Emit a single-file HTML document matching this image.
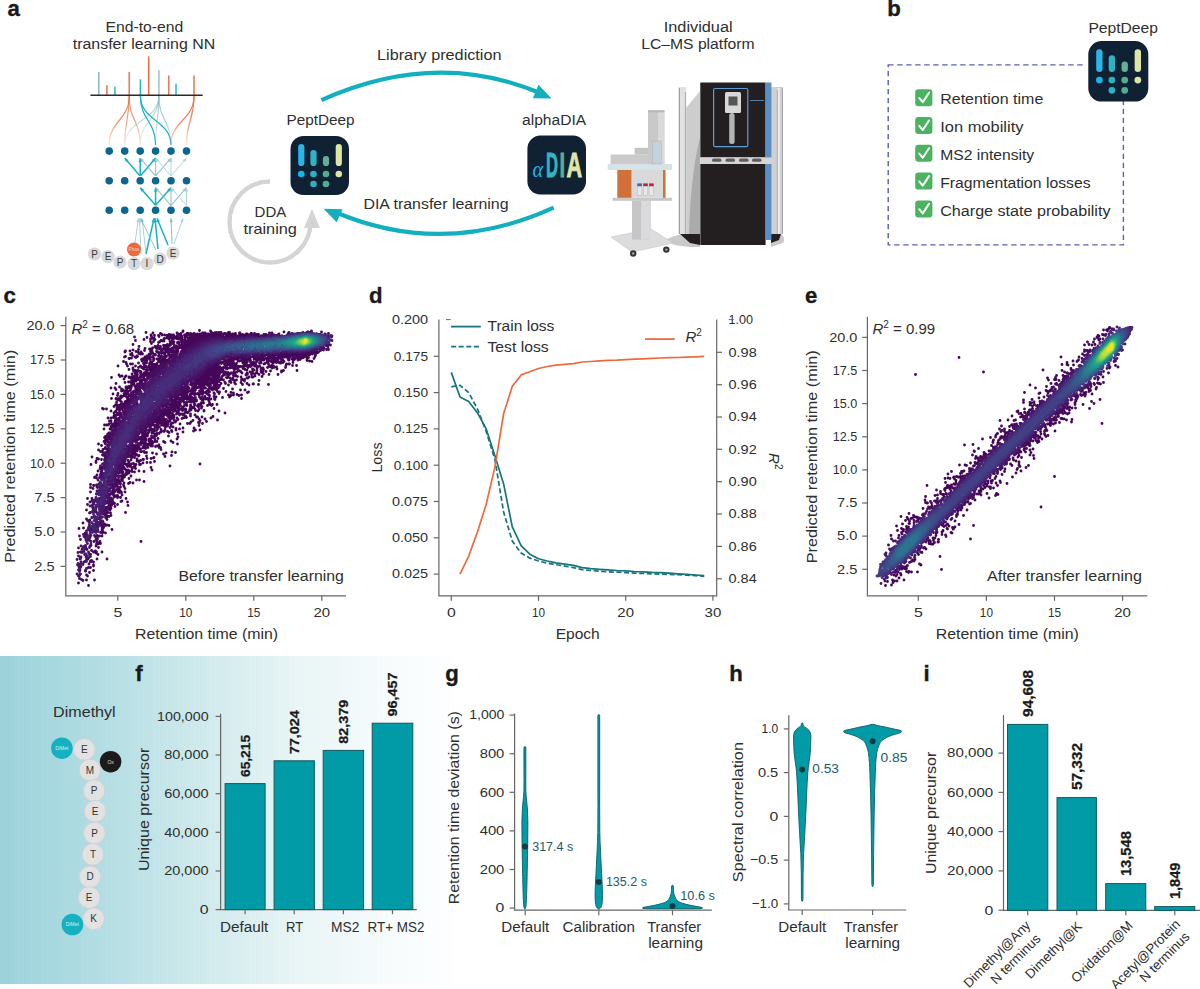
<!DOCTYPE html>
<html><head><meta charset="utf-8"><style>
html,body{margin:0;padding:0;background:#fff;width:1200px;height:989px;overflow:hidden}
svg{display:block;font-family:"Liberation Sans", sans-serif}
</style></head><body>
<svg width="1200" height="989" viewBox="0 0 1200 989" font-family='"Liberation Sans", sans-serif' font-size="13" fill="#2e2e2e">
<rect width="1200" height="989" fill="#fff"/>
<defs><linearGradient id="bg" x1="0" y1="0" x2="1" y2="0"><stop offset="0" stop-color="#9cd2db"/><stop offset="0.2" stop-color="#b0dce2"/><stop offset="0.42" stop-color="#cce8eb"/><stop offset="0.66" stop-color="#e9f5f6"/><stop offset="0.88" stop-color="#f8fcfd"/><stop offset="1" stop-color="#fdfeff"/></linearGradient></defs>
<rect x="0" y="656" width="452" height="328" fill="url(#bg)"/>
<text x="7.5" y="16.3" fill="#1a1a1a" font-weight="bold" font-size="22.2" stroke="#1a1a1a" stroke-width="0.35">a</text>
<text x="144.4" y="31.8" text-anchor="middle" font-size="15.5" textLength="77.8" lengthAdjust="spacingAndGlyphs">End-to-end</text>
<text x="144.0" y="49.3" text-anchor="middle" font-size="15.5" textLength="142.5" lengthAdjust="spacingAndGlyphs">transfer learning NN</text>
<line x1="98.8" y1="72.0" x2="98.8" y2="95.3" stroke="#7db3bc" stroke-width="1.4"/>
<line x1="106.9" y1="85.3" x2="106.9" y2="95.3" stroke="#ec6a3e" stroke-width="1.4"/>
<line x1="114.9" y1="86.4" x2="114.9" y2="95.3" stroke="#1bb3c6" stroke-width="1.4"/>
<line x1="129.2" y1="72.0" x2="129.2" y2="95.3" stroke="#ec6a3e" stroke-width="1.4"/>
<line x1="140.4" y1="79.3" x2="140.4" y2="95.3" stroke="#1bb3c6" stroke-width="1.4"/>
<line x1="148.7" y1="56.3" x2="148.7" y2="95.3" stroke="#ec6a3e" stroke-width="1.4"/>
<line x1="158.9" y1="70.3" x2="158.9" y2="95.3" stroke="#8dbdc3" stroke-width="1.4"/>
<line x1="168.8" y1="75.6" x2="168.8" y2="95.3" stroke="#ec6a3e" stroke-width="1.4"/>
<line x1="176.0" y1="83.7" x2="176.0" y2="95.3" stroke="#1bb3c6" stroke-width="1.4"/>
<line x1="194.0" y1="75.6" x2="194.0" y2="95.3" stroke="#ec6a3e" stroke-width="1.4"/>
<line x1="90.4" y1="95.3" x2="202.7" y2="95.3" stroke="#2a2a2a" stroke-width="1.4"/>
<defs><linearGradient id="fO" gradientUnits="userSpaceOnUse" x1="0" y1="118" x2="0" y2="146"><stop offset="0" stop-color="#ec6a3e"/><stop offset="1" stop-color="#ec6a3e" stop-opacity="0.15"/></linearGradient><linearGradient id="fG" gradientUnits="userSpaceOnUse" x1="0" y1="118" x2="0" y2="146"><stop offset="0" stop-color="#8fbfc5"/><stop offset="1" stop-color="#8fbfc5" stop-opacity="0.15"/></linearGradient></defs>
<path d="M129.2 96C129.2 120.5 109.2 120.5 109.2 145" fill="none" stroke="url(#fO)" stroke-width="1.2" opacity="0.8"/>
<path d="M129.2 96C129.2 120.5 124.7 120.5 124.7 145" fill="none" stroke="url(#fO)" stroke-width="1.2" opacity="0.7"/>
<path d="M129.2 96C129.2 120.5 140.2 120.5 140.2 145" fill="none" stroke="url(#fO)" stroke-width="1.2" opacity="0.7"/>
<path d="M158.9 96C158.9 120.5 124.7 120.5 124.7 145" fill="none" stroke="url(#fG)" stroke-width="1.2" opacity="0.6"/>
<path d="M158.9 96C158.9 120.5 140.2 120.5 140.2 145" fill="none" stroke="url(#fG)" stroke-width="1.2" opacity="0.6"/>
<path d="M140.4 96C140.4 120.5 155.6 120.5 155.6 145" fill="none" stroke="#16b1c4" stroke-width="1.2" opacity="1"/>
<path d="M140.4 96C140.4 120.5 171.0 120.5 171.0 145" fill="none" stroke="#16b1c4" stroke-width="1.2" opacity="1"/>
<path d="M158.9 96C158.9 120.5 155.6 120.5 155.6 145" fill="none" stroke="url(#fG)" stroke-width="1.2" opacity="0.7"/>
<path d="M158.9 96C158.9 120.5 171.0 120.5 171.0 145" fill="none" stroke="url(#fG)" stroke-width="1.2" opacity="0.8"/>
<path d="M194 96C194 120.5 171.0 120.5 171.0 145" fill="none" stroke="url(#fO)" stroke-width="1.2" opacity="0.9"/>
<path d="M194 96C194 120.5 186.5 120.5 186.5 145" fill="none" stroke="url(#fO)" stroke-width="1.2" opacity="0.8"/>
<g opacity="1"><line x1="139.89" y1="175.7" x2="124.7" y2="158.1" stroke="#16b1c4" stroke-width="1.5"/><path d="M124.7 158.1L128.5 159.9L125.9 162.1Z" fill="#16b1c4"/></g>
<g opacity="1"><line x1="140.2" y1="175.7" x2="140.2" y2="158.1" stroke="#16b1c4" stroke-width="1.5"/><path d="M140.2 158.1L141.9 161.9L138.5 161.9Z" fill="#16b1c4"/></g>
<g opacity="1"><line x1="140.50799999999998" y1="175.7" x2="155.6" y2="158.1" stroke="#16b1c4" stroke-width="1.5"/><path d="M155.6 158.1L154.4 162.1L151.8 159.9Z" fill="#16b1c4"/></g>
<g opacity="0.8"><line x1="155.292" y1="175.7" x2="140.2" y2="158.1" stroke="#7fb9c0" stroke-width="1.1"/><path d="M140.2 158.1L144.0 159.9L141.4 162.1Z" fill="#7fb9c0"/></g>
<g opacity="0.8"><line x1="155.6" y1="175.7" x2="155.6" y2="158.1" stroke="#7fb9c0" stroke-width="1.1"/><path d="M155.6 158.1L157.3 161.9L153.9 161.9Z" fill="#7fb9c0"/></g>
<g opacity="0.8"><line x1="155.908" y1="175.7" x2="171.0" y2="158.1" stroke="#7fb9c0" stroke-width="1.1"/><path d="M171.0 158.1L169.8 162.1L167.2 159.9Z" fill="#7fb9c0"/></g>
<g opacity="0.9"><line x1="170.692" y1="175.7" x2="155.6" y2="158.1" stroke="#a8d3d8" stroke-width="1"/><path d="M155.6 158.1L159.4 159.9L156.8 162.1Z" fill="#a8d3d8"/></g>
<g opacity="0.9"><line x1="171.0" y1="175.7" x2="171.0" y2="158.1" stroke="#a8d3d8" stroke-width="1"/><path d="M171.0 158.1L172.7 161.9L169.3 161.9Z" fill="#a8d3d8"/></g>
<g opacity="0.9"><line x1="171.31" y1="175.7" x2="186.5" y2="158.1" stroke="#a8d3d8" stroke-width="1"/><path d="M186.5 158.1L185.3 162.1L182.7 159.9Z" fill="#a8d3d8"/></g>
<g opacity="1"><line x1="155.6" y1="205.3" x2="140.2" y2="187.7" stroke="#16b1c4" stroke-width="1.5"/><path d="M140.2 187.7L144.0 189.5L141.4 191.7Z" fill="#16b1c4"/></g>
<g opacity="1"><line x1="155.6" y1="205.3" x2="155.6" y2="187.7" stroke="#16b1c4" stroke-width="1.5"/><path d="M155.6 187.7L157.3 191.5L153.9 191.5Z" fill="#16b1c4"/></g>
<g opacity="1"><line x1="155.6" y1="205.3" x2="171.0" y2="187.7" stroke="#16b1c4" stroke-width="1.5"/><path d="M171.0 187.7L169.8 191.7L167.2 189.5Z" fill="#16b1c4"/></g>
<g opacity="0.8"><line x1="171.0" y1="205.3" x2="155.6" y2="187.7" stroke="#7fb9c0" stroke-width="1.1"/><path d="M155.6 187.7L159.4 189.5L156.8 191.7Z" fill="#7fb9c0"/></g>
<g opacity="0.8"><line x1="171.0" y1="205.3" x2="171.0" y2="187.7" stroke="#7fb9c0" stroke-width="1.1"/><path d="M171.0 187.7L172.7 191.5L169.3 191.5Z" fill="#7fb9c0"/></g>
<g opacity="0.8"><line x1="171.0" y1="205.3" x2="186.5" y2="187.7" stroke="#7fb9c0" stroke-width="1.1"/><path d="M186.5 187.7L185.3 191.7L182.7 189.4Z" fill="#7fb9c0"/></g>
<g opacity="0.9"><line x1="186.5" y1="205.3" x2="171.0" y2="187.7" stroke="#a8d3d8" stroke-width="1"/><path d="M171.0 187.7L174.8 189.4L172.2 191.7Z" fill="#a8d3d8"/></g>
<g opacity="0.9"><line x1="186.5" y1="205.3" x2="186.5" y2="187.7" stroke="#a8d3d8" stroke-width="1"/><path d="M186.5 187.7L188.2 191.5L184.8 191.5Z" fill="#a8d3d8"/></g>
<g opacity="1"><line x1="135" y1="243" x2="138.5" y2="218.3" stroke="#a8d3d8" stroke-width="1"/><path d="M138.5 218.3L139.7 222.3L136.3 221.9Z" fill="#a8d3d8"/></g>
<g opacity="1"><line x1="141" y1="254" x2="139.5" y2="218.3" stroke="#a8d3d8" stroke-width="1"/><path d="M139.5 218.3L141.4 222.1L137.9 222.2Z" fill="#a8d3d8"/></g>
<g opacity="1"><line x1="146" y1="253" x2="142" y2="218.3" stroke="#a8d3d8" stroke-width="1"/><path d="M142 218.3L144.1 221.9L140.7 222.3Z" fill="#a8d3d8"/></g>
<g opacity="1"><line x1="146" y1="254" x2="154" y2="218.3" stroke="#16b1c4" stroke-width="1.5"/><path d="M154 218.3L154.8 222.4L151.5 221.7Z" fill="#16b1c4"/></g>
<g opacity="1"><line x1="158" y1="249" x2="155" y2="218.3" stroke="#16b1c4" stroke-width="1.5"/><path d="M155 218.3L157.1 222.0L153.7 222.3Z" fill="#16b1c4"/></g>
<g opacity="1"><line x1="168" y1="245" x2="157" y2="218.3" stroke="#16b1c4" stroke-width="1.5"/><path d="M157 218.3L160.0 221.2L156.9 222.5Z" fill="#16b1c4"/></g>
<g opacity="0.8"><line x1="156" y1="250" x2="140.5" y2="218.3" stroke="#7fb9c0" stroke-width="1"/><path d="M140.5 218.3L143.7 221.0L140.6 222.5Z" fill="#7fb9c0"/></g>
<g opacity="0.9"><line x1="172" y1="244" x2="171" y2="218.3" stroke="#7fb9c0" stroke-width="1"/><path d="M171 218.3L172.9 222.1L169.4 222.2Z" fill="#7fb9c0"/></g>
<g opacity="1"><line x1="174" y1="244" x2="183" y2="218.3" stroke="#a8d3d8" stroke-width="1"/><path d="M183 218.3L183.3 222.5L180.1 221.4Z" fill="#a8d3d8"/></g>
<circle cx="109.2" cy="151.1" r="3.8" fill="#0b6690"/>
<circle cx="124.7" cy="151.1" r="3.8" fill="#0b6690"/>
<circle cx="140.2" cy="151.1" r="3.8" fill="#0b6690"/>
<circle cx="155.6" cy="151.1" r="3.8" fill="#0b6690"/>
<circle cx="171.0" cy="151.1" r="3.8" fill="#0b6690"/>
<circle cx="186.5" cy="151.1" r="3.8" fill="#0b6690"/>
<circle cx="109.2" cy="180.7" r="3.8" fill="#0b6690"/>
<circle cx="124.7" cy="180.7" r="3.8" fill="#0b6690"/>
<circle cx="140.2" cy="180.7" r="3.8" fill="#0b6690"/>
<circle cx="155.6" cy="180.7" r="3.8" fill="#0b6690"/>
<circle cx="171.0" cy="180.7" r="3.8" fill="#0b6690"/>
<circle cx="186.5" cy="180.7" r="3.8" fill="#0b6690"/>
<circle cx="109.2" cy="210.3" r="3.8" fill="#0b6690"/>
<circle cx="124.7" cy="210.3" r="3.8" fill="#0b6690"/>
<circle cx="140.2" cy="210.3" r="3.8" fill="#0b6690"/>
<circle cx="155.6" cy="210.3" r="3.8" fill="#0b6690"/>
<circle cx="171.0" cy="210.3" r="3.8" fill="#0b6690"/>
<circle cx="186.5" cy="210.3" r="3.8" fill="#0b6690"/>
<circle cx="94.5" cy="254" r="6.6" fill="#d9d9da"/>
<circle cx="108" cy="256.5" r="6.6" fill="#d9d9da"/>
<circle cx="120" cy="262" r="6.6" fill="#d9d9da"/>
<circle cx="134" cy="263.5" r="6.6" fill="#d9d9da"/>
<circle cx="147" cy="263.5" r="6.6" fill="#d9d9da"/>
<circle cx="160" cy="259" r="6.6" fill="#d9d9da"/>
<circle cx="173" cy="253" r="6.6" fill="#d9d9da"/>
<text x="94.5" y="257.5" text-anchor="middle" fill="#3a3a3a" font-size="10">P</text>
<text x="108.0" y="260.0" text-anchor="middle" fill="#3a3a3a" font-size="10">E</text>
<text x="120.0" y="265.5" text-anchor="middle" fill="#3a3a3a" font-size="10">P</text>
<text x="134.0" y="267.0" text-anchor="middle" fill="#3a3a3a" font-size="10">T</text>
<text x="147.0" y="267.0" text-anchor="middle" fill="#3a3a3a" font-size="10">I</text>
<text x="160.0" y="262.5" text-anchor="middle" fill="#3a3a3a" font-size="10">D</text>
<text x="173.0" y="256.5" text-anchor="middle" fill="#3a3a3a" font-size="10">E</text>
<circle cx="134" cy="249.5" r="7" fill="#ec6a3e"/>
<text x="134.0" y="251.3" text-anchor="middle" fill="#ffd9c8" font-size="4.8">Phos</text>
<text x="439.3" y="60.0" text-anchor="middle" font-size="15.5" textLength="124.5" lengthAdjust="spacingAndGlyphs">Library prediction</text>
<text x="320.5" y="125.0" text-anchor="middle" font-size="14.8" textLength="68.0" lengthAdjust="spacingAndGlyphs">PeptDeep</text>
<text x="554.1" y="124.8" text-anchor="middle" font-size="15.5" textLength="64.1" lengthAdjust="spacingAndGlyphs">alphaDIA</text>
<text x="436.0" y="209.3" text-anchor="middle" font-size="15.5" textLength="145.1" lengthAdjust="spacingAndGlyphs">DIA transfer learning</text>
<text x="270.4" y="217.0" text-anchor="middle" font-size="15">DDA</text>
<text x="270.2" y="234.2" text-anchor="middle" font-size="15" textLength="53.5" lengthAdjust="spacingAndGlyphs">training</text>
<path d="M321.4 100.2Q435 49 540 93" fill="none" stroke="#12afbf" stroke-width="4.2"/>
<path d="M551.6 98.6L538.5 84.8L532.9 98.2Z" fill="#12afbf"/>
<path d="M553.7 207.7Q443 258 335 212" fill="none" stroke="#12afbf" stroke-width="4.2"/>
<path d="M323.5 208.8L342.6 209.3L336.6 222.3Z" fill="#12afbf"/>
<path d="M270 181.5A40.5 40.5 0 1 0 310.5 222" fill="none" stroke="#d3d4d6" stroke-width="4.3"/>
<path d="M312 209L304 228L320 228Z" fill="#d3d4d6"/>
<g transform="translate(290.5 136) scale(1.0000)">
<rect x="0" y="0" width="58.5" height="59" rx="13" fill="#0f2132"/>
<line x1="10.8" y1="11" x2="10.8" y2="27" stroke="#2ab4e8" stroke-width="6.2" stroke-linecap="round"/>
<line x1="23.0" y1="17" x2="23.0" y2="27" stroke="#2fb2c6" stroke-width="6.2" stroke-linecap="round"/>
<line x1="35.5" y1="23" x2="35.5" y2="27" stroke="#62ae98" stroke-width="6.2" stroke-linecap="round"/>
<line x1="48.3" y1="11" x2="48.3" y2="27" stroke="#dde6a4" stroke-width="6.2" stroke-linecap="round"/>
<circle cx="10.8" cy="38" r="3.3" fill="#13b6ea"/>
<circle cx="23.0" cy="38" r="3.3" fill="#2ab1c3"/>
<circle cx="35.5" cy="38" r="3.3" fill="#50ad90"/>
<circle cx="48.3" cy="38" r="3.3" fill="#dfe4a2"/>
<circle cx="23.0" cy="48" r="3.3" fill="#2ab1c3"/>
<circle cx="35.5" cy="48" r="3.3" fill="#50ad90"/>
</g>
<rect x="527.4" y="135.6" width="58.6" height="59" rx="13" fill="#0f2132"/>
<text x="532.6" y="177" font-family="Liberation Serif" font-style="italic" font-size="24" fill="#1fb5e8" textLength="10.6" lengthAdjust="spacingAndGlyphs">α</text>
<text x="545.9" y="176.6" font-weight="bold" font-size="35" fill="#33b4c4" stroke="#33b4c4" stroke-width="0.9" textLength="12.0" lengthAdjust="spacingAndGlyphs">D</text>
<text x="559.6" y="176.6" font-weight="bold" font-size="35" fill="#5aae96" stroke="#5aae96" stroke-width="0.9" textLength="5.6" lengthAdjust="spacingAndGlyphs">I</text>
<text x="566.6" y="176.6" font-weight="bold" font-size="35" fill="#dfe6a6" stroke="#dfe6a6" stroke-width="0.9" textLength="15.6" lengthAdjust="spacingAndGlyphs">A</text>
<text x="698.2" y="32.0" text-anchor="middle" font-size="15.5" textLength="68.8" lengthAdjust="spacingAndGlyphs">Individual</text>
<text x="697.9" y="49.0" text-anchor="middle" font-size="15.5" textLength="113.4" lengthAdjust="spacingAndGlyphs">LC–MS platform</text>
<path d="M666 240 C672 236 680 234 690 234 L700 234 L700 247 L690 247 C678 246 668 244 666 240Z" fill="#c9c9c9"/>
<path d="M771 234 L781 234 C784 236 785 240 783 243 L771 247Z" fill="#c9c9c9"/>
<path d="M686 108 L700 91 L700 234 L686 234Z" fill="#cdcdcd"/>
<path d="M700 138 C694 160 690 195 689 234 L700 234Z" fill="#ababab"/>
<rect x="678.6" y="87" width="7.7" height="147" fill="#e2e2e2"/>
<rect x="678.9" y="88" width="0.9" height="146" fill="#8a8a8a"/><rect x="684.9" y="92" width="0.8" height="142" fill="#9a9a9a"/>
<path d="M680 234 L700 234 L700 245 L690 243Z" fill="#231f20"/>
<path d="M771 87 L783 87 L783 234 L771 234Z" fill="#cfd0d2"/>
<rect x="777.5" y="88" width="2.2" height="146" fill="#eeeeee"/><rect x="776.9" y="90" width="0.7" height="144" fill="#9a9a9a"/><rect x="782.2" y="88" width="0.8" height="146" fill="#9a9a9a"/>
<path d="M771 234 L781 234 L779 240 L771 243Z" fill="#231f20"/>
<rect x="700.3" y="82.5" width="65.3" height="75" fill="#231f20"/>
<rect x="700.3" y="164" width="65.3" height="81" fill="#231f20"/>
<rect x="700.3" y="157.4" width="71.1" height="6.6" fill="#d5d5d5"/>
<rect x="712" y="158.6" width="9.5" height="3.2" rx="1.6" fill="#5e5e5e"/>
<rect x="725.5" y="158.6" width="9.5" height="3.2" rx="1.6" fill="#5e5e5e"/>
<rect x="739" y="158.6" width="9.5" height="3.2" rx="1.6" fill="#5e5e5e"/>
<rect x="752" y="158.6" width="9.5" height="3.2" rx="1.6" fill="#5e5e5e"/>
<rect x="765.6" y="82.5" width="5.8" height="75" fill="#5b8ec3"/>
<rect x="765.6" y="164" width="5.8" height="76" fill="#5b8ec3"/>
<rect x="713.6" y="88.5" width="34.2" height="58.2" rx="1.5" fill="none" stroke="#5c9bd3" stroke-width="1.2"/>
<rect x="725" y="92" width="16" height="21" rx="1.5" fill="#d8d8d8"/>
<rect x="728.5" y="96.5" width="9" height="9" fill="#555"/>
<rect x="729.2" y="113" width="5.4" height="31" rx="2.5" fill="#b4b4b4"/>
<rect x="750" y="100" width="14" height="0.8" fill="#5c9bd3"/>
<path d="M611 237 L651 229 L673 243 L632 252Z" fill="#dcdcdc" stroke="#c2c2c2" stroke-width="0.6"/>
<circle cx="633.2" cy="253.5" r="3.2" fill="#333"/><circle cx="666.3" cy="249.6" r="3.2" fill="#333"/><circle cx="633.2" cy="253.5" r="1.2" fill="#aaa"/><circle cx="666.3" cy="249.6" r="1.2" fill="#aaa"/>
<rect x="632" y="200.6" width="19" height="39" fill="#c6c6c8"/>
<rect x="641" y="200.6" width="10" height="39" fill="#dadadc"/>
<rect x="612.5" y="197.8" width="59.5" height="3" fill="#c8c8c8"/>
<rect x="617.3" y="170" width="14.4" height="27.8" fill="#d2703a"/>
<rect x="631.7" y="170" width="33.6" height="27.8" fill="#d9d9d9"/>
<rect x="663" y="170" width="2.5" height="27.8" fill="#d2703a"/>
<rect x="637.3000000000001" y="183.4" width="4.6" height="3" fill="#3f63c7"/><rect x="637.3000000000001" y="186.4" width="4.6" height="9" fill="#e8e8e8" stroke="#aaa" stroke-width="0.4"/>
<rect x="643.2" y="183.4" width="4.6" height="3" fill="#c0223a"/><rect x="643.2" y="186.4" width="4.6" height="9" fill="#e8e8e8" stroke="#aaa" stroke-width="0.4"/>
<rect x="649.1" y="183.4" width="4.6" height="3" fill="#c0223a"/><rect x="649.1" y="186.4" width="4.6" height="9" fill="#e8e8e8" stroke="#aaa" stroke-width="0.4"/>
<rect x="607.7" y="164.1" width="64.3" height="5.9" fill="#d5e2e6"/>
<rect x="610.6" y="154.5" width="41.3" height="9.6" fill="#cbcbcb"/>
<rect x="634.6" y="147.8" width="17.4" height="6.7" fill="#c4c4c4"/>
<rect x="648" y="110.3" width="16.4" height="53.8" fill="#c9c9c9"/>
<rect x="658" y="112" width="6.4" height="52" fill="#d9d9d9"/>
<rect x="652.3" y="141" width="9.2" height="23" fill="#c3d2d6" stroke="#aab" stroke-width="0.4"/>
<rect x="648" y="110.3" width="16.4" height="2" fill="#b5b5b5"/>
<text x="887.2" y="15.8" fill="#1a1a1a" font-weight="bold" font-size="22.2" stroke="#1a1a1a" stroke-width="0.35">b</text>
<rect x="888.2" y="64.9" width="235.2" height="180" fill="none" stroke="#5a5fae" stroke-width="1.4" stroke-dasharray="5.4 3.6"/>
<rect x="1085" y="60" width="66" height="10" fill="#fff"/>
<g transform="translate(1088.3 41.1) scale(1.0256)">
<rect x="0" y="0" width="58.5" height="59" rx="13" fill="#0f2132"/>
<line x1="10.8" y1="11" x2="10.8" y2="27" stroke="#2ab4e8" stroke-width="6.2" stroke-linecap="round"/>
<line x1="23.0" y1="17" x2="23.0" y2="27" stroke="#2fb2c6" stroke-width="6.2" stroke-linecap="round"/>
<line x1="35.5" y1="23" x2="35.5" y2="27" stroke="#62ae98" stroke-width="6.2" stroke-linecap="round"/>
<line x1="48.3" y1="11" x2="48.3" y2="27" stroke="#dde6a4" stroke-width="6.2" stroke-linecap="round"/>
<circle cx="10.8" cy="38" r="3.3" fill="#13b6ea"/>
<circle cx="23.0" cy="38" r="3.3" fill="#2ab1c3"/>
<circle cx="35.5" cy="38" r="3.3" fill="#50ad90"/>
<circle cx="48.3" cy="38" r="3.3" fill="#dfe4a2"/>
<circle cx="23.0" cy="48" r="3.3" fill="#2ab1c3"/>
<circle cx="35.5" cy="48" r="3.3" fill="#50ad90"/>
</g>
<text x="1123.2" y="32.6" text-anchor="middle" font-size="15.5" textLength="69.6" lengthAdjust="spacingAndGlyphs">PeptDeep</text>
<rect x="915.2" y="89.2" width="17.2" height="17" rx="3.2" fill="#4bb360"/>
<path d="M919.2 98.0L922.8 102.2L929 92.7" fill="none" stroke="#fff" stroke-width="2" stroke-linecap="round" stroke-linejoin="round"/>
<text x="940.2" y="103.7" font-size="15.3" textLength="103.1" lengthAdjust="spacingAndGlyphs">Retention time</text>
<rect x="915.2" y="117.0" width="17.2" height="17" rx="3.2" fill="#4bb360"/>
<path d="M919.2 125.8L922.8 130.0L929 120.5" fill="none" stroke="#fff" stroke-width="2" stroke-linecap="round" stroke-linejoin="round"/>
<text x="940.2" y="131.8" font-size="15.3" textLength="83.3" lengthAdjust="spacingAndGlyphs">Ion mobility</text>
<rect x="915.2" y="144.8" width="17.2" height="17" rx="3.2" fill="#4bb360"/>
<path d="M919.2 153.6L922.8 157.8L929 148.3" fill="none" stroke="#fff" stroke-width="2" stroke-linecap="round" stroke-linejoin="round"/>
<text x="940.2" y="159.8" font-size="15.3" textLength="94.0" lengthAdjust="spacingAndGlyphs">MS2 intensity</text>
<rect x="915.2" y="172.6" width="17.2" height="17" rx="3.2" fill="#4bb360"/>
<path d="M919.2 181.4L922.8 185.6L929 176.1" fill="none" stroke="#fff" stroke-width="2" stroke-linecap="round" stroke-linejoin="round"/>
<text x="940.2" y="187.9" font-size="15.3" textLength="150.4" lengthAdjust="spacingAndGlyphs">Fragmentation losses</text>
<rect x="915.2" y="200.4" width="17.2" height="17" rx="3.2" fill="#4bb360"/>
<path d="M919.2 209.2L922.8 213.4L929 203.9" fill="none" stroke="#fff" stroke-width="2" stroke-linecap="round" stroke-linejoin="round"/>
<text x="940.2" y="216.0" font-size="15.3" textLength="170.3" lengthAdjust="spacingAndGlyphs">Charge state probability</text>
<text x="3.5" y="303.2" fill="#1a1a1a" font-weight="bold" font-size="22.2" stroke="#1a1a1a" stroke-width="0.35">c</text>
<g transform="scale(.5)" stroke-linecap="round" stroke-width="5.7">
<path d="M157 1152h0m0 14h0m1-109h0m1 15h0m1 63h0m4-36h0m2-53h0m0 115h0m1-105h0m0 13h0m4-3h0m0 76h0m2-122h0m0 117h0m0 13h0m0 10h0m1-90h0m0 29h0m1-102h0m0 12h0m0 32h0m0 31h0m0 80h0m1-34h0m1 17h0m0 36h0m1-43h0m1-79h0m0 3h0m0 93h0m1-141h0m0 36h0m0 69h0m1-140h0m0 6h0m0 9h0m0 41h0m0 98h0m0 12h0m1-206h0m0 194h0m1-22h0m0 20h0m1-207h0m0 83h0m0 38h0m0 25h0m1-59h0m0 13h0m1-37h0m0 28h0m1-34h0m0 133h0m0 20h0m0 6h0m0 2h0m0 9h0m1-170h0m0 112h0m0 21h0m1-149h0m0 67h0m0 138h0m1-206h0m1 148h0m1-180h0m0 3h0m0 88h0m0 10h0m0 22h0m0 34h0m0 13h0m0 14h0m1-150h0m0 88h0m0 17h0m0 27h0m0 1h0m0 15h0m1-187h0m0 33h0m0 24h0m0 69h0m0 2h0m0 4h0m0 22h0m0 13h0m0 34h0m1-143h0m0 63h0m1-96h0m0 57h0m0 74h0m0 15h0m0 21h0m1-221h0m0 12h0m0 18h0m0 64h0m0 105h0m0 8h0m1-50h0m1-48h0m0 38h0m0 37h0m1-135h0m0 85h0m0 61h0m1-180h0m0 32h0m0 14h0m0 4h0m0 16h0m0 77h0m0 19h0m0 22h0m1-115h0m0 41h0m0 14h0m0 18h0m1-154h0m0 28h0m0 55h0m0 23h0m0 53h0m1-147h0m0 33h0m0 5h0m0 10h0m0 4h0m0 3h0m0 98h0m0 4h0m0 3h0m0 9h0m0 32h0m1-287h0m0 87h0m0 6h0m0 39h0m0 104h0m0 13h0m1-167h0m0 48h0m0 24h0m0 73h0m0 9h0m0 4h0m0 6h0m0 1h0m1-246h0m0 111h0m0 90h0m0 34h0m0 2h0m1-197h0m0 25h0m0 28h0m0 45h0m0 94h0m1-200h0m0 25h0m0 45h0m0 102h0m0 4h0m0 22h0m1-162h0m0 11h0m0 10h0m0 2h0m0 1h0m0 15h0m0 37h0m0 14h0m0 54h0m1-157h0m0 7h0m0 8h0m0 7h0m0 21h0m0 86h0m0 3h0m0 30h0m0 16h0m0 15h0m1-193h0m0 6h0m0 34h0m0 68h0m0 34h0m0 0h0m0 12h0m1-209h0m0 32h0m0 32h0m0 43h0m0 29h0m0 73h0m0 8h0m0 2h0m1-138h0m0 6h0m0 81h0m0 36h0m0 17h0m0 11h0m0 68h0m1-249h0m0 6h0m0 3h0m0 5h0m0 39h0m0 41h0m0 30h0m0 23h0m0 16h0m1-196h0m0 14h0m0 18h0m0 34h0m0 65h0m0 14h0m0 14h0m0 19h0m0 11h0m1-155h0m0 25h0m0 15h0m0 5h0m0 0h0m0 85h0m0 7h0m0 7h0m1-166h0m0 18h0m0 98h0m0 4h0m0 1h0m0 20h0m0 21h0m0 23h0m0 18h0m1-209h0m0 34h0m0 26h0m0 2h0m0 92h0m0 11h0m0 0h0m0 0h0m0 6h0m0 5h0m1-160h0m0 8h0m0 2h0m0 6h0m0 2h0m0 2h0m0 43h0m0 1h0m0 26h0m0 8h0m0 48h0m0 13h0m0 3h0m1-67h0m0 3h0m0 6h0m0 49h0m0 4h0m0 11h0m1-250h0m0 46h0m0 14h0m0 6h0m0 11h0m0 1h0m0 4h0m0 10h0m0 11h0m0 10h0m0 20h0m0 59h0m0 5h0m0 15h0m0 9h0m0 20h0m0 14h0m1-276h0m0 42h0m0 50h0m0 6h0m0 84h0m0 12h0m0 9h0m0 44h0m0 9h0m1-139h0m0 93h0m0 0h0m0 42h0m0 52h0m1-209h0m0 9h0m0 1h0m0 24h0m0 34h0m0 32h0m0 1h0m0 2h0m0 9h0m0 36h0m0 4h0m1-214h0m0 61h0m0 16h0m0 32h0m0 56h0m0 6h0m0 12h0m0 5h0m0 6h0m0 1h0m1-148h0m0 19h0m0 24h0m0 68h0m0 3h0m0 10h0m0 3h0m0 8h0m0 10h0m0 2h0m0 4h0m0 5h0m1-178h0m0 13h0m0 6h0m0 32h0m0 5h0m0 30h0m0 7h0m0 9h0m0 28h0m0 32h0m0 15h0m0 16h0m0 1h0m1-177h0m0 17h0m0 73h0m0 20h0m0 18h0m0 2h0m0 10h0m0 13h0m0 11h0m0 13h0m1-231h0m0 54h0m0 0h0m0 1h0m0 12h0m0 6h0m0 1h0m0 15h0m0 18h0m0 20h0m0 56h0m0 12h0m0 12h0m0 30h0m1-203h0m0 13h0m0 12h0m0 5h0m0 12h0m0 9h0m0 1h0m0 22h0m0 65h0m0 9h0m0 34h0m1-225h0m0 12h0m0 18h0m0 1h0m0 25h0m0 19h0m0 12h0m0 4h0m0 68h0m0 10h0m0 7h0m0 6h0m0 1h0m0 2h0m0 16h0m0 4h0m1-167h0m0 25h0m0 12h0m0 5h0m0 90h0m0 25h0m0 17h0m1-181h0m0 18h0m0 3h0m0 11h0m0 10h0m0 88h0m0 16h0m0 17h0m0 2h0m0 2h0m0 5h0m1-179h0m0 19h0m0 4h0m0 13h0m0 11h0m0 1h0m0 11h0m0 8h0m0 3h0m0 31h0m0 24h0m0 6h0m0 51h0m0 5h0m0 13h0m0 4h0m0 14h0m1-277h0m0 55h0m0 13h0m0 11h0m0 27h0m0 9h0m0 85h0m0 52h0m0 10h0m1-197h0m0 1h0m0 40h0m0 1h0m0 1h0m0 87h0m0 7h0m0 4h0m0 8h0m0 6h0m0 4h0m1-206h0m0 65h0m0 2h0m0 23h0m0 44h0m0 38h0m0 11h0m0 28h0m0 1h0m0 17h0m0 2h0m0 1h0m1-208h0m0 25h0m0 17h0m0 2h0m0 4h0m0 4h0m0 3h0m0 1h0m0 6h0m0 6h0m0 11h0m0 43h0m0 31h0m0 13h0m0 27h0m0 18h0m1-232h0m0 46h0m0 11h0m0 20h0m0 16h0m0 41h0m0 51h0m0 7h0m0 19h0m0 11h0m1-182h0m0 9h0m0 115h0m0 13h0m0 1h0m0 21h0m0 11h0m0 5h0m0 6h0m0 8h0m0 13h0m1-203h0m0 22h0m0 4h0m0 9h0m0 2h0m0 1h0m0 93h0m0 80h0m1-225h0m0 4h0m0 13h0m0 9h0m0 0h0m0 3h0m0 6h0m0 2h0m0 14h0m0 37h0m0 54h0m0 2h0m0 12h0m0 19h0m0 5h0m0 27h0m1-233h0m0 27h0m0 32h0m0 4h0m0 2h0m0 1h0m0 24h0m0 1h0m0 51h0m0 30h0m0 17h0m0 3h0m0 9h0m0 3h0m0 34h0m0 12h0m1-209h0m0 138h0m0 3h0m0 1h0m0 3h0m0 10h0m0 10h0m0 3h0m1-181h0m0 1h0m0 32h0m0 9h0m0 85h0m0 19h0m0 6h0m0 12h0m0 8h0m0 3h0m1-232h0m0 187h0m0 3h0m0 3h0m0 20h0m0 34h0m1-212h0m0 29h0m0 4h0m0 17h0m0 1h0m0 68h0m0 9h0m0 49h0m0 31h0m0 7h0m1-259h0m0 99h0m0 2h0m0 13h0m0 48h0m0 10h0m0 4h0m0 19h0m0 13h0m0 3h0m0 2h0m0 23h0m0 2h0m0 2h0m1-251h0m0 1h0m0 50h0m0 11h0m0 17h0m0 22h0m0 7h0m0 9h0m0 1h0m0 1h0m0 3h0m0 14h0m0 8h0m0 75h0m0 16h0m0 39h0m0 7h0m1-282h0m0 11h0m0 77h0m0 2h0m0 11h0m0 2h0m0 7h0m0 213h0m1-300h0m0 27h0m0 22h0m0 2h0m0 8h0m0 22h0m0 5h0m0 4h0m0 87h0m0 10h0m0 17h0m0 11h0m0 7h0m0 50h0m1-269h0m0 56h0m0 5h0m0 14h0m0 5h0m0 1h0m0 13h0m0 0h0m0 61h0m0 23h0m0 39h0m0 1h0m0 2h0m0 1h0m1-175h0m0 7h0m0 14h0m0 10h0m0 27h0m0 3h0m0 96h0m0 14h0m1-213h0m0 45h0m0 11h0m0 12h0m0 13h0m0 25h0m0 56h0m0 1h0m0 19h0m0 14h0m0 5h0m0 71h0m1-208h0m0 7h0m0 104h0m0 1h0m0 13h0m0 19h0m0 3h0m0 3h0m0 65h0m1-247h0m0 19h0m0 6h0m0 16h0m0 6h0m0 87h0m0 5h0m0 64h0m1-250h0m0 22h0m0 15h0m0 1h0m0 18h0m0 2h0m0 16h0m0 22h0m0 4h0m0 29h0m0 28h0m0 3h0m0 19h0m0 13h0m0 2h0m0 13h0m0 21h0m0 1h0m0 11h0m1-240h0m0 57h0m0 24h0m0 2h0m0 4h0m0 4h0m0 4h0m0 1h0m0 8h0m0 10h0m0 7h0m0 3h0m0 39h0m0 20h0m0 12h0m0 17h0m0 13h0m1-240h0m0 62h0m0 26h0m0 1h0m0 25h0m0 50h0m0 24h0m0 4h0m0 5h0m0 14h0m0 20h0m0 32h0m1-256h0m0 19h0m0 0h0m0 47h0m0 5h0m0 10h0m0 47h0m0 57h0m0 3h0m0 2h0m0 13h0m0 19h0m1-174h0m0 14h0m0 4h0m0 0h0m0 1h0m0 119h0m0 3h0m0 1h0m0 0h0m0 14h0m0 7h0m0 32h0m1-236h0m0 38h0m0 2h0m0 7h0m0 3h0m0 7h0m0 12h0m0 3h0m0 1h0m0 5h0m0 7h0m0 34h0m0 9h0m0 36h0m0 32h0m0 3h0m0 13h0m1-221h0m0 41h0m0 44h0m0 11h0m0 36h0m0 41h0m0 0h0m0 1h0m0 2h0m0 21h0m0 4h0m0 3h0m0 4h0m0 23h0m0 5h0m1-232h0m0 17h0m0 126h0m0 23h0m0 6h0m0 1h0m0 7h0m0 1h0m0 7h0m0 1h0m0 14h0m0 21h0m0 1h0m1-247h0m0 11h0m0 36h0m0 2h0m0 18h0m0 2h0m0 3h0m0 7h0m0 20h0m0 51h0m0 63h0m0 1h0m0 6h0m0 57h0m1-224h0m0 11h0m0 30h0m0 21h0m0 99h0m0 4h0m0 20h0m1-173h0m0 10h0m0 3h0m0 1h0m0 50h0m0 74h0m0 4h0m0 6h0m1-228h0m0 67h0m0 18h0m0 12h0m0 11h0m0 84h0m0 8h0m0 18h0m0 7h0m0 7h0m0 9h0m0 17h0m0 12h0m1-230h0m0 33h0m0 6h0m0 31h0m0 21h0m0 46h0m0 9h0m0 16h0m0 15h0m0 3h0m0 4h0m0 6h0m0 30h0m1-253h0m0 51h0m0 9h0m0 11h0m0 23h0m0 6h0m0 32h0m0 7h0m0 36h0m0 39h0m0 14h0m0 2h0m0 19h0m0 7h0m1-234h0m0 12h0m0 47h0m0 14h0m0 2h0m0 2h0m0 6h0m0 78h0m0 9h0m0 12h0m0 10h0m0 2h0m0 4h0m0 0h0m0 28h0m1-174h0m0 1h0m0 3h0m0 13h0m0 36h0m0 15h0m0 46h0m0 13h0m0 27h0m0 51h0m1-248h0m0 33h0m0 6h0m0 4h0m0 5h0m0 13h0m0 3h0m0 2h0m0 42h0m0 51h0m0 20h0m0 11h0m0 16h0m0 4h0m1-209h0m0 36h0m0 19h0m0 1h0m0 6h0m0 4h0m0 4h0m0 13h0m0 14h0m0 8h0m0 36h0m0 40h0m0 27h0m1-217h0m0 37h0m0 15h0m0 14h0m0 18h0m0 0h0m0 91h0m0 20h0m1-200h0m0 27h0m0 9h0m0 35h0m0 53h0m0 6h0m0 58h0m0 25h0m1-219h0m0 14h0m0 35h0m0 42h0m0 84h0m0 7h0m0 3h0m0 15h0m0 3h0m0 15h0m0 13h0m0 18h0m1-182h0m0 9h0m0 80h0m0 28h0m0 52h0m0 31h0m1-253h0m0 47h0m0 11h0m0 10h0m0 3h0m0 4h0m0 76h0m0 29h0m1-179h0m0 24h0m0 11h0m0 4h0m0 5h0m0 13h0m0 57h0m0 24h0m0 18h0m0 23h0m0 11h0m0 5h0m0 18h0m0 8h0m1-225h0m0 40h0m0 9h0m0 1h0m0 6h0m0 37h0m0 57h0m0 21h0m0 8h0m0 1h0m0 2h0m0 3h0m0 194h0m1-364h0m0 0h0m0 16h0m0 28h0m0 72h0m0 29h0m0 10h0m0 0h0m0 1h0m0 4h0m0 7h0m0 17h0m1-196h0m0 15h0m0 13h0m0 18h0m0 7h0m0 102h0m0 2h0m1-156h0m0 10h0m0 33h0m0 16h0m0 6h0m0 87h0m0 5h0m0 1h0m0 0h0m0 1h0m0 3h0m0 1h0m1-150h0m0 28h0m0 2h0m0 90h0m0 22h0m0 7h0m0 7h0m0 17h0m0 2h0m0 23h0m0 7h0m1-199h0m0 11h0m0 0h0m0 13h0m0 0h0m0 1h0m0 7h0m0 1h0m0 17h0m0 17h0m0 5h0m0 39h0m0 26h0m0 1h0m0 11h0m0 7h0m0 12h0m0 24h0m1-240h0m0 38h0m0 3h0m0 13h0m0 2h0m0 3h0m0 8h0m0 10h0m0 107h0m0 6h0m0 19h0m0 0h0m0 3h0m0 12h0m0 40h0m0 20h0m1-262h0m0 30h0m0 16h0m0 5h0m0 118h0m0 1h0m0 7h0m0 2h0m0 25h0m1-208h0m0 17h0m0 12h0m0 19h0m0 0h0m0 16h0m0 16h0m0 14h0m0 8h0m0 2h0m0 50h0m0 15h0m0 8h0m0 5h0m0 4h0m1-161h0m0 23h0m0 3h0m0 2h0m0 10h0m0 2h0m0 92h0m0 4h0m0 1h0m0 36h0m0 2h0m1-232h0m0 68h0m0 1h0m0 6h0m0 7h0m0 1h0m0 109h0m0 21h0m0 3h0m0 6h0m0 3h0m1-173h0m0 4h0m0 3h0m0 2h0m0 20h0m0 4h0m0 25h0m0 86h0m0 8h0m0 36h0m0 7h0m1-237h0m0 37h0m0 5h0m0 4h0m0 14h0m0 7h0m0 6h0m0 2h0m0 9h0m0 12h0m0 68h0m0 13h0m0 2h0m0 13h0m0 50h0m0 8h0m1-208h0m0 23h0m0 10h0m0 3h0m0 1h0m0 98h0m0 20h0m1-126h0m0 4h0m0 101h0m0 16h0m0 23h0m0 5h0m1-128h0m0 85h0m0 36h0m1-179h0m0 4h0m0 1h0m0 3h0m0 15h0m0 1h0m0 1h0m0 12h0m0 41h0m0 73h0m0 3h0m0 1h0m0 15h0m0 3h0m0 7h0m1-191h0m0 10h0m0 19h0m0 12h0m0 15h0m0 2h0m0 66h0m0 20h0m0 10h0m0 26h0m0 2h0m1-143h0m0 1h0m0 8h0m0 1h0m0 2h0m0 65h0m0 3h0m0 6h0m0 25h0m0 1h0m0 8h0m0 1h0m0 31h0m1-211h0m0 5h0m0 20h0m0 6h0m0 6h0m0 5h0m0 4h0m0 28h0m0 88h0m0 14h0m0 0h0m0 6h0m0 23h0m0 3h0m0 3h0m0 36h0m1-255h0m0 37h0m0 20h0m0 1h0m0 9h0m0 5h0m0 32h0m0 75h0m0 28h0m0 15h0m0 25h0m0 18h0m1-262h0m0 14h0m0 11h0m0 36h0m0 1h0m0 5h0m0 0h0m0 69h0m0 3h0m0 15h0m0 11h0m0 8h0m0 1h0m0 11h0m0 14h0m1-172h0m0 25h0m0 4h0m0 3h0m0 2h0m0 11h0m0 2h0m0 2h0m0 1h0m0 1h0m0 2h0m0 47h0m0 14h0m0 52h0m0 16h0m0 2h0m0 56h0m1-244h0m0 9h0m0 34h0m0 1h0m0 25h0m0 64h0m0 11h0m0 10h0m0 10h0m0 3h0m0 1h0m0 23h0m0 5h0m0 14h0m1-240h0m0 11h0m0 30h0m0 6h0m0 125h0m0 8h0m0 3h0m0 0h0m0 0h0m0 10h0m0 2h0m0 4h0m0 10h0m0 10h0m1-202h0m0 33h0m0 3h0m0 2h0m0 16h0m0 5h0m0 4h0m0 3h0m0 22h0m0 48h0m0 10h0m0 10h0m0 2h0m0 2h0m0 7h0m0 10h0m0 6h0m0 50h0m1-240h0m0 42h0m0 11h0m0 4h0m0 3h0m0 2h0m0 10h0m0 49h0m0 44h0m0 3h0m0 16h0m0 13h0m0 42h0m1-244h0m0 62h0m0 5h0m0 81h0m0 21h0m0 0h0m0 83h0m1-244h0m0 14h0m0 1h0m0 15h0m0 20h0m0 4h0m0 6h0m0 11h0m0 21h0m0 61h0m0 6h0m0 3h0m0 11h0m0 3h0m0 6h0m0 8h0m0 2h0m0 2h0m0 6h0m0 4h0m1-173h0m0 27h0m0 60h0m0 30h0m0 11h0m0 0h0m0 13h0m0 42h0m1-158h0m0 5h0m0 0h0m0 9h0m0 88h0m0 7h0m0 26h0m1-176h0m0 3h0m0 6h0m0 28h0m0 4h0m0 4h0m0 3h0m0 82h0m0 12h0m0 17h0m0 8h0m0 6h0m0 4h0m0 21h0m0 16h0m1-204h0m0 14h0m0 9h0m0 1h0m0 4h0m0 85h0m0 22h0m0 10h0m0 11h0m0 7h0m0 16h0m1-149h0m0 30h0m0 36h0m0 42h0m0 4h0m0 12h0m1-167h0m0 13h0m0 28h0m0 13h0m0 94h0m0 1h0m0 1h0m0 11h0m0 1h0m0 24h0m1-206h0m0 14h0m0 12h0m0 15h0m0 11h0m0 16h0m0 97h0m0 9h0m0 4h0m0 0h0m1-176h0m0 34h0m0 1h0m0 13h0m0 17h0m0 23h0m0 74h0m0 6h0m0 26h0m0 23h0m0 5h0m1-211h0m0 13h0m0 20h0m0 15h0m0 12h0m0 62h0m0 26h0m0 6h0m0 5h0m0 3h0m0 8h0m1-171h0m0 11h0m0 12h0m0 8h0m0 5h0m0 101h0m0 12h0m0 2h0m0 0h0m0 9h0m1-176h0m0 26h0m0 3h0m0 3h0m0 6h0m0 12h0m0 6h0m0 2h0m0 11h0m0 10h0m0 28h0m0 45h0m0 6h0m0 4h0m0 2h0m0 4h0m0 9h0m0 1h0m0 19h0m0 31h0m1-214h0m0 38h0m0 4h0m0 4h0m0 3h0m0 9h0m0 28h0m0 5h0m0 55h0m0 10h0m0 3h0m0 19h0m0 5h0m0 35h0m1-231h0m0 13h0m0 18h0m0 7h0m0 6h0m0 44h0m0 70h0m0 4h0m0 2h0m0 0h0m0 18h0m0 12h0m1-192h0m0 36h0m0 16h0m0 7h0m0 8h0m0 66h0m0 20h0m0 2h0m0 2h0m0 3h0m1-148h0m0 21h0m0 0h0m0 0h0m0 14h0m0 7h0m0 85h0m0 16h0m0 7h0m0 4h0m0 0h0m0 1h0m0 8h0m1-123h0m0 7h0m0 94h0m0 4h0m0 5h0m0 8h0m0 10h0m1-159h0m0 6h0m0 1h0m0 8h0m0 24h0m0 7h0m0 88h0m0 13h0m0 45h0m0 25h0m1-230h0m0 4h0m0 9h0m0 5h0m0 18h0m0 3h0m0 2h0m0 10h0m0 8h0m0 15h0m0 53h0m0 16h0m0 10h0m0 6h0m0 8h0m0 2h0m0 16h0m1-193h0m0 7h0m0 20h0m0 0h0m0 9h0m0 3h0m0 7h0m0 81h0m0 30h0m0 1h0m0 24h0m0 10h0m1-155h0m0 7h0m0 3h0m0 0h0m0 4h0m0 0h0m0 4h0m0 12h0m0 24h0m0 61h0m0 20h0m0 8h0m0 3h0m0 6h0m0 26h0m0 28h0m1-222h0m0 10h0m0 3h0m0 37h0m0 62h0m0 9h0m0 6h0m0 7h0m0 2h0m0 13h0m0 10h0m0 4h0m1-142h0m0 10h0m0 22h0m0 69h0m0 30h0m0 3h0m0 60h0m1-213h0m0 7h0m0 12h0m0 0h0m0 1h0m0 8h0m0 2h0m0 8h0m0 77h0m0 2h0m0 13h0m0 6h0m0 10h0m1-168h0m0 2h0m0 3h0m0 21h0m0 4h0m0 42h0m0 9h0m0 70h0m0 0h0m0 2h0m0 6h0m1-141h0m0 32h0m0 1h0m0 37h0m0 46h0m0 22h0m0 0h0m0 5h0m0 20h0m0 11h0m1-169h0m0 8h0m0 3h0m0 110h0m0 5h0m0 6h0m0 23h0m1-158h0m0 6h0m0 11h0m0 11h0m0 25h0m0 42h0m0 23h0m0 12h0m0 13h0m0 9h0m0 1h0m0 28h0m1-203h0m0 3h0m0 4h0m0 2h0m0 20h0m0 9h0m0 12h0m0 1h0m0 66h0m0 48h0m0 1h0m0 30h0m1-189h0m0 15h0m0 12h0m0 2h0m0 7h0m0 5h0m0 76h0m0 8h0m0 0h0m0 24h0m0 3h0m0 4h0m0 2h0m0 2h0m0 1h0m0 4h0m1-158h0m0 6h0m0 25h0m0 20h0m0 74h0m0 13h0m0 20h0m0 14h0m0 77h0m1-262h0m0 5h0m0 10h0m0 1h0m0 0h0m0 3h0m0 1h0m0 0h0m0 8h0m0 4h0m0 8h0m0 1h0m0 32h0m0 68h0m0 3h0m0 3h0m0 16h0m1-119h0m0 17h0m0 39h0m0 47h0m0 4h0m0 12h0m0 3h0m0 12h0m0 4h0m0 30h0m1-212h0m0 3h0m0 11h0m0 3h0m0 13h0m0 10h0m0 3h0m0 12h0m0 24h0m0 37h0m0 17h0m0 24h0m0 8h0m0 0h0m0 2h0m0 0h0m0 9h0m0 15h0m0 50h0m1-231h0m0 5h0m0 1h0m0 11h0m0 2h0m0 5h0m0 6h0m0 2h0m0 88h0m0 9h0m0 1h0m0 26h0m0 27h0m0 41h0m1-225h0m0 4h0m0 13h0m0 1h0m0 7h0m0 14h0m0 2h0m0 86h0m0 3h0m0 2h0m0 5h0m0 12h0m0 0h0m0 4h0m1-160h0m0 4h0m0 11h0m0 13h0m0 11h0m0 0h0m0 14h0m0 8h0m0 11h0m0 47h0m0 10h0m0 10h0m0 7h0m0 2h0m0 26h0m0 8h0m0 31h0m1-215h0m0 1h0m0 16h0m0 16h0m0 10h0m0 0h0m0 8h0m0 80h0m0 16h0m0 6h0m0 13h0m1-164h0m0 5h0m0 7h0m0 10h0m0 3h0m0 8h0m0 63h0m0 63h0m0 3h0m0 6h0m1-149h0m0 14h0m0 0h0m0 0h0m0 5h0m0 5h0m0 0h0m0 26h0m0 36h0m0 27h0m0 2h0m1-132h0m0 29h0m0 5h0m0 3h0m0 4h0m0 9h0m0 61h0m0 7h0m0 3h0m0 2h0m0 1h0m0 13h0m0 4h0m0 3h0m0 4h0m1-115h0m0 65h0m0 30h0m0 4h0m0 3h0m0 35h0m0 61h0m1-211h0m0 1h0m0 13h0m0 4h0m0 76h0m0 1h0m0 7h0m0 7h0m0 3h0m0 1h0m0 35h0m0 15h0m0 3h0m1-183h0m0 15h0m0 8h0m0 3h0m0 5h0m0 1h0m0 66h0m0 6h0m0 13h0m0 5h0m0 7h0m0 1h0m0 2h0m0 3h0m0 4h0m0 12h0m1-162h0m0 6h0m0 23h0m0 1h0m0 5h0m0 4h0m0 1h0m0 83h0m0 27h0m0 11h0m0 9h0m0 42h0m1-211h0m0 6h0m0 12h0m0 1h0m0 13h0m0 4h0m0 0h0m0 2h0m0 30h0m0 35h0m0 27h0m0 0h0m0 15h0m0 10h0m0 2h0m0 44h0m0 20h0m1-212h0m0 2h0m0 8h0m0 16h0m0 81h0m0 8h0m0 13h0m0 9h0m0 7h0m0 5h0m0 14h0m0 35h0m1-180h0m0 20h0m0 2h0m0 8h0m0 57h0m0 14h0m0 11h0m0 7h0m0 1h0m0 7h0m0 2h0m1-145h0m0 7h0m0 1h0m0 10h0m0 69h0m0 9h0m0 23h0m0 2h0m0 9h0m0 8h0m1-147h0m0 6h0m0 0h0m0 15h0m0 3h0m0 82h0m0 13h0m0 11h0m0 21h0m0 10h0m0 28h0m1-189h0m0 7h0m0 17h0m0 0h0m0 2h0m0 86h0m0 22h0m0 25h0m0 20h0m1-169h0m0 13h0m0 1h0m0 2h0m0 13h0m0 13h0m0 22h0m0 41h0m0 3h0m0 2h0m0 7h0m0 1h0m0 3h0m0 2h0m0 3h0m0 6h0m0 7h0m1-151h0m0 3h0m0 5h0m0 15h0m0 19h0m0 1h0m0 63h0m0 23h0m1-113h0m0 11h0m0 34h0m1-55h0m0 2h0m0 4h0m0 9h0m0 2h0m0 3h0m0 0h0m0 10h0m0 80h0m0 2h0m0 5h0m0 7h0m0 1h0m0 30h0m0 9h0m1-156h0m0 3h0m0 14h0m0 24h0m0 16h0m0 41h0m0 4h0m0 5h0m0 1h0m0 3h0m0 3h0m0 20h0m0 2h0m0 4h0m0 8h0m1-167h0m0 1h0m0 17h0m0 2h0m0 1h0m0 6h0m0 3h0m0 3h0m0 7h0m0 4h0m0 8h0m0 70h0m0 0h0m0 3h0m0 6h0m0 9h0m0 13h0m0 21h0m0 20h0m0 8h0m1-174h0m0 8h0m0 78h0m0 7h0m0 17h0m0 29h0m1-136h0m0 8h0m0 6h0m0 71h0m0 0h0m0 2h0m0 4h0m0 0h0m0 11h0m0 2h0m0 8h0m0 7h0m0 7h0m1-149h0m0 12h0m0 0h0m0 86h0m0 18h0m0 4h0m0 6h0m0 0h0m0 2h0m0 13h0m0 24h0m1-160h0m0 1h0m0 4h0m0 4h0m0 2h0m0 2h0m0 2h0m0 9h0m0 0h0m0 3h0m0 48h0m0 32h0m0 4h0m0 4h0m0 4h0m0 11h0m0 20h0m1-155h0m0 4h0m0 14h0m0 8h0m0 1h0m0 4h0m0 77h0m0 3h0m0 3h0m0 9h0m0 14h0m0 11h0m0 14h0m1-161h0m0 11h0m0 2h0m0 9h0m0 8h0m0 74h0m0 1h0m0 4h0m0 11h0m0 28h0m0 4h0m1-120h0m0 17h0m0 59h0m0 8h0m0 8h0m0 1h0m0 39h0m1-168h0m0 2h0m0 1h0m0 0h0m0 13h0m0 1h0m0 2h0m0 0h0m0 5h0m0 1h0m0 74h0m0 18h0m0 7h0m0 6h0m0 1h0m0 1h0m0 6h0m0 6h0m0 14h0m1-157h0m0 22h0m0 3h0m0 80h0m0 0h0m0 1h0m0 4h0m0 69h0m1-180h0m0 8h0m0 1h0m0 2h0m0 1h0m0 1h0m0 9h0m0 3h0m0 49h0m0 39h0m0 2h0m0 2h0m0 41h0m1-156h0m0 16h0m0 5h0m0 4h0m0 59h0m0 29h0m0 0h0m0 0h0m1-104h0m0 16h0m0 9h0m0 50h0m0 23h0m0 6h0m0 12h0m1-113h0m0 38h0m0 63h0m0 17h0m0 0h0m0 4h0m0 18h0m1-152h0m0 8h0m0 10h0m0 3h0m0 3h0m0 64h0m0 32h0m0 3h0m0 2h0m0 23h0m0 30h0m1-180h0m0 6h0m0 5h0m0 4h0m0 0h0m0 7h0m0 1h0m0 62h0m0 17h0m0 0h0m0 13h0m0 0h0m0 11h0m0 3h0m0 7h0m0 7h0m0 3h0m0 15h0m0 4h0m1-164h0m0 6h0m0 4h0m0 7h0m0 23h0m0 54h0m0 3h0m0 37h0m0 10h0m0 2h0m0 6h0m0 24h0m1-176h0m0 5h0m0 6h0m0 14h0m0 49h0m0 25h0m0 0h0m0 3h0m0 10h0m0 4h0m0 20h0m0 13h0m1-145h0m0 23h0m0 3h0m0 62h0m0 8h0m0 11h0m0 2h0m0 1h0m0 3h0m0 3h0m0 0h0m0 7h0m1-114h0m0 3h0m0 1h0m0 2h0m0 56h0m0 10h0m0 23h0m0 5h0m0 18h0m1-128h0m0 1h0m0 1h0m0 2h0m0 11h0m0 3h0m0 17h0m0 4h0m0 48h0m0 9h0m0 1h0m0 0h0m0 7h0m0 4h0m0 36h0m0 26h0m1-162h0m0 9h0m0 8h0m0 86h0m0 4h0m0 17h0m0 1h0m0 11h0m0 47h0m1-195h0m0 5h0m0 1h0m0 0h0m0 2h0m0 3h0m0 5h0m0 3h0m0 3h0m0 0h0m0 46h0m0 11h0m0 0h0m0 19h0m0 8h0m0 5h0m0 2h0m0 7h0m0 69h0m1-174h0m0 3h0m0 18h0m0 24h0m0 32h0m0 24h0m0 3h0m0 4h0m0 6h0m0 1h0m0 5h0m0 1h0m0 5h0m0 3h0m1-143h0m0 4h0m0 4h0m0 4h0m0 1h0m0 4h0m0 76h0m0 3h0m0 5h0m0 32h0m0 8h0m0 9h0m0 12h0m1-158h0m0 3h0m0 10h0m0 79h0m0 16h0m0 0h0m0 15h0m0 26h0m0 39h0m1-175h0m0 56h0m0 18h0m0 3h0m0 4h0m0 8h0m0 27h0m1-129h0m0 5h0m0 0h0m0 0h0m0 76h0m0 4h0m0 12h0m0 19h0m0 12h0m0 0h0m0 2h0m0 32h0m1-160h0m0 4h0m0 4h0m0 6h0m0 1h0m0 20h0m0 46h0m0 1h0m0 1h0m0 8h0m0 10h0m0 0h0m1-107h0m0 1h0m0 2h0m0 1h0m0 6h0m0 2h0m0 79h0m0 8h0m0 20h0m0 25h0m0 22h0m1-137h0m0 55h0m0 2h0m0 4h0m0 8h0m0 2h0m0 7h0m0 47h0m1-144h0m0 4h0m0 2h0m0 0h0m0 67h0m0 2h0m0 7h0m0 5h0m0 2h0m0 42h0m0 5h0m0 31h0m1-173h0m0 9h0m0 8h0m0 9h0m0 49h0m0 14h0m0 1h0m0 7h0m0 21h0m0 29h0m0 19h0m0 13h0m1-190h0m0 8h0m0 11h0m0 0h0m0 4h0m0 64h0m0 4h0m0 1h0m0 2h0m0 7h0m0 8h0m0 12h0m0 5h0m0 7h0m0 51h0m1-177h0m0 1h0m0 5h0m0 2h0m0 38h0m0 42h0m0 2h0m0 1h0m0 0h0m0 2h0m0 12h0m0 2h0m0 12h0m0 23h0m0 31h0m0 19h0m0 68h0m1-256h0m0 4h0m0 2h0m0 5h0m0 54h0m0 1h0m0 15h0m0 1h0m0 3h0m0 8h0m0 4h0m0 12h0m0 1h0m0 3h0m0 2h0m0 9h0m0 1h0m1-128h0m0 0h0m0 4h0m0 13h0m0 6h0m0 65h0m0 6h0m0 15h0m0 3h0m0 6h0m0 1h0m0 0h0m0 18h0m0 2h0m1-138h0m0 0h0m0 4h0m0 4h0m0 1h0m0 76h0m0 17h0m0 0h0m0 5h0m0 10h0m0 1h0m0 25h0m0 3h0m1-147h0m0 3h0m0 1h0m0 2h0m0 8h0m0 9h0m0 18h0m0 38h0m0 0h0m0 2h0m0 4h0m0 3h0m0 3h0m0 3h0m0 1h0m0 6h0m0 4h0m0 3h0m0 1h0m0 17h0m0 4h0m0 1h0m0 13h0m0 21h0m1-168h0m0 5h0m0 1h0m0 2h0m0 1h0m0 22h0m0 6h0m0 44h0m0 1h0m0 4h0m0 7h0m0 3h0m0 5h0m0 4h0m0 9h0m0 3h0m0 5h0m0 1h0m0 58h0m1-181h0m0 2h0m0 14h0m0 19h0m0 4h0m0 7h0m0 5h0m0 18h0m0 12h0m0 4h0m0 5h0m0 2h0m0 3h0m0 22h0m0 20h0m1-134h0m0 0h0m0 4h0m0 2h0m0 69h0m0 2h0m0 2h0m0 1h0m0 0h0m0 1h0m0 6h0m0 5h0m0 4h0m0 1h0m0 1h0m0 4h0m0 4h0m0 23h0m0 8h0m1-131h0m0 2h0m0 2h0m0 69h0m0 1h0m0 6h0m0 9h0m0 4h0m0 0h0m0 5h0m0 12h0m0 10h0m0 0h0m0 26h0m0 1h0m1-154h0m0 2h0m0 0h0m0 4h0m0 67h0m0 2h0m0 6h0m0 1h0m0 6h0m0 2h0m0 6h0m0 12h0m1-110h0m0 2h0m0 6h0m0 1h0m0 1h0m0 5h0m0 1h0m0 2h0m0 54h0m0 8h0m0 7h0m0 1h0m0 1h0m0 8h0m0 30h0m0 3h0m0 1h0m0 41h0m1-170h0m0 1h0m0 1h0m0 1h0m0 2h0m0 3h0m0 9h0m0 15h0m0 41h0m0 4h0m0 1h0m0 4h0m0 0h0m0 5h0m0 0h0m0 1h0m0 4h0m0 16h0m0 22h0m1-129h0m0 5h0m0 0h0m0 1h0m0 1h0m0 6h0m0 16h0m0 12h0m0 26h0m0 1h0m0 2h0m0 4h0m0 3h0m0 3h0m0 2h0m0 7h0m0 8h0m0 1h0m0 1h0m1-94h0m0 0h0m0 0h0m0 1h0m0 0h0m0 0h0m0 4h0m0 4h0m0 11h0m0 42h0m0 1h0m0 4h0m0 2h0m0 5h0m0 2h0m0 7h0m0 1h0m0 10h0m0 1h0m0 14h0m0 4h0m0 56h0m1-175h0m0 1h0m0 0h0m0 3h0m0 3h0m0 2h0m0 0h0m0 1h0m0 8h0m0 49h0m0 0h0m0 5h0m0 3h0m0 5h0m0 4h0m1-83h0m0 2h0m0 2h0m0 9h0m0 2h0m0 46h0m0 6h0m0 3h0m0 1h0m0 3h0m0 2h0m0 1h0m0 1h0m0 2h0m0 0h0m0 4h0m0 8h0m0 3h0m0 0h0m0 0h0m0 2h0m0 4h0m0 0h0m0 27h0m0 14h0m1-140h0m0 1h0m0 1h0m0 5h0m0 4h0m0 56h0m0 1h0m0 1h0m0 1h0m0 0h0m0 2h0m0 4h0m0 7h0m0 4h0m0 4h0m0 0h0m0 1h0m0 8h0m0 8h0m0 2h0m0 7h0m0 1h0m0 10h0m1-131h0m0 1h0m0 16h0m0 43h0m0 1h0m0 7h0m0 3h0m0 1h0m0 1h0m0 4h0m0 0h0m0 0h0m0 2h0m0 0h0m0 5h0m0 1h0m0 1h0m0 1h0m0 4h0m0 8h0m1-96h0m0 1h0m0 1h0m0 63h0m0 3h0m0 0h0m0 9h0m0 2h0m0 2h0m0 4h0m0 1h0m0 1h0m0 2h0m0 6h0m0 31h0m0 5h0m1-133h0m0 1h0m0 2h0m0 1h0m0 6h0m0 0h0m0 2h0m0 1h0m0 63h0m0 2h0m0 3h0m0 0h0m0 3h0m0 5h0m0 2h0m0 8h0m0 7h0m0 1h0m0 7h0m0 1h0m0 7h0m0 1h0m0 14h0m0 2h0m1-139h0m0 0h0m0 0h0m0 1h0m0 11h0m0 50h0m0 5h0m0 4h0m0 26h0m0 2h0m0 3h0m0 6h0m0 32h0m1-147h0m0 6h0m0 2h0m0 2h0m0 2h0m0 4h0m0 3h0m0 45h0m0 11h0m0 2h0m0 3h0m0 2h0m0 5h0m0 0h0m0 17h0m0 3h0m0 2h0m0 4h0m0 2h0m1-107h0m0 4h0m0 3h0m0 1h0m0 2h0m0 5h0m0 41h0m0 7h0m0 0h0m0 2h0m0 4h0m0 1h0m0 3h0m0 6h0m0 11h0m0 1h0m0 37h0m0 38h0m1-171h0m0 4h0m0 5h0m0 1h0m0 0h0m0 12h0m0 44h0m0 2h0m0 0h0m0 7h0m0 1h0m0 3h0m0 1h0m0 2h0m0 1h0m0 9h0m0 4h0m0 50h0m1-145h0m0 2h0m0 1h0m0 4h0m0 0h0m0 2h0m0 1h0m0 0h0m0 2h0m0 1h0m0 2h0m0 49h0m0 8h0m0 7h0m0 0h0m0 1h0m0 1h0m0 2h0m0 10h0m1-91h0m0 1h0m0 0h0m0 1h0m0 2h0m0 1h0m0 0h0m0 7h0m0 9h0m0 49h0m0 5h0m0 2h0m0 2h0m0 6h0m0 3h0m0 4h0m0 4h0m0 16h0m0 29h0m1-140h0m0 0h0m0 3h0m0 0h0m0 5h0m0 0h0m0 1h0m0 45h0m0 1h0m0 6h0m0 1h0m0 0h0m0 5h0m0 0h0m0 2h0m0 3h0m0 2h0m0 4h0m0 17h0m0 2h0m0 9h0m0 58h0m1-165h0m0 2h0m0 2h0m0 54h0m0 3h0m0 5h0m0 2h0m0 4h0m0 1h0m0 3h0m0 12h0m0 2h0m0 5h0m1-94h0m0 1h0m0 3h0m0 2h0m0 70h0m0 4h0m0 4h0m0 5h0m0 1h0m0 1h0m0 1h0m0 3h0m0 7h0m0 3h0m0 12h0m0 7h0m0 0h0m0 24h0m1-151h0m0 2h0m0 2h0m0 1h0m0 1h0m0 1h0m0 0h0m0 9h0m0 3h0m0 2h0m0 39h0m0 13h0m0 2h0m0 3h0m0 1h0m0 5h0m0 10h0m0 5h0m0 4h0m0 7h0m0 2h0m0 10h0m0 10h0m1-132h0m0 3h0m0 0h0m0 0h0m0 1h0m0 0h0m0 3h0m0 1h0m0 0h0m0 2h0m0 1h0m0 19h0m0 32h0m0 1h0m0 2h0m0 17h0m0 11h0m0 4h0m0 1h0m0 4h0m0 5h0m0 26h0m1-133h0m0 2h0m0 6h0m0 1h0m0 0h0m0 0h0m0 2h0m0 0h0m0 49h0m0 1h0m0 4h0m0 4h0m0 3h0m0 0h0m0 5h0m0 0h0m0 6h0m0 0h0m0 3h0m0 1h0m0 11h0m0 8h0m0 4h0m1-110h0m0 1h0m0 0h0m0 0h0m0 0h0m0 2h0m0 5h0m0 4h0m0 19h0m0 34h0m0 3h0m0 6h0m0 4h0m0 2h0m0 0h0m0 0h0m0 8h0m0 24h0m0 16h0m1-129h0m0 11h0m0 0h0m0 3h0m0 2h0m0 4h0m0 10h0m0 33h0m0 6h0m0 2h0m0 4h0m0 3h0m0 2h0m0 3h0m0 3h0m0 5h0m0 0h0m0 4h0m0 8h0m0 3h0m0 9h0m1-109h0m0 1h0m0 2h0m0 53h0m0 2h0m0 0h0m0 0h0m0 7h0m0 4h0m0 9h0m0 3h0m0 2h0m0 11h0m0 1h0m0 4h0m0 7h0m0 32h0m1-139h0m0 3h0m0 3h0m0 50h0m0 3h0m0 5h0m0 7h0m0 7h0m0 3h0m0 19h0m0 2h0m0 11h0m0 57h0m1-170h0m0 1h0m0 1h0m0 0h0m0 1h0m0 53h0m0 8h0m0 0h0m0 1h0m0 16h0m0 7h0m0 2h0m0 16h0m1-107h0m0 3h0m0 5h0m0 3h0m0 34h0m0 14h0m0 5h0m0 2h0m0 1h0m0 5h0m0 2h0m0 1h0m0 3h0m0 4h0m0 9h0m0 12h0m0 3h0m1-110h0m0 3h0m0 1h0m0 6h0m0 0h0m0 51h0m0 8h0m0 2h0m0 0h0m0 3h0m0 1h0m0 0h0m0 4h0m0 2h0m0 6h0m0 2h0m0 9h0m0 22h0m0 2h0m0 35h0m1-154h0m0 1h0m0 1h0m0 4h0m0 0h0m0 1h0m0 7h0m0 16h0m0 35h0m0 3h0m0 0h0m0 2h0m0 1h0m0 8h0m0 0h0m0 1h0m0 23h0m0 1h0m0 12h0m1-43h0m0 5h0m0 14h0m0 0h0m1-91h0m0 2h0m0 5h0m0 48h0m0 2h0m1-61h0m0 2h0m0 11h0m0 62h0m0 27h0m1-89h0m0 7h0m0 42h0m0 9h0m0 8h0m0 13h0m0 2h0m1-85h0m0 4h0m0 5h0m0 41h0m0 13h0m0 16h0m1-81h0m0 123h0m1-119h0m0 64h0m0 11h0m1-83h0m0 57h0m0 10h0m0 9h0m0 16h0m0 17h0m1-103h0m0 61h0m0 13h0m0 1h0m0 1h0m1-83h0m0 8h0m0 0h0m0 47h0m0 7h0m1-62h0m0 7h0m0 5h0m0 50h0m0 15h0m0 2h0m0 3h0m0 16h0m0 61h0m1-150h0m0 46h0m0 7h0m0 2h0m0 4h0m0 32h0m1-92h0m0 5h0m0 29h0m0 12h0m0 0h0m0 1h0m0 9h0m0 6h0m0 8h0m0 2h0m0 36h0m1-115h0m0 4h0m0 4h0m0 34h0m0 16h0m0 22h0m0 7h0m1-86h0m0 3h0m0 1h0m0 15h0m0 36h0m0 13h0m0 1h0m1-67h0m0 50h0m0 9h0m0 0h0m0 6h0m0 1h0m0 13h0m0 5h0m1-85h0m0 3h0m0 1h0m0 53h0m0 18h0m0 5h0m0 4h0m1-89h0m0 6h0m0 7h0m0 45h0m0 47h0m0 20h0m1-118h0m0 3h0m0 30h0m0 14h0m1-54h0m0 16h0m0 44h0m0 1h0m0 2h0m0 21h0m0 14h0m0 31h0m1-76h0m0 13h0m0 5h0m0 0h0m0 0h0m0 20h0m1-88h0m0 8h0m0 44h0m0 3h0m0 5h0m0 19h0m1-75h0m0 3h0m0 39h0m0 9h0m0 23h0m0 13h0m0 6h0m0 20h0m0 6h0m1-74h0m0 15h0m0 3h0m0 11h0m1-73h0m0 1h0m0 41h0m0 1h0m0 12h0m1-57h0m0 2h0m0 41h0m0 8h0m0 37h0m0 19h0m1-110h0m0 3h0m0 2h0m0 46h0m0 28h0m0 9h0m1-81h0m0 34h0m0 5h0m0 11h0m0 5h0m0 3h0m0 1h0m0 3h0m0 0h0m0 14h0m0 35h0m0 4h0m1-116h0m0 4h0m0 38h0m0 3h0m0 15h0m0 3h0m0 6h0m1-74h0m0 45h0m0 18h0m0 5h0m0 8h0m0 3h0m0 13h0m0 4h0m1-82h0m0 32h0m0 2h0m0 12h0m0 16h0m1-78h0m0 40h0m0 8h0m0 17h0m0 6h0m0 12h0m0 2h0m0 16h0m1-96h0m0 2h0m0 2h0m0 39h0m0 3h0m0 12h0m1-3h0m0 10h0m0 23h0m1-88h0m0 6h0m0 37h0m0 0h0m0 1h0m0 0h0m0 28h0m0 45h0m1-116h0m0 40h0m0 40h0m1-31h0m0 11h0m0 2h0m1-17h0m0 17h0m0 6h0m1-70h0m0 62h0m0 58h0m1-125h0m0 7h0m0 42h0m0 7h0m1-56h0m0 4h0m0 2h0m0 3h0m0 67h0m1-59h0m0 31h0m0 19h0m0 10h0m0 37h0m1-26h0m0 11h0m1-52h0m0 5h0m0 42h0m0 30h0m0 7h0m1-124h0m0 49h0m0 24h0m0 12h0m1-89h0m0 4h0m0 2h0m0 41h0m0 7h0m0 10h0m0 36h0m1-96h0m0 45h0m0 7h0m0 1h0m0 10h0m0 1h0m1-61h0m0 0h0m0 42h0m0 2h0m0 1h0m0 3h0m0 12h0m1-21h0m0 9h0m0 7h0m0 1h0m0 28h0m1-44h0m0 4h0m0 7h0m0 3h0m0 1h0m0 28h0m0 3h0m1-92h0m0 1h0m0 1h0m0 42h0m0 25h0m0 41h0m1-65h0m0 12h0m1-17h0m0 7h0m0 6h0m0 9h0m0 17h0m0 1h0m1-82h0m0 8h0m0 49h0m1-57h0m0 2h0m0 40h0m0 8h0m0 1h0m0 5h0m0 1h0m0 15h0m0 6h0m0 3h0m0 7h0m0 11h0m1-98h0m0 0h0m0 8h0m0 54h0m0 17h0m0 37h0m1-114h0m0 64h0m0 21h0m1-43h0m0 0h0m0 71h0m1-114h0m0 1h0m0 47h0m0 13h0m0 23h0m0 16h0m1-97h0m0 10h0m0 32h0m0 6h0m1-41h0m0 39h0m0 4h0m0 21h0m1-29h0m0 0h0m0 6h0m0 10h0m0 2h0m1-66h0m0 60h0m0 2h0m0 2h0m1-64h0m0 5h0m0 59h0m0 18h0m1 5h0m1-41h0m0 12h0m0 13h0m0 5h0m0 3h0m1-70h0m0 37h0m0 12h0m0 1h0m0 2h0m0 26h0m0 14h0m1-98h0m0 54h0m0 5h0m0 39h0m1-99h0m0 49h0m0 8h0m0 14h0m1-73h0m0 3h0m0 0h0m0 41h0m0 18h0m0 3h0m0 16h0m1-77h0m0 1h0m0 42h0m0 1h0m0 1h0m0 16h0m0 20h0m1-37h0m0 3h0m1-36h0m0 29h0m0 7h0m0 12h0m1-20h0m0 12h0m0 2h0m0 21h0m1-76h0m0 1h0m0 40h0m0 10h0m0 13h0m0 3h0m0 5h0m0 5h0m1-35h0m0 9h0m0 1h0m0 14h0m1-61h0m0 4h0m0 36h0m0 6h0m1-51h0m0 42h0m0 0h0m0 7h0m0 1h0m0 50h0m1-95h0m0 42h0m0 33h0m0 12h0m1-79h0m0 44h0m0 6h0m1-23h0m0 6h0m0 4h0m1-7h0m0 12h0m1-52h0m0 41h0m0 6h0m0 3h0m0 4h0m0 10h0m0 3h0m0 5h0m1-72h0m0 42h0m0 2h0m0 22h0m0 3h0m1-28h0m0 3h0m0 2h0m0 35h0m1-80h0m0 35h0m0 38h0m1-74h0m0 45h0m0 19h0m0 6h0m1-29h0m0 5h0m0 2h0m0 19h0m0 9h0m1-79h0m0 2h0m0 49h0m0 8h0m1-16h0m1 15h0m2-58h0m0 41h0m0 7h0m0 26h0m2-36h0m0 16h0m1-13h0m0 10h0m0 5h0m0 10h0m1-25h0m0 5h0m1-39h0m0 31h0m0 4h0m0 4h0m0 5h0m0 2h0m0 6h0m0 6h0m0 35h0m1-47h0m0 10h0m0 17h0m1-83h0m0 47h0m0 8h0m1-6h0m1-41h0m0 36h0m0 2h0m0 3h0m0 18h0m0 0h0m0 9h0m1-71h0m0 38h0m0 2h0m1 1h0m0 1h0m0 3h0m0 1h0m0 6h0m0 0h0m0 1h0m0 7h0m1-65h0m0 4h0m0 34h0m0 12h0m0 6h0m0 14h0m2-62h0m0 39h0m0 2h0m0 6h0m0 5h0m1-46h0m0 29h0m0 1h0m0 9h0m0 13h0m1-23h0m0 3h0m0 4h0m0 19h0m1-20h0m0 1h0m0 4h0m1-41h0m0 28h0m0 8h0m0 9h0m1-15h0m1-2h0m0 11h0m0 1h0m1 6h0m0 9h0m1-24h0m0 6h0m0 4h0m0 18h0m1-57h0m0 29h0m0 8h0m0 6h0m1-10h0m0 0h0m0 6h0m0 29h0m1-79h0m0 31h0m0 9h0m0 2h0m0 1h0m0 0h0m1-45h0m0 48h0m0 9h0m1-18h0m0 7h0m1-28h0m0 27h0m0 2h0m0 1h0m0 10h0m1-16h0m0 3h0m0 3h0m0 8h0m1-15h0m0 1h0m0 16h0m1-13h0m0 0h0m0 7h0m0 22h0m0 2h0m1-72h0m0 37h0m1 12h0m1-13h0m0 5h0m0 2h0m0 6h0m0 4h0m1-17h0m0 1h0m0 13h0m0 19h0m1-77h0m0 50h0m0 9h0m2-9h0m1-7h0m0 28h0m1-28h0m0 1h0m0 3h0m0 1h0m0 19h0m1-17h0m0 14h0m1-17h0m1-39h0m0 42h0m1-6h0m0 1h0m0 8h0m1-13h0m0 6h0m0 10h0m1-38h0m0 28h0m0 1h0m0 6h0m0 3h0m0 8h0m1-49h0m0 19h0m0 10h0m0 20h0m1-58h0m0 34h0m0 4h0m0 5h0m0 1h0m1-2h0m1-1h0m1-2h0m1-9h0m0 8h0m0 4h0m0 6h0m0 0h0m1-12h0m0 25h0m1-22h0m0 1h0m0 0h0m0 3h0m0 7h0m0 5h0m1-55h0m0 43h0m0 7h0m1-14h0m0 2h0m0 1h0m0 3h0m0 0h0m1-3h0m0 2h0m0 6h0m0 2h0m1-13h0m0 2h0m1-26h0m0 1h0m0 27h0m1-17h0m0 13h0m0 0h0m0 2h0m0 1h0m0 7h0m1-9h0m0 24h0m1-55h0m0 27h0m0 2h0m0 36h0m1-74h0m0 3h0m0 35h0m0 1h0m0 3h0m0 4h0m1-35h0m0 27h0m0 2h0m0 2h0m0 6h0m0 5h0m1-48h0m0 39h0m0 1h0m0 3h0m0 3h0m0 0h0m1-15h0m0 5h0m0 6h0m0 1h0m1-6h0m0 5h0m0 1h0m0 1h0m0 1h0m1-47h0m0 36h0m0 0h0m0 2h0m0 11h0m1-12h0m0 7h0m1-7h0m0 3h0m0 6h0m1-10h0m0 0h0m0 1h0m0 2h0m0 1h0m0 1h0m0 4h0m1-9h0m0 0h0m0 3h0m0 3h0m0 4h0m1-10h0m0 1h0m1-7h0m0 2h0m0 5h0m0 2h0m0 2h0m0 2h0m0 2h0m1-3h0m0 1h0m0 2h0m1-10h0m0 1h0m0 2h0m0 3h0m0 1h0m1-9h0m0 6h0m0 0h0m1-37h0m0 30h0m0 1h0m0 10h0m1-42h0m0 36h0m0 1h0m0 1h0m1-1h0m0 2h0m0 0h0m0 1h0m1-6h0m0 6h0m1-14h0m0 0h0m0 1h0m0 6h0m0 1h0m0 0h0m0 1h0m0 4h0m0 1h0m0 3h0m0 4h0m0 3h0m1-57h0m0 3h0m0 36h0m0 9h0m0 0h0m0 1h0m0 3h0m1-52h0m0 10h0m0 26h0m0 4h0m0 9h0m1-8h0m0 3h0m0 0h0m0 1h0m0 6h0m1-47h0m0 26h0m0 3h0m0 5h0m0 4h0m1-35h0m0 12h0m0 19h0m0 2h0m0 0h0m0 1h0m0 2h0m0 2h0m0 0h0m0 13h0m1-57h0m0 39h0m0 0h0m0 0h0m0 1h0m0 4h0m1-5h0m0 2h0m1-40h0m0 18h0m0 17h0m0 2h0m1-41h0m0 18h0m0 23h0m0 2h0m1-39h0m0 36h0m0 3h0m0 18h0m1-17h0m0 2h0m1-35h0m1 29h0m0 3h0m1-3h0m0 2h0m0 0h0m0 0h0m0 13h0m1-48h0m0 32h0m0 4h0m1-1h0m0 9h0m1-11h0m0 7h0m0 1h0m1-9h0m1-1h0m0 6h0m1-20h0m2 19h0m1-1h0m1-24h0m1 18h0m2 3h0m2-37h0m1 7h0m0 6h0m1 22h0m2 1h0m1-4h0m4-7h0m0 2h0m1 8h0m2-27h0m1 17h0m1-22h0m0 32h0m6-25h0" stroke="#450659"/>
<path d="M154 1119h0m2-14h0m1-9h0m0 16h0m0 28h0m1-6h0m1-2h0m0 19h0m0 6h0m1-39h0m0 14h0m0 4h0m0 4h0m1-61h0m0 25h0m0 12h0m1-24h0m0 22h0m0 10h0m0 9h0m1 26h0m1-54h0m3-11h0m1-21h0m0 30h0m0 21h0m1-53h0m0 22h0m1-26h0m0 56h0m1-47h0m0 15h0m0 50h0m0 1h0m1-46h0m1-58h0m0 24h0m0 4h0m0 5h0m0 48h0m2-3h0m2 0h0m1-72h0m0 63h0m1-81h0m0 69h0m1-83h0m0 0h0m0 63h0m1-16h0m0 0h0m0 50h0m0 4h0m0 10h0m1-32h0m1-34h0m1-56h0m1 9h0m1 6h0m0 5h0m1-6h0m1-14h0m1 2h0m0 29h0m0 39h0m1-35h0m0 37h0m1-49h0m0 12h0m0 26h0m1-19h0m0 31h0m1-104h0m0 18h0m0 11h0m0 15h0m0 31h0m0 28h0m1-101h0m0 10h0m0 73h0m0 28h0m1-113h0m0 34h0m0 22h0m0 52h0m1-118h0m0 77h0m0 23h0m0 2h0m0 1h0m2-54h0m1-54h0m0 63h0m1-38h0m0 32h0m0 6h0m0 5h0m0 28h0m1-119h0m0 6h0m0 47h0m0 59h0m0 3h0m1-103h0m0 32h0m0 30h0m0 4h0m0 33h0m1-84h0m0 38h0m0 1h0m0 4h0m0 21h0m1-78h0m0 41h0m0 48h0m0 11h0m1-117h0m0 7h0m0 69h0m0 4h0m0 4h0m0 30h0m1-60h0m0 2h0m0 41h0m1-78h0m0 63h0m1-102h0m0 21h0m0 5h0m0 25h0m0 69h0m1-102h0m0 3h0m0 7h0m0 20h0m0 44h0m0 20h0m1-103h0m0 14h0m0 51h0m0 38h0m1-115h0m0 1h0m0 25h0m0 58h0m0 4h0m0 14h0m1-97h0m0 1h0m0 25h0m0 81h0m0 3h0m1-113h0m0 4h0m0 9h0m0 17h0m0 68h0m0 15h0m1-25h0m0 8h0m1-112h0m0 27h0m0 37h0m0 62h0m0 2h0m1-137h0m0 1h0m0 7h0m0 24h0m0 3h0m0 6h0m0 34h0m0 21h0m0 23h0m0 5h0m1-121h0m0 35h0m0 59h0m0 9h0m1-70h0m0 34h0m0 39h0m0 4h0m0 0h0m1-109h0m0 13h0m0 4h0m0 75h0m0 29h0m1-105h0m0 10h0m0 77h0m1-118h0m0 13h0m0 24h0m0 17h0m0 8h0m0 65h0m1-132h0m0 74h0m0 21h0m0 35h0m1-116h0m0 52h0m0 55h0m1-113h0m0 54h0m0 7h0m0 2h0m0 39h0m1-114h0m0 20h0m0 11h0m0 44h0m0 3h0m0 5h0m1-76h0m0 11h0m1-10h0m0 74h0m0 10h0m0 15h0m0 9h0m1-117h0m0 5h0m0 103h0m1-96h0m0 75h0m0 9h0m1-101h0m0 11h0m0 88h0m0 9h0m0 7h0m0 2h0m1-115h0m0 8h0m0 11h0m0 30h0m0 2h0m0 30h0m0 8h0m1-90h0m0 12h0m0 12h0m0 8h0m0 18h0m1-29h0m0 42h0m1-57h0m0 31h0m0 27h0m0 9h0m0 13h0m1-70h0m0 53h0m0 4h0m0 7h0m0 7h0m1-92h0m0 51h0m0 32h0m1-90h0m0 3h0m0 19h0m0 6h0m0 57h0m0 22h0m1-111h0m0 11h0m0 44h0m0 19h0m0 20h0m1-94h0m0 12h0m0 12h0m0 3h0m0 47h0m0 15h0m0 1h0m0 2h0m1-86h0m0 7h0m0 8h0m0 49h0m0 10h0m1-89h0m0 43h0m0 12h0m0 52h0m0 2h0m1-69h0m0 19h0m0 13h0m0 1h0m0 22h0m0 0h0m0 1h0m1-95h0m0 2h0m0 84h0m0 4h0m0 3h0m0 3h0m1-87h0m0 53h0m0 24h0m0 4h0m0 8h0m1-72h0m0 9h0m0 44h0m0 10h0m0 3h0m0 5h0m0 1h0m1-94h0m0 17h0m0 4h0m1-33h0m0 13h0m0 31h0m0 51h0m1-93h0m0 5h0m0 9h0m0 1h0m0 3h0m0 56h0m0 6h0m0 11h0m0 1h0m0 3h0m1-92h0m0 2h0m0 5h0m0 23h0m0 6h0m0 21h0m0 33h0m1-100h0m0 9h0m0 74h0m0 1h0m0 2h0m0 8h0m0 5h0m1-84h0m0 56h0m0 13h0m0 0h0m0 13h0m0 1h0m1-35h0m0 9h0m0 13h0m0 0h0m0 6h0m0 1h0m1-85h0m0 2h0m0 20h0m0 5h0m0 5h0m0 7h0m0 0h0m0 4h0m0 14h0m0 8h0m0 1h0m0 8h0m0 2h0m0 5h0m1-92h0m0 20h0m0 45h0m0 2h0m0 15h0m0 3h0m0 4h0m0 1h0m1-96h0m0 24h0m0 4h0m0 40h0m0 29h0m1-94h0m0 1h0m0 2h0m0 0h0m0 1h0m0 5h0m0 25h0m0 55h0m0 4h0m0 6h0m1-99h0m0 70h0m1-51h0m0 28h0m0 4h0m0 10h0m1-59h0m0 0h0m0 6h0m0 5h0m0 76h0m0 4h0m1-99h0m0 6h0m0 4h0m0 62h0m1-74h0m0 22h0m0 35h0m0 0h0m0 26h0m0 4h0m0 2h0m0 6h0m1-102h0m0 17h0m0 6h0m0 6h0m0 30h0m0 24h0m0 2h0m0 6h0m0 14h0m1-101h0m0 27h0m0 39h0m0 16h0m0 2h0m0 0h0m1-89h0m0 9h0m0 64h0m0 18h0m0 7h0m1-93h0m0 3h0m0 29h0m0 4h0m0 14h0m0 5h0m0 32h0m1-93h0m0 4h0m0 25h0m0 12h0m0 33h0m0 4h0m1-71h0m0 3h0m0 5h0m0 44h0m0 2h0m1-66h0m0 5h0m0 42h0m0 44h0m1-88h0m0 56h0m0 28h0m0 3h0m1-98h0m0 16h0m0 13h0m0 31h0m0 34h0m1-87h0m0 22h0m0 55h0m0 6h0m0 4h0m0 6h0m1-99h0m0 8h0m0 3h0m0 46h0m0 31h0m0 0h0m0 0h0m0 6h0m1-80h0m0 1h0m0 41h0m0 22h0m1-57h0m0 33h0m0 16h0m0 16h0m0 11h0m1-82h0m0 15h0m0 44h0m0 5h0m0 7h0m0 7h0m1-90h0m1-2h0m0 12h0m0 13h0m0 33h0m1-58h0m0 2h0m0 41h0m0 16h0m0 9h0m0 2h0m1-84h0m0 5h0m0 2h0m0 35h0m0 13h0m0 38h0m1-73h0m0 71h0m1-11h0m1-81h0m0 1h0m0 13h0m1 68h0m0 0h0m0 5h0m0 6h0m1-95h0m0 1h0m0 6h0m0 33h0m1-37h0m0 0h0m0 5h0m0 27h0m0 58h0m1-93h0m0 78h0m1 4h0m0 2h0m1-4h0m0 9h0m1-83h0m1-6h0m0 2h0m0 5h0m0 3h0m0 9h0m0 52h0m0 5h0m0 6h0m0 2h0m1-91h0m0 3h0m0 2h0m0 34h0m0 22h0m0 21h0m0 3h0m0 1h0m0 5h0m1-83h0m0 4h0m0 34h0m1-48h0m0 28h0m0 41h0m0 17h0m1-48h0m0 4h0m0 5h0m0 17h0m1-65h0m0 48h0m0 35h0m0 9h0m1-13h0m1-73h0m0 21h0m0 53h0m0 2h0m0 4h0m0 1h0m1-71h0m0 7h0m0 15h0m0 10h0m0 26h0m0 7h0m0 2h0m1-86h0m0 9h0m0 8h0m0 35h0m0 4h0m0 16h0m0 9h0m1-84h0m0 21h0m0 73h0m1-93h0m0 7h0m0 6h0m0 33h0m0 36h0m1-12h0m0 19h0m1-81h0m0 0h0m0 1h0m0 11h0m0 1h0m1-7h0m0 66h0m0 5h0m0 2h0m1-92h0m0 7h0m0 2h0m0 0h0m0 40h0m0 9h0m0 29h0m1-72h0m0 75h0m0 2h0m1-94h0m0 8h0m0 1h0m0 76h0m0 4h0m0 1h0m1-41h0m0 11h0m0 15h0m0 4h0m0 8h0m0 3h0m1-92h0m0 10h0m0 0h0m0 37h0m0 21h0m0 11h0m0 6h0m0 0h0m0 1h0m1-89h0m0 6h0m0 24h0m0 53h0m0 9h0m0 2h0m1-76h0m0 67h0m1-82h0m0 6h0m0 30h0m0 12h0m0 43h0m1-83h0m0 11h0m0 58h0m1-76h0m0 13h0m0 59h0m0 12h0m0 4h0m1-96h0m0 7h0m0 5h0m0 34h0m0 32h0m0 2h0m0 6h0m1-86h0m0 4h0m0 5h0m0 1h0m0 16h0m0 43h0m0 7h0m0 8h0m1-76h0m0 55h0m0 24h0m1-84h0m0 39h0m0 22h0m0 27h0m1-84h0m0 2h0m0 1h0m0 1h0m0 4h0m0 3h0m0 4h0m0 56h0m0 3h0m0 5h0m1-23h0m0 21h0m2-30h0m0 13h0m0 6h0m1-76h0m0 3h0m0 29h0m0 23h0m0 6h0m0 5h0m1-66h0m0 79h0m0 7h0m1-88h0m0 10h0m0 17h0m0 43h0m0 11h0m1-65h0m0 62h0m0 6h0m1-79h0m0 81h0m1-86h0m0 74h0m0 3h0m1-68h0m0 7h0m0 38h0m0 1h0m0 21h0m1-60h0m0 7h0m0 5h0m0 47h0m0 5h0m1-75h0m0 25h0m0 4h0m0 18h0m0 9h0m0 18h0m0 0h0m1-83h0m0 5h0m0 1h0m0 4h0m0 10h0m0 52h0m1-68h0m0 8h0m0 0h0m0 4h0m0 61h0m1-68h0m0 7h0m0 43h0m0 7h0m1-68h0m0 30h0m0 14h0m1-33h0m0 45h0m0 3h0m0 17h0m1-77h0m0 61h0m0 20h0m1-84h0m0 5h0m0 14h0m0 1h0m0 22h0m1-42h0m0 3h0m0 2h0m0 38h0m0 16h0m1-58h0m0 1h0m0 1h0m0 57h0m0 13h0m0 5h0m1-78h0m0 3h0m0 62h0m0 2h0m1-61h0m0 19h0m0 47h0m0 2h0m1-70h0m0 2h0m0 52h0m0 8h0m0 9h0m1-79h0m0 78h0m1-79h0m0 2h0m0 15h0m0 6h0m0 41h0m0 7h0m0 4h0m1-71h0m0 3h0m0 47h0m0 9h0m0 3h0m0 11h0m1-61h0m0 2h0m0 50h0m0 6h0m0 2h0m0 0h0m1-80h0m0 6h0m0 1h0m0 0h0m0 6h0m0 18h0m0 46h0m1-69h0m0 15h0m0 38h0m0 12h0m1-59h0m0 66h0m0 1h0m1-83h0m0 1h0m0 8h0m0 4h0m0 46h0m1-60h0m0 5h0m0 1h0m0 1h0m0 65h0m0 3h0m0 1h0m1-74h0m0 70h0m0 6h0m1-72h0m0 20h0m0 44h0m0 5h0m1-70h0m0 17h0m0 40h0m0 16h0m1-8h0m0 3h0m0 4h0m1-58h0m0 26h0m0 31h0m1-67h0m0 0h0m0 52h0m0 11h0m0 1h0m0 2h0m0 1h0m1-77h0m0 5h0m0 1h0m0 44h0m0 18h0m0 6h0m1-72h0m0 2h0m0 56h0m0 12h0m0 1h0m1-74h0m0 2h0m0 6h0m0 46h0m0 15h0m0 5h0m1-77h0m0 2h0m0 38h0m0 28h0m0 1h0m1-71h0m0 23h0m0 27h0m0 22h0m0 1h0m1-39h0m0 6h0m0 23h0m0 7h0m1-46h0m0 33h0m0 8h0m1-54h0m0 42h0m0 19h0m1-68h0m0 68h0m1-66h0m0 59h0m0 6h0m0 1h0m1-35h0m0 15h0m0 9h0m0 3h0m1-62h0m0 5h0m0 60h0m1-66h0m0 4h0m0 31h0m0 35h0m1-70h0m0 3h0m0 3h0m0 17h0m0 5h0m0 16h0m0 16h0m0 3h0m0 0h0m1-63h0m0 4h0m0 57h0m0 4h0m1-70h0m0 2h0m0 4h0m0 13h0m0 49h0m0 3h0m0 0h0m0 1h0m1-65h0m0 15h0m0 40h0m0 3h0m0 4h0m1-22h0m1-49h0m0 43h0m0 3h0m0 20h0m1-63h0m0 1h0m0 10h0m0 2h0m1-13h0m0 1h0m0 1h0m0 33h0m0 24h0m0 1h0m1-61h0m0 2h0m0 1h0m0 12h0m0 13h0m1-22h0m0 44h0m0 2h0m0 10h0m1-69h0m0 3h0m0 67h0m1-69h0m0 4h0m0 0h0m0 6h0m0 51h0m0 1h0m0 7h0m0 1h0m1-71h0m0 5h0m0 63h0m1-63h0m0 0h0m0 1h0m0 2h0m0 57h0m1-66h0m0 2h0m0 1h0m0 1h0m0 1h0m0 17h0m1-8h0m0 3h0m0 1h0m0 48h0m0 1h0m1-65h0m0 8h0m0 10h0m0 45h0m0 1h0m0 1h0m1-60h0m1-10h0m0 9h0m0 12h0m0 32h0m0 16h0m1-66h0m0 0h0m0 15h0m0 10h0m0 25h0m0 11h0m0 0h0m1-5h0m1-39h0m0 40h0m0 7h0m0 1h0m1-69h0m0 2h0m0 5h0m0 16h0m0 15h0m1-38h0m0 7h0m0 6h0m0 9h0m0 19h0m1-42h0m0 4h0m0 15h0m1-22h0m0 42h0m0 30h0m1-67h0m0 0h0m0 4h0m0 51h0m0 3h0m1-61h0m0 2h0m0 21h0m0 25h0m0 10h0m0 2h0m0 4h0m1-53h0m0 0h0m0 21h0m0 26h0m0 2h0m0 5h0m1-61h0m0 7h0m0 2h0m0 47h0m0 1h0m0 3h0m1-62h0m0 2h0m0 5h0m0 15h0m0 9h0m0 24h0m0 2h0m0 2h0m0 1h0m1-64h0m0 2h0m0 1h0m0 1h0m0 2h0m0 45h0m0 3h0m0 6h0m0 3h0m1-66h0m0 2h0m0 4h0m0 6h0m0 14h0m0 27h0m0 3h0m0 0h0m0 10h0m1-63h0m0 4h0m0 1h0m0 51h0m0 1h0m0 3h0m0 0h0m0 1h0m0 1h0m0 1h0m1-62h0m0 1h0m0 0h0m0 6h0m0 53h0m1-62h0m0 53h0m1-53h0m0 0h0m0 4h0m0 4h0m0 37h0m0 11h0m0 4h0m1-49h0m0 4h0m0 9h0m0 33h0m0 0h0m0 3h0m1-64h0m0 18h0m0 40h0m0 1h0m0 1h0m1-60h0m0 3h0m0 1h0m0 1h0m0 1h0m0 2h0m0 1h0m0 11h0m0 1h0m0 32h0m0 2h0m0 3h0m1-53h0m0 8h0m0 4h0m0 20h0m0 8h0m0 11h0m1-54h0m0 2h0m0 7h0m0 36h0m0 8h0m1-52h0m0 5h0m0 2h0m0 5h0m0 24h0m0 15h0m0 1h0m0 1h0m1-57h0m0 2h0m0 2h0m0 5h0m0 0h0m0 10h0m0 35h0m0 3h0m0 2h0m1-59h0m0 3h0m0 0h0m0 2h0m0 1h0m0 1h0m0 40h0m1-49h0m0 5h0m0 3h0m0 3h0m1 9h0m0 30h0m0 4h0m0 4h0m0 1h0m1-58h0m0 52h0m1-47h0m0 16h0m0 10h0m0 14h0m0 3h0m0 7h0m1-47h0m0 3h0m0 18h0m0 25h0m0 1h0m1-55h0m0 5h0m0 22h0m0 26h0m0 0h0m0 2h0m1-52h0m0 4h0m0 16h0m0 31h0m1-53h0m0 2h0m0 1h0m0 6h0m0 2h0m0 13h0m0 11h0m0 8h0m0 7h0m1-48h0m0 1h0m0 0h0m0 48h0m0 3h0m1-4h0m1-50h0m0 3h0m0 47h0m0 1h0m1-49h0m0 7h0m0 13h0m0 29h0m1-51h0m0 0h0m0 2h0m0 0h0m0 1h0m1-4h0m0 1h0m0 1h0m0 0h0m0 3h0m0 4h0m0 3h0m0 33h0m1-45h0m0 0h0m0 10h0m1-8h0m0 0h0m0 36h0m0 10h0m1-49h0m0 6h0m0 0h0m0 3h0m0 1h0m0 10h0m0 22h0m0 9h0m1-46h0m0 1h0m0 16h0m0 17h0m0 9h0m1-48h0m0 50h0m1-50h0m0 4h0m0 3h0m0 4h0m0 3h0m1 22h0m0 10h0m0 1h0m0 0h0m1-46h0m0 3h0m0 3h0m0 2h0m0 40h0m1-46h0m0 11h0m0 33h0m2-4h0m1-1h0m1-41h0m1 7h0m0 35h0m1-39h0m0 4h0m0 31h0m0 0h0m1-34h0m1 6h0m0 31h0m1-39h0m0 10h0m0 30h0m1-42h0m0 2h0m0 37h0m1-30h0m1 30h0m4-39h0m0 3h0m0 34h0m0 2h0m0 0h0m1-2h0m1-24h0m1 10h0m1-10h0m0 24h0m0 1h0m1-36h0m0 28h0m1-30h0m0 37h0m1-36h0m0 32h0m1-30h0m0 16h0m2-12h0m0 31h0m2-34h0m1-5h0m1 38h0m2-37h0m0 2h0m0 1h0m0 18h0m1 16h0m1-38h0m0 1h0m1 1h0m0 2h0m0 31h0m0 1h0m3-36h0m1 0h0m0 4h0m2 31h0m0 1h0m1-35h0m4 34h0m0 1h0m0 1h0m3-36h0m0 31h0m0 2h0m1-28h0m0 27h0m1 1h0m0 3h0m2-1h0m1-33h0m1-5h0m0 2h0m1 1h0m1 22h0m0 10h0m0 5h0m1-40h0m0 39h0m1 0h0m1-32h0m0 28h0m1 2h0m1-38h0m0 2h0m1 33h0m2-33h0m0 30h0m1-32h0m0 1h0m1 1h0m1-1h0m0 15h0m0 10h0m1-25h0m1-1h0m0 1h0m1 1h0m0 35h0m1 2h0m1-36h0m0 34h0m1-6h0m1 8h0m3 0h0m2-30h0m1 29h0m2-37h0m1 3h0m0 23h0m2-27h0m1 1h0m0 31h0m1-31h0m1 1h0m1 31h0m0 6h0m3-39h0m1 7h0m1-7h0m1-1h0m0 3h0m2-4h0m2 2h0m0 9h0m1-7h0m0 31h0m1 3h0m1-6h0m0 6h0m1-2h0m0 0h0m4-36h0m1 0h0m0 25h0m0 7h0m0 5h0m1-4h0m0 4h0m3-36h0m1 4h0m2-2h0m0 33h0m1 2h0m1-1h0m1-1h0m1-34h0m0 8h0m1 28h0m1-2h0m1 0h0m1-1h0m11-1h0m2-35h0m0 13h0m0 21h0m1-37h0m0 10h0m0 2h0m0 27h0m1-40h0m0 6h0m0 35h0m1-27h0m0 25h0m1-36h0m1 4h0m0 32h0m2 0h0m0 0h0m1 2h0m1-12h0m1-26h0m0 2h0m0 29h0m0 6h0m1-34h0m1 1h0m1 30h0m1-31h0m1 30h0m1-3h0m0 4h0m0 1h0m1-16h0m1-17h0m0 33h0m1-1h0m0 2h0m0 1h0m1-1h0m1-33h0m0 18h0m0 7h0m0 4h0m0 3h0m1-36h0m0 36h0m0 1h0m0 1h0m1-16h0m0 15h0m0 2h0m1-31h0m0 29h0m1-34h0m0 33h0m0 1h0m0 0h0m0 1h0m0 0h0m1-33h0m0 19h0m0 2h0m0 10h0m1-33h0m0 15h0m0 18h0m0 1h0m1-38h0m0 34h0m0 5h0m1-37h0m0 35h0m1-38h0m0 16h0m0 21h0m0 0h0m0 1h0m0 2h0m0 0h0m1-3h0m1 1h0m1-33h0m0 34h0m2-32h0m0 1h0m0 14h0m0 14h0m0 1h0m0 0h0m1-35h0m0 35h0m0 1h0m1-29h0m0 26h0m0 3h0m1-6h0m0 2h0m1-26h0m2-2h0m0 17h0m0 2h0m0 10h0m0 2h0m1-35h0m0 5h0m0 29h0m0 1h0m1-33h0m0 1h0m0 32h0m0 1h0m1-3h0m1-31h0m0 31h0m0 1h0m1-18h0m0 12h0m0 5h0m0 0h0m0 1h0m0 0h0m0 1h0m1-2h0m0 1h0m1 1h0m1-34h0m0 5h0m0 9h0m0 7h0m2 11h0m0 1h0m1-33h0m0 10h0m2 22h0m1-2h0m1-29h0m0 8h0m1 23h0m2-28h0m0 26h0m3-1h0m2-28h0m0 7h0m0 18h0m1 5h0m1-20h0m2 16h0m2-2h0m4-25h0m0 19h0m2-4h0m1-6h0m1 15h0m1-1h0m1-19h0m0 22h0m1-9h0m0 4h0m4 1h0m3-9h0" stroke="#460f62"/>
<path d="M154 1148h0m1-18h0m1-3h0m1 1h0m1 22h0m1-11h0m0 4h0m2-26h0m0 11h0m0 20h0m5-53h0m0 1h0m0 32h0m0 1h0m1-35h0m2 4h0m0 11h0m1-16h0m0 5h0m0 10h0m1-15h0m1-13h0m0 28h0m0 6h0m1-31h0m0 40h0m2-51h0m0 3h0m0 5h0m0 7h0m0 25h0m1-53h0m0 20h0m1-24h0m0 22h0m0 27h0m1-44h0m0 12h0m1 0h0m0 3h0m0 5h0m0 1h0m1-24h0m0 5h0m0 30h0m2-21h0m0 0h0m0 12h0m0 5h0m1-43h0m1-10h0m1-12h0m0 1h0m0 23h0m1-24h0m0 2h0m1-21h0m0 24h0m1-20h0m0 44h0m1-50h0m0 1h0m0 16h0m0 1h0m0 32h0m1-3h0m0 10h0m0 3h0m0 2h0m1-65h0m0 37h0m0 24h0m1-65h0m0 6h0m0 17h0m0 31h0m0 16h0m1-77h0m0 9h0m0 44h0m0 6h0m0 7h0m1-9h0m0 0h0m0 16h0m1-63h0m0 4h0m0 26h0m1 19h0m0 4h0m0 4h0m2-87h0m0 14h0m0 4h0m0 4h0m0 23h0m0 24h0m0 8h0m1-71h0m0 1h0m1-11h0m0 8h0m0 59h0m1-78h0m0 12h0m0 7h0m0 30h0m0 1h0m0 7h0m0 27h0m0 4h0m1-85h0m0 10h0m0 21h0m0 2h0m0 27h0m0 6h0m0 13h0m1-41h0m0 11h0m1-50h0m0 26h0m0 7h0m0 31h0m1-65h0m0 33h0m0 6h0m0 22h0m0 4h0m0 8h0m0 7h0m1-87h0m0 51h0m0 8h0m0 7h0m1-63h0m0 22h0m0 3h0m0 42h0m1-65h0m0 25h0m0 10h0m0 15h0m0 1h0m1-72h0m0 7h0m0 29h0m0 6h0m0 30h0m0 3h0m0 8h0m1-88h0m0 29h0m0 45h0m1-79h0m0 2h0m0 10h0m0 59h0m0 4h0m1-65h0m0 3h0m0 7h0m0 3h0m0 46h0m0 5h0m0 9h0m1-82h0m0 9h0m0 15h0m1-36h0m0 13h0m0 44h0m0 0h0m0 14h0m1-72h0m0 1h0m0 10h0m0 25h0m0 12h0m0 7h0m0 7h0m0 4h0m1-67h0m0 20h0m0 69h0m1-58h0m0 43h0m0 13h0m1-104h0m0 26h0m0 42h0m0 23h0m1-58h0m0 58h0m1-98h0m0 37h0m0 18h0m0 6h0m1-59h0m0 19h0m0 8h0m0 21h0m0 25h0m0 7h0m0 8h0m0 8h0m0 1h0m1-65h0m0 14h0m0 19h0m0 2h0m0 20h0m1-89h0m0 17h0m0 2h0m0 33h0m0 26h0m0 2h0m1-73h0m0 2h0m0 22h0m0 0h0m0 41h0m0 2h0m1-13h0m0 9h0m0 1h0m0 5h0m1-72h0m0 25h0m0 3h0m0 24h0m0 19h0m1-70h0m0 6h0m0 0h0m0 44h0m0 8h0m0 2h0m0 13h0m1-58h0m0 36h0m0 8h0m1-76h0m0 9h0m0 7h0m0 26h0m1-5h0m0 32h0m1-76h0m0 7h0m0 20h0m0 36h0m0 16h0m1-28h0m0 6h0m0 3h0m0 0h0m0 7h0m1 2h0m1-73h0m0 5h0m0 5h0m0 15h0m0 19h0m0 4h0m1-28h0m0 48h0m1-69h0m0 3h0m0 19h0m0 5h0m0 26h0m0 11h0m0 6h0m1-68h0m0 2h0m0 9h0m0 26h0m0 27h0m1-68h0m0 65h0m0 3h0m1-68h0m0 30h0m0 31h0m0 1h0m0 4h0m1-69h0m0 10h0m0 50h0m0 0h0m0 3h0m0 1h0m1-66h0m0 3h0m0 13h0m0 43h0m0 1h0m0 6h0m0 5h0m1-70h0m0 17h0m0 2h0m0 19h0m0 22h0m1-65h0m0 2h0m0 9h0m0 7h0m0 33h0m0 16h0m1-72h0m0 48h0m0 17h0m1-61h0m0 28h0m0 5h0m0 3h0m0 25h0m1-60h0m0 15h0m0 35h0m0 6h0m0 10h0m1-64h0m0 8h0m0 29h0m0 10h0m0 7h0m0 1h0m0 3h0m1-76h0m0 61h0m0 13h0m0 3h0m1-11h0m0 1h0m0 0h0m0 10h0m1-71h0m0 67h0m1-59h0m0 41h0m0 2h0m0 8h0m1-64h0m0 4h0m0 17h0m0 48h0m1-48h0m0 45h0m1-76h0m1 8h0m0 1h0m0 1h0m0 10h0m0 7h0m0 3h0m0 42h0m1-73h0m0 3h0m1 3h0m0 21h0m0 22h0m0 20h0m1-72h0m0 5h0m0 4h0m0 6h0m1-14h0m0 9h0m0 1h0m0 8h0m1-19h0m0 61h0m0 7h0m0 2h0m1-78h0m0 38h0m0 15h0m0 3h0m0 15h0m2-19h0m0 4h0m0 5h0m0 2h0m0 6h0m1-69h0m0 9h0m0 54h0m0 6h0m1-68h0m0 4h0m1-13h0m0 32h0m0 37h0m1-36h0m0 10h0m0 13h0m0 13h0m1-74h0m0 23h0m0 2h0m1-17h0m0 2h0m0 21h0m0 26h0m0 10h0m1-67h0m0 7h0m0 16h0m0 11h0m0 20h0m1-40h0m0 25h0m0 23h0m0 2h0m0 5h0m1-10h0m1-36h0m0 25h0m0 18h0m1-40h0m0 21h0m0 10h0m0 1h0m0 0h0m0 3h0m1-62h0m0 23h0m0 35h0m0 1h0m1-63h0m0 20h0m0 37h0m1-12h0m0 5h0m1-26h0m0 6h0m0 1h0m0 12h0m0 6h0m0 4h0m1-61h0m0 26h0m0 33h0m0 8h0m1-64h0m0 1h0m0 0h0m0 2h0m0 18h0m0 5h0m0 1h0m1-30h0m0 3h0m0 1h0m0 28h0m0 3h0m0 3h0m0 3h0m0 15h0m0 4h0m1-37h0m0 5h0m0 4h0m0 4h0m0 20h0m1-3h0m1-47h0m0 50h0m0 6h0m0 1h0m1-60h0m0 3h0m0 34h0m0 4h0m0 6h0m0 2h0m0 5h0m0 3h0m1-58h0m0 9h0m0 3h0m0 17h0m0 17h0m0 11h0m1-67h0m0 18h0m0 47h0m0 0h0m1-27h0m0 7h0m1-42h0m0 13h0m1 24h0m0 26h0m1-70h0m0 62h0m0 2h0m1-61h0m0 2h0m0 3h0m0 59h0m1-68h0m0 3h0m0 5h0m0 15h0m0 27h0m1-54h0m0 10h0m0 51h0m0 8h0m1-44h0m0 2h0m0 10h0m0 11h0m0 9h0m0 7h0m1-66h0m0 41h0m0 8h0m0 14h0m1-63h0m0 10h0m0 6h0m0 38h0m0 4h0m1-33h0m0 9h0m0 3h0m0 22h0m1-55h0m0 27h0m0 14h0m0 15h0m0 0h0m0 3h0m1-63h0m0 5h0m0 4h0m0 0h0m0 14h0m0 28h0m0 1h0m0 5h0m0 4h0m0 5h0m1-65h0m0 1h0m0 3h0m0 4h0m0 49h0m0 7h0m1-8h0m1-62h0m0 52h0m1-33h0m0 39h0m0 6h0m1-37h0m0 8h0m0 11h0m0 3h0m0 7h0m1-57h0m0 6h0m0 5h0m0 24h0m0 11h0m0 1h0m0 11h0m1-62h0m1 2h0m0 4h0m0 20h0m0 1h0m1-9h0m0 11h0m0 21h0m0 10h0m0 1h0m1-59h0m0 6h0m0 13h0m1 37h0m1-38h0m0 29h0m0 10h0m1-24h0m0 26h0m1-63h0m0 5h0m0 1h0m0 0h0m0 3h0m0 4h0m0 19h0m1-33h0m0 7h0m0 35h0m0 24h0m1-65h0m0 8h0m0 44h0m0 1h0m0 8h0m1-66h0m0 9h0m0 3h0m0 5h0m0 45h0m0 1h0m1-53h0m0 22h0m0 18h0m1 5h0m0 4h0m0 0h0m1-61h0m0 16h0m0 3h0m1 42h0m1-62h0m0 8h0m0 28h0m0 20h0m0 2h0m0 2h0m1-65h0m0 25h0m0 3h0m1 6h0m0 2h0m0 14h0m0 13h0m1-62h0m0 10h0m0 10h0m0 35h0m1-48h0m1-10h0m0 6h0m0 9h0m0 2h0m1-5h0m0 39h0m0 15h0m1-5h0m0 5h0m1-54h0m0 41h0m0 5h0m0 3h0m1-57h0m0 1h0m0 2h0m0 19h0m0 31h0m1-57h0m0 2h0m0 11h0m0 2h0m0 9h0m0 4h0m0 22h0m0 5h0m1-61h0m0 9h0m0 0h0m0 23h0m0 36h0m1-63h0m0 0h0m0 14h0m0 1h0m0 24h0m0 10h0m1-50h0m0 5h0m0 18h0m0 3h0m0 14h0m0 10h0m1-47h0m0 52h0m0 1h0m0 6h0m1-62h0m0 15h0m0 16h0m1-29h0m0 31h0m0 19h0m1-58h0m0 17h0m0 3h0m0 30h0m0 5h0m0 4h0m1-54h0m0 1h0m0 2h0m0 32h0m1-26h0m0 16h0m0 25h0m1-48h0m0 42h0m1-48h0m0 3h0m0 5h0m0 3h0m0 42h0m1-58h0m0 1h0m0 57h0m1-55h0m0 19h0m0 4h0m1-25h0m0 2h0m0 7h0m0 15h0m0 14h0m1-37h0m0 20h0m0 21h0m0 6h0m0 4h0m0 6h0m1-60h0m0 3h0m0 0h0m0 5h0m0 2h0m0 11h0m0 29h0m0 2h0m1-52h0m0 15h0m0 34h0m1-40h0m0 5h0m0 31h0m0 8h0m1-46h0m0 2h0m0 15h0m0 0h0m0 9h0m0 2h0m0 13h0m1-47h0m0 2h0m0 0h0m0 4h0m0 3h0m0 23h0m0 12h0m0 3h0m1-47h0m0 15h0m0 3h0m0 19h0m1-41h0m0 0h0m0 45h0m0 9h0m1-56h0m0 22h0m0 26h0m1-52h0m0 4h0m0 1h0m0 1h0m0 9h0m0 15h0m0 14h0m0 1h0m0 12h0m1-54h0m0 2h0m0 0h0m0 7h0m0 15h0m0 2h0m0 23h0m0 1h0m0 0h0m1-52h0m0 1h0m0 2h0m0 8h0m0 16h0m0 18h0m0 5h0m2-47h0m0 8h0m0 36h0m0 5h0m0 1h0m1-48h0m0 2h0m0 2h0m0 18h0m0 14h0m1-28h0m0 13h0m0 14h0m0 0h0m0 10h0m1-7h0m0 4h0m1-54h0m0 11h0m0 9h0m0 3h0m1-19h0m0 9h0m0 24h0m0 5h0m0 2h0m0 6h0m1-47h0m0 2h0m0 7h0m0 3h0m0 1h0m0 28h0m0 6h0m1-51h0m0 4h0m0 2h0m0 2h0m0 38h0m0 3h0m0 2h0m1-49h0m0 1h0m0 1h0m0 39h0m0 8h0m0 0h0m1-52h0m0 3h0m0 1h0m0 3h0m0 10h0m0 7h0m0 8h0m0 16h0m0 1h0m0 4h0m1-48h0m0 0h0m0 24h0m0 14h0m0 8h0m1-52h0m0 1h0m1 18h0m0 7h0m0 12h0m0 7h0m1-46h0m0 8h0m0 6h0m0 24h0m0 8h0m0 6h0m1-50h0m1-4h0m0 9h0m0 0h0m0 24h0m0 17h0m0 4h0m1-53h0m0 1h0m0 9h0m0 1h0m0 7h0m0 20h0m0 9h0m1-45h0m0 11h0m0 30h0m0 5h0m1-51h0m0 9h0m0 10h0m0 31h0m1-45h0m0 1h0m0 5h0m0 29h0m1-35h0m0 3h0m0 33h0m0 10h0m1-54h0m0 56h0m1-50h0m0 2h0m0 11h0m0 21h0m0 8h0m1-46h0m0 3h0m0 3h0m0 1h0m0 6h0m1-14h0m0 7h0m0 43h0m1-40h0m0 0h0m0 41h0m2-55h0m0 40h0m0 11h0m1-49h0m0 8h0m0 42h0m1-52h0m0 4h0m0 42h0m0 5h0m0 1h0m1-51h0m0 52h0m1-38h0m0 34h0m0 3h0m1-53h0m0 1h0m1-2h0m0 0h0m0 1h0m0 1h0m0 1h0m0 1h0m0 1h0m0 10h0m0 34h0m0 3h0m1-55h0m0 7h0m0 42h0m0 2h0m1 0h0m0 2h0m0 1h0m1-53h0m0 2h0m0 10h0m0 26h0m1 10h0m2-12h0m0 8h0m0 5h0m1-51h0m0 0h0m0 8h0m0 13h0m0 29h0m1-47h0m0 8h0m0 7h0m0 21h0m0 8h0m1-51h0m0 9h0m0 2h0m0 30h0m0 9h0m1-49h0m0 2h0m0 10h0m0 20h0m0 13h0m1-42h0m0 1h0m0 2h0m0 42h0m1-48h0m0 3h0m0 0h0m0 14h0m0 28h0m1-43h0m0 2h0m0 30h0m0 7h0m0 7h0m0 0h0m0 1h0m1-51h0m0 6h0m0 40h0m0 4h0m1-50h0m0 18h0m0 27h0m0 3h0m1-46h0m0 3h0m0 28h0m1-34h0m0 2h0m1 44h0m1-41h0m0 39h0m1-46h0m0 10h0m0 4h0m0 18h0m1-15h0m0 11h0m1-25h0m0 0h0m0 5h0m0 14h0m0 2h0m0 19h0m0 0h0m1-37h0m0 27h0m0 8h0m0 2h0m1-27h0m1-14h0m0 1h0m0 3h0m0 2h0m0 10h0m0 9h0m0 14h0m1-41h0m0 5h0m0 32h0m0 2h0m1-39h0m0 3h0m0 6h0m1-12h0m0 3h0m0 1h0m0 0h0m0 1h0m0 5h0m1 27h0m0 4h0m0 2h0m0 2h0m1-45h0m0 1h0m0 0h0m0 0h0m0 7h0m0 0h0m0 14h0m0 15h0m0 9h0m1-44h0m0 2h0m0 1h0m0 33h0m0 4h0m0 3h0m0 0h0m0 0h0m1-43h0m0 12h0m0 8h0m0 17h0m0 2h0m0 2h0m0 2h0m1-45h0m0 0h0m0 4h0m0 35h0m0 2h0m0 1h0m1-39h0m0 1h0m0 1h0m0 1h0m0 10h0m0 2h0m1-12h0m0 34h0m1-41h0m0 1h0m0 2h0m0 4h0m0 6h0m0 12h0m0 17h0m1-40h0m0 0h0m0 4h0m0 2h0m1-8h0m0 15h0m0 26h0m0 2h0m1-40h0m0 1h0m0 3h0m1-1h0m0 11h0m0 22h0m1-38h0m0 3h0m0 17h0m0 4h0m1-21h0m0 2h0m0 4h0m1-7h0m0 7h0m0 21h0m1-31h0m0 5h0m0 4h0m0 11h0m0 11h0m0 8h0m1-39h0m0 36h0m1-35h0m0 0h0m0 32h0m0 5h0m1-39h0m1 35h0m0 2h0m2-36h0m0 29h0m1-17h0m1-12h0m0 12h0m0 21h0m2-32h0m0 2h0m1 31h0m1-2h0m3-6h0m3-27h0m4 4h0m2 25h0m0 1h0m0 1h0m4-4h0m2-26h0m0 5h0m0 10h0m1 13h0m1 2h0m1-31h0m1 29h0m1-29h0m1 3h0m1-4h0m0 0h0m1 1h0m0 30h0m2-29h0m0 30h0m3-32h0m0 1h0m0 30h0m4-1h0m1-32h0m1 28h0m1-27h0m0 3h0m0 27h0m3-30h0m0 0h0m0 1h0m0 30h0m1-32h0m1 4h0m1-4h0m1 32h0m1-26h0m1-2h0m1 27h0m1-31h0m0 0h0m0 32h0m3-32h0m0 1h0m0 2h0m1-4h0m1 32h0m1-20h0m0 20h0m1-32h0m1 33h0m2-33h0m2 1h0m3 29h0m1 0h0m3 1h0m1 1h0m2-5h0m1 2h0m1-27h0m3-3h0m0 1h0m4 29h0m2-30h0m1-1h0m4 9h0m0 20h0m2-28h0m2 24h0m0 4h0m1-1h0m1 4h0m1-1h0m1-31h0m0 32h0m1-27h0m1-6h0m2 33h0m3-31h0m2 3h0m2 0h0m1-7h0m0 34h0m1-1h0m1 1h0m2-29h0m3 11h0m2-5h0m0 13h0m2 10h0m2 0h0m3-1h0m2-1h0m0 2h0m1-34h0m2 33h0m1 1h0m1-31h0m1 31h0m1-35h0m0 34h0m1-32h0m2-4h0m0 34h0m1 0h0m0 0h0m1 2h0m0 0h0m2-2h0m0 1h0m2 1h0m1-15h0m0 15h0m1-2h0m1-30h0m2 0h0m1 3h0m0 23h0m0 3h0m0 2h0m1 1h0m1-25h0m0 7h0m0 18h0m1-29h0m1 21h0m1-22h0m0 1h0m0 27h0m1-26h0m0 28h0m1-30h0m1-3h0m0 1h0m0 4h0m1-2h0m0 25h0m1 4h0m1-18h0m0 1h0m1-9h0m0 23h0m0 0h0m0 1h0m0 1h0m1-16h0m0 16h0m0 1h0m1-29h0m0 26h0m1-32h0m0 27h0m1-28h0m0 8h0m0 23h0m0 3h0m0 1h0m1-2h0m0 1h0m0 0h0m1-29h0m0 30h0m1-35h0m0 6h0m0 26h0m0 2h0m1-3h0m0 3h0m0 1h0m2-16h0m0 16h0m1-3h0m0 2h0m1-3h0m1-11h0m0 13h0m1 1h0m1-33h0m2 1h0m2 27h0m2 3h0m1-3h0m0 1h0m0 1h0m0 1h0m1-26h0m0 14h0m0 11h0m1 1h0m1-26h0m2 23h0m1-4h0m2-22h0m1 12h0m1 14h0m3-19h0m1 18h0m1-24h0m1 4h0m1 2h0m1 11h0m1-10h0m2-8h0m0 4h0m0 5h0m5-4h0m5-3h0m0 9h0m3-8h0" stroke="#47196b"/>
<path d="M180 1067h0m1-2h0m2-12h0m2 0h0m0 12h0m1-2h0m1-29h0m0 19h0m0 5h0m1-17h0m1 0h0m0 9h0m0 6h0m1-38h0m0 0h0m0 18h0m2-25h0m0 31h0m1-7h0m0 5h0m1-37h0m0 31h0m1-35h0m0 3h0m0 3h0m0 5h0m1 19h0m0 7h0m1-50h0m0 41h0m1-42h0m1 3h0m0 19h0m0 9h0m0 3h0m0 7h0m0 2h0m2-50h0m0 23h0m1-25h0m0 8h0m0 23h0m0 2h0m1-40h0m0 27h0m0 3h0m0 1h0m0 1h0m1-17h0m0 14h0m1-38h0m0 16h0m0 27h0m1-13h0m0 4h0m1-33h0m0 26h0m0 11h0m0 0h0m0 9h0m1-43h0m0 5h0m0 19h0m1-41h0m0 17h0m0 4h0m0 14h0m0 5h0m0 1h0m1-29h0m0 5h0m0 7h0m1-19h0m0 0h0m1-9h0m0 40h0m0 3h0m1-47h0m0 10h0m0 0h0m0 17h0m1 8h0m0 4h0m1-47h0m0 2h0m0 9h0m0 38h0m1-60h0m0 14h0m0 5h0m0 13h0m1-29h0m0 19h0m0 0h0m1-27h0m0 7h0m0 1h0m0 13h0m1-22h0m0 4h0m0 48h0m1-35h0m0 6h0m1-25h0m0 5h0m0 1h0m0 4h0m0 16h0m0 12h0m0 7h0m1-59h0m0 7h0m0 3h0m0 39h0m1-20h0m1-35h0m0 2h0m0 7h0m0 4h0m0 40h0m0 1h0m1-56h0m0 9h0m0 42h0m0 1h0m1-57h0m0 14h0m0 13h0m0 0h0m0 10h0m2-41h0m0 2h0m0 3h0m0 6h0m0 13h0m0 12h0m0 7h0m0 3h0m0 2h0m0 10h0m1-55h0m0 28h0m0 10h0m0 2h0m0 7h0m1-53h0m0 27h0m0 24h0m0 7h0m1-42h0m0 20h0m0 6h0m0 1h0m0 1h0m0 4h0m0 11h0m1-62h0m0 9h0m0 10h0m1-15h0m0 12h0m1 1h0m0 0h0m0 5h0m0 4h0m0 8h0m0 4h0m0 1h0m1-22h0m0 9h0m0 12h0m0 0h0m1-41h0m0 8h0m1-12h0m0 5h0m0 10h0m0 1h0m0 14h0m0 22h0m1-40h0m0 12h0m0 15h0m0 1h0m1-44h0m0 7h0m0 4h0m0 27h0m1-40h0m0 15h0m0 3h0m0 12h0m0 6h0m0 9h0m1-44h0m0 4h0m0 7h0m0 8h0m0 12h0m0 8h0m0 4h0m1-5h0m1-38h0m0 31h0m0 0h0m0 1h0m0 2h0m0 9h0m1-27h0m0 4h0m0 12h0m0 11h0m1-46h0m0 37h0m0 2h0m1-23h0m0 26h0m0 2h0m1-55h0m0 19h0m0 11h0m0 6h0m1-32h0m0 19h0m0 5h0m0 12h0m1-28h0m0 14h0m1-31h0m0 4h0m0 7h0m0 2h0m0 4h0m0 10h0m0 17h0m1-40h0m0 4h0m0 18h0m0 12h0m0 9h0m1-35h0m0 6h0m0 23h0m0 2h0m0 2h0m1-43h0m0 14h0m0 18h0m1-32h0m0 11h0m1-11h0m0 0h0m0 4h0m0 22h0m0 3h0m1-39h0m0 21h0m0 23h0m1-50h0m0 4h0m0 1h0m0 39h0m0 6h0m1-51h0m1 6h0m0 8h0m0 18h0m0 3h0m0 1h0m0 5h0m0 6h0m0 2h0m1-51h0m0 4h0m0 43h0m1-45h0m0 11h0m0 6h0m0 4h0m0 3h0m0 13h0m1-28h0m0 5h0m0 31h0m1-51h0m0 17h0m0 15h0m0 18h0m1-22h0m0 20h0m1-26h0m0 13h0m0 1h0m0 4h0m1-37h0m0 29h0m0 0h0m0 11h0m1-42h0m0 10h0m0 10h0m1-27h0m0 18h0m0 19h0m1-22h0m0 4h0m0 13h0m0 2h0m1-30h0m0 10h0m0 11h0m0 4h0m0 1h0m0 5h0m0 5h0m1-32h0m0 25h0m1-37h0m0 1h0m0 10h0m1-4h0m1 17h0m0 5h0m1-27h0m0 27h0m0 2h0m0 1h0m0 2h0m0 2h0m2-16h0m0 9h0m0 3h0m1-32h0m0 33h0m1-51h0m0 26h0m0 12h0m0 0h0m0 1h0m0 5h0m1-42h0m1 12h0m0 6h0m0 14h0m0 7h0m1-35h0m0 3h0m0 0h0m0 22h0m0 1h0m0 8h0m0 1h0m0 2h0m0 1h0m1-31h0m0 3h0m0 26h0m1-39h0m0 14h0m0 1h0m0 9h0m1-30h0m0 4h0m0 23h0m0 9h0m0 3h0m1-35h0m0 5h0m0 17h0m0 13h0m1-37h0m0 3h0m0 4h0m0 29h0m1-30h0m0 5h0m0 30h0m0 1h0m1-40h0m0 15h0m0 8h0m0 6h0m0 1h0m0 7h0m1-34h0m0 14h0m0 8h0m1-29h0m0 3h0m0 10h0m0 18h0m0 3h0m0 3h0m1-47h0m0 8h0m0 13h0m1-13h0m0 11h0m0 1h0m0 25h0m1-41h0m0 21h0m0 6h0m0 9h0m0 7h0m1-47h0m0 3h0m0 31h0m0 12h0m1-40h0m0 2h0m0 2h0m0 27h0m0 2h0m1-34h0m0 39h0m1-48h0m1 2h0m0 1h0m0 3h0m0 6h0m0 6h0m0 26h0m0 3h0m0 1h0m1-41h0m0 5h0m0 5h0m0 6h0m0 12h0m1-35h0m0 2h0m0 6h0m0 1h0m0 23h0m1-24h0m0 3h0m0 9h0m0 22h0m1-45h0m0 2h0m0 3h0m0 3h0m0 9h0m0 3h0m0 16h0m0 4h0m0 1h0m1-38h0m0 6h0m0 11h0m0 15h0m0 6h0m1-44h0m0 14h0m1 1h0m0 3h0m0 17h0m0 7h0m1-31h0m0 24h0m0 10h0m1-43h0m0 3h0m1-10h0m0 2h0m0 3h0m0 38h0m0 5h0m0 1h0m1-49h0m0 20h0m0 2h0m1-16h0m0 41h0m1-43h0m0 16h0m0 20h0m0 5h0m1-39h0m0 20h0m0 10h0m0 2h0m0 2h0m1-42h0m0 10h0m0 1h0m0 7h0m0 3h0m0 14h0m1 9h0m1-48h0m0 5h0m0 21h0m0 1h0m0 1h0m0 4h0m0 7h0m1-40h0m0 5h0m0 3h0m0 24h0m0 14h0m1-46h0m0 3h0m0 21h0m0 8h0m1-30h0m0 7h0m0 6h0m0 6h0m0 7h0m0 1h0m0 6h0m0 1h0m0 6h0m1-42h0m0 37h0m0 1h0m1-24h0m1-18h0m0 5h0m0 40h0m0 1h0m1-45h0m0 2h0m0 22h0m0 11h0m1-18h0m1 4h0m0 6h0m0 2h0m0 10h0m1-31h0m0 12h0m0 11h0m1-24h0m0 6h0m0 16h0m0 6h0m1-34h0m0 0h0m0 28h0m0 5h0m1-35h0m0 9h0m0 3h0m0 20h0m0 8h0m1-45h0m0 4h0m0 1h0m0 0h0m0 1h0m0 1h0m0 19h0m0 4h0m0 2h0m0 8h0m0 4h0m1-23h0m0 8h0m0 6h0m1-32h0m0 11h0m0 5h0m0 20h0m1-44h0m0 2h0m0 3h0m0 6h0m0 1h0m0 0h0m0 22h0m0 2h0m0 2h0m0 0h0m1-32h0m0 1h0m0 0h0m0 1h0m0 19h0m0 2h0m0 14h0m1-46h0m0 6h0m0 30h0m1-30h0m0 5h0m0 9h0m1-22h0m0 6h0m1 20h0m1-25h0m0 34h0m1 3h0m0 2h0m1-37h0m0 10h0m0 22h0m0 2h0m0 2h0m1-38h0m0 2h0m0 1h0m0 22h0m0 5h0m0 1h0m1-37h0m0 3h0m0 34h0m0 2h0m0 0h0m0 0h0m1-39h0m0 0h0m0 0h0m0 16h0m0 5h0m0 2h0m0 18h0m0 1h0m1-39h0m0 2h0m0 33h0m0 2h0m0 3h0m1-41h0m0 7h0m0 14h0m0 9h0m1-28h0m0 2h0m0 1h0m0 6h0m0 10h0m0 10h0m1-28h0m0 10h0m0 8h0m1-24h0m0 13h0m1-16h0m0 32h0m0 7h0m1-38h0m0 4h0m0 2h0m0 10h0m0 7h0m0 10h0m0 2h0m0 3h0m1-10h0m1-27h0m0 0h0m0 24h0m0 13h0m1-44h0m0 3h0m0 0h0m0 31h0m0 0h0m0 5h0m1-24h0m0 2h0m0 11h0m1-26h0m0 8h0m1 9h0m0 9h0m0 4h0m0 8h0m1-38h0m0 2h0m0 23h0m0 12h0m1-43h0m0 15h0m0 11h0m0 9h0m0 2h0m0 7h0m1-37h0m0 15h0m0 1h0m0 11h0m1-29h0m0 0h0m0 11h0m0 19h0m1-27h0m0 9h0m0 18h0m1-5h0m0 4h0m1-30h0m0 20h0m0 9h0m1-36h0m1 7h0m0 0h0m0 7h0m0 11h0m0 1h0m0 2h0m0 8h0m1-37h0m0 37h0m1-30h0m0 21h0m0 1h0m0 0h0m0 1h0m1-30h0m0 2h0m0 26h0m1-31h0m0 2h0m0 9h0m0 2h0m0 18h0m1 7h0m0 1h0m1-41h0m0 3h0m0 3h0m0 31h0m1-33h0m0 20h0m0 10h0m0 1h0m1-36h0m0 3h0m1-2h0m0 6h0m0 0h0m0 4h0m0 3h0m0 21h0m0 8h0m1-34h0m0 27h0m1-28h0m0 4h0m0 17h0m0 4h0m2-37h0m1 3h0m1-1h0m0 2h0m1-1h0m0 5h0m0 17h0m1-23h0m0 9h0m0 29h0m1-37h0m0 1h0m0 5h0m1-13h0m0 2h0m0 6h0m0 7h0m0 2h0m0 14h0m0 0h0m0 4h0m0 4h0m1-31h0m0 15h0m0 13h0m1-38h0m0 7h0m0 2h0m1-3h0m0 3h0m0 15h0m0 16h0m1-40h0m0 10h0m1 4h0m0 18h0m0 8h0m1-40h0m0 22h0m0 3h0m1-27h0m0 8h0m0 33h0m1-39h0m0 0h0m0 31h0m0 0h0m0 6h0m1-39h0m0 2h0m0 2h0m0 6h0m0 8h0m0 5h0m0 3h0m1-25h0m0 1h0m0 33h0m1-38h0m0 2h0m0 5h0m0 1h0m0 32h0m0 1h0m1-42h0m0 2h0m0 2h0m0 3h0m0 14h0m0 6h0m0 3h0m0 11h0m1-40h0m0 3h0m0 32h0m0 2h0m0 0h0m1-26h0m0 25h0m1-37h0m0 1h0m0 0h0m0 1h0m0 7h0m0 0h0m0 17h0m0 9h0m0 4h0m1-30h0m0 8h0m0 6h0m0 4h0m0 9h0m0 2h0m1-26h0m1-12h0m0 7h0m0 0h0m0 29h0m1-39h0m0 0h0m0 17h0m0 14h0m1-26h0m0 31h0m0 2h0m0 0h0m0 1h0m1-39h0m0 0h0m0 12h0m0 7h0m0 14h0m0 0h0m0 2h0m0 1h0m1-36h0m0 17h0m0 15h0m0 2h0m0 3h0m1-33h0m0 7h0m0 0h0m0 12h0m0 5h0m0 4h0m0 1h0m1-33h0m0 29h0m1-33h0m0 6h0m0 13h0m0 9h0m1-24h0m0 0h0m0 0h0m0 18h0m0 11h0m0 2h0m0 1h0m1-36h0m0 5h0m0 9h0m0 24h0m1-38h0m0 31h0m1 1h0m0 0h0m1-31h0m0 0h0m0 1h0m0 6h0m0 24h0m0 0h0m1-35h0m0 1h0m0 1h0m0 0h0m0 29h0m0 5h0m1-35h0m0 6h0m0 5h0m0 0h0m0 22h0m1-30h0m0 3h0m0 4h0m0 12h0m0 3h0m0 3h0m0 1h0m1-30h0m0 0h0m1 1h0m0 1h0m1 6h0m0 7h0m0 17h0m1-32h0m0 34h0m0 1h0m1-23h0m0 23h0m1-33h0m0 31h0m1-34h0m0 0h0m0 2h0m0 9h0m0 5h0m0 10h0m0 8h0m1-26h0m0 9h0m0 15h0m1-29h0m0 0h0m0 21h0m0 1h0m1-26h0m0 0h0m0 5h0m0 5h0m0 14h0m1-24h0m0 10h0m0 0h0m0 14h0m1-18h0m0 24h0m0 0h0m1-29h0m0 9h0m0 21h0m1-32h0m0 1h0m0 28h0m0 3h0m1-30h0m0 8h0m1 2h0m0 16h0m0 0h0m1-27h0m0 28h0m1-30h0m0 2h0m0 0h0m0 19h0m1-21h0m0 3h0m0 4h0m0 21h0m0 1h0m1-26h0m0 2h0m0 4h0m0 22h0m0 0h0m1-31h0m0 7h0m0 15h0m0 7h0m0 3h0m1-29h0m1 29h0m1-15h0m1-16h0m0 3h0m0 22h0m1-20h0m1-7h0m0 12h0m0 3h0m1-14h0m0 4h0m3-3h0m1 0h0m1-1h0m1 7h0m1-6h0m1-1h0m2-1h0m0 26h0m3-1h0m1-22h0m0 2h0m0 9h0m1-15h0m1 24h0m3-24h0m0 1h0m2 24h0m1-25h0m1 2h0m0 8h0m4 16h0m1-27h0m2 0h0m4 19h0m1-19h0m0 11h0m4 15h0m3-21h0m0 8h0m1-10h0m0 23h0m3-28h0m0 28h0m1-28h0m0 29h0m4-29h0m0 9h0m0 17h0m1-19h0m1 22h0m0 0h0m0 0h0m1 0h0m1-29h0m0 26h0m0 2h0m2-26h0m0 26h0m2-2h0m1-26h0m0 10h0m0 16h0m0 0h0m1-27h0m0 17h0m1-15h0m0 3h0m0 2h0m4-7h0m1 7h0m3-7h0m0 1h0m2 1h0m0 8h0m1-8h0m0 27h0m2-19h0m1-10h0m1 0h0m1 13h0m2-1h0m1 15h0m6 1h0m1-24h0m0 24h0m1-29h0m2-2h0m0 13h0m1 17h0m1-1h0m1 0h0m3-6h0m0 7h0m2-8h0m0 6h0m1-1h0m2 2h0m1-17h0m0 16h0m2-28h0m1 4h0m0 26h0m2-22h0m2 21h0m1-26h0m1 0h0m0 2h0m0 24h0m2-27h0m1-3h0m0 3h0m1 22h0m2-26h0m1 5h0m0 25h0m1 0h0m1-3h0m3-20h0m1 3h0m0 17h0m6-1h0m0 3h0m1-30h0m0 32h0m1-20h0m1 16h0m1-24h0m1 25h0m2-28h0m1 3h0m1-6h0m0 26h0m1 4h0m1-16h0m0 18h0m2-33h0m0 28h0m0 4h0m1 1h0m1-29h0m1-1h0m0 0h0m0 3h0m0 4h0m1-10h0m0 1h0m0 30h0m0 2h0m1-1h0m1-3h0m0 4h0m1-32h0m0 3h0m0 3h0m0 19h0m1-24h0m0 26h0m0 3h0m0 2h0m0 0h0m1-32h0m0 29h0m1-30h0m0 1h0m0 30h0m0 2h0m1-34h0m0 0h0m0 3h0m0 6h0m0 6h0m1 19h0m1-22h0m0 20h0m1-29h0m0 0h0m0 17h0m0 14h0m0 0h0m0 0h0m1-31h0m0 1h0m0 30h0m1-35h0m0 4h0m0 2h0m0 24h0m1-28h0m0 12h0m1 20h0m0 0h0m1-33h0m0 29h0m0 4h0m1-33h0m1 33h0m1-27h0m0 27h0m0 0h0m2-21h0m0 15h0m0 3h0m2-30h0m0 3h0m0 25h0m0 4h0m2-2h0m0 0h0m1-28h0m0 26h0m1-21h0m1 24h0m1-1h0m1-13h0m0 11h0m0 3h0m1-31h0m0 22h0m1-21h0m0 3h0m1 4h0m0 9h0m0 2h0m1 6h0m1-24h0m0 2h0m1 26h0m1-26h0m1-1h0m1 3h0m0 10h0m0 10h0m1-24h0m0 24h0m0 3h0m0 0h0m1-27h0m0 3h0m2 24h0m1-2h0m0 2h0m0 0h0m2-4h0m2-18h0m1-3h0m0 19h0m3-6h0m1-10h0m0 13h0m3-16h0m2 2h0m0 8h0m3-3h0m0 9h0m2 0h0m2-12h0m0 1h0m0 9h0" stroke="#482374"/>
<path d="M209 977h0m2-11h0m0 0h0m1-13h0m0 0h0m0 3h0m0 13h0m2-30h0m3 10h0m1-25h0m1 22h0m1-24h0m0 8h0m0 16h0m1-14h0m0 4h0m1-12h0m0 17h0m1-32h0m1 28h0m1-38h0m0 13h0m1 8h0m1-19h0m0 12h0m1-8h0m0 3h0m0 13h0m1-23h0m0 16h0m0 2h0m1-23h0m0 2h0m0 7h0m0 12h0m1-22h0m0 20h0m0 3h0m1-21h0m0 17h0m0 0h0m1-21h0m0 15h0m1-12h0m0 8h0m0 10h0m1-17h0m0 16h0m1-8h0m0 1h0m0 6h0m1-20h0m0 7h0m0 10h0m1-28h0m0 12h0m0 9h0m0 1h0m1-19h0m0 0h0m0 12h0m1-13h0m0 4h0m0 10h0m1-20h0m0 10h0m0 5h0m0 2h0m0 1h0m1-20h0m0 14h0m0 13h0m1-20h0m0 13h0m0 3h0m1-25h0m0 8h0m0 2h0m0 15h0m1-20h0m0 6h0m0 2h0m1-6h0m0 17h0m1-22h0m0 15h0m1-22h0m0 13h0m1-8h0m0 16h0m1-16h0m0 3h0m0 1h0m1-10h0m0 0h0m0 15h0m1-21h0m0 2h0m0 4h0m0 6h0m1-20h0m0 11h0m0 6h0m0 3h0m1-16h0m0 0h0m0 5h0m0 8h0m0 1h0m1 1h0m1-13h0m0 17h0m0 2h0m1-14h0m0 6h0m1-6h0m0 3h0m0 0h0m1-13h0m0 12h0m0 2h0m0 5h0m1-17h0m0 2h0m0 0h0m1-11h0m1 16h0m0 1h0m1-20h0m0 3h0m0 6h0m1-6h0m0 12h0m1-19h0m0 6h0m0 10h0m2-16h0m0 3h0m0 4h0m0 2h0m1-15h0m0 2h0m0 1h0m1 12h0m1 1h0m1-28h0m0 8h0m0 11h0m0 0h0m1-10h0m1 1h0m0 10h0m1-12h0m0 2h0m0 2h0m0 4h0m0 3h0m1-13h0m0 5h0m1-13h0m0 6h0m1-9h0m0 4h0m0 18h0m1-25h0m0 9h0m0 6h0m0 9h0m1-23h0m0 6h0m0 8h0m2-15h0m1 2h0m0 1h0m1 2h0m0 12h0m1-14h0m0 2h0m0 2h0m0 1h0m1-14h0m0 10h0m0 5h0m1-2h0m1-17h0m0 5h0m0 0h0m0 8h0m1-7h0m0 15h0m1-9h0m0 7h0m1-15h0m0 6h0m1 5h0m0 3h0m1-18h0m1 5h0m0 1h0m1-11h0m0 3h0m1-7h0m0 22h0m0 1h0m0 2h0m1-6h0m0 3h0m1-14h0m0 12h0m0 3h0m1-14h0m0 1h0m0 1h0m0 0h0m1 5h0m1 2h0m2-22h0m0 9h0m0 4h0m1-4h0m0 6h0m0 4h0m1-21h0m0 17h0m0 6h0m1-25h0m2 6h0m1 10h0m1-15h0m0 12h0m2-6h0m0 8h0m0 1h0m1-23h0m0 6h0m0 9h0m1-15h0m0 3h0m1 9h0m2-3h0m0 8h0m0 2h0m1-1h0m1-23h0m0 9h0m0 3h0m0 6h0m2-24h0m1 8h0m0 2h0m0 6h0m1-14h0m0 4h0m0 13h0m0 2h0m1-11h0m1-12h0m0 3h0m0 6h0m0 11h0m1-10h0m0 2h0m0 5h0m1-15h0m0 10h0m1-9h0m0 2h0m0 6h0m0 8h0m0 3h0m0 1h0m1-23h0m0 18h0m0 0h0m1-24h0m1 1h0m0 8h0m0 3h0m0 8h0m1-17h0m0 5h0m0 12h0m1-16h0m0 6h0m1-8h0m0 4h0m0 1h0m0 1h0m0 13h0m1-17h0m0 3h0m0 8h0m0 2h0m0 1h0m1-18h0m0 1h0m0 7h0m1-8h0m0 6h0m0 3h0m0 8h0m0 2h0m1-22h0m0 0h0m0 9h0m1 1h0m0 6h0m0 4h0m1-22h0m1 2h0m0 3h0m1-7h0m0 6h0m0 0h0m0 6h0m0 1h0m0 1h0m1-9h0m0 6h0m0 2h0m0 7h0m1-22h0m0 4h0m0 5h0m0 10h0m0 1h0m1-19h0m0 15h0m1-10h0m0 1h0m0 7h0m0 6h0m1-22h0m0 2h0m0 19h0m1-13h0m0 11h0m2-17h0m0 10h0m1-9h0m0 4h0m0 9h0m0 2h0m1-26h0m0 15h0m1 2h0m0 8h0m1-20h0m0 5h0m0 6h0m0 3h0m1-18h0m0 2h0m0 2h0m0 1h0m0 3h0m0 8h0m0 0h0m1-5h0m0 3h0m0 1h0m0 2h0m1-17h0m0 5h0m0 1h0m0 3h0m0 10h0m1-13h0m1-14h0m0 2h0m0 15h0m0 1h0m0 5h0m1-16h0m0 3h0m0 2h0m0 12h0m1-27h0m0 26h0m1-26h0m0 25h0m1-17h0m0 13h0m1-17h0m0 3h0m0 5h0m0 7h0m1-9h0m1-1h0m0 5h0m1-15h0m0 5h0m0 16h0m1-19h0m0 22h0m1-27h0m0 2h0m0 10h0m1-14h0m0 5h0m0 5h0m0 6h0m1-7h0m0 5h0m0 3h0m0 4h0m1 0h0m1-24h0m0 1h0m0 8h0m0 8h0m0 3h0m1-8h0m0 4h0m0 5h0m0 7h0m1-15h0m0 2h0m2-16h0m1 9h0m0 9h0m0 10h0m1-28h0m0 4h0m0 1h0m0 0h0m0 17h0m1-20h0m1 10h0m1-17h0m0 4h0m0 2h0m0 1h0m0 16h0m0 0h0m1-19h0m0 14h0m0 4h0m1-23h0m0 11h0m0 9h0m0 7h0m1-25h0m0 0h0m1 10h0m0 3h0m0 4h0m1-16h0m1 15h0m0 3h0m0 1h0m1-25h0m0 3h0m0 0h0m0 1h0m0 5h0m0 6h0m1-10h0m0 4h0m1-7h0m0 1h0m0 10h0m1-10h0m0 14h0m0 1h0m0 7h0m0 0h0m1-29h0m0 29h0m2-6h0m0 3h0m0 3h0m1-28h0m0 3h0m1 6h0m0 4h0m1-15h0m1-1h0m0 1h0m1-2h0m0 2h0m0 7h0m0 11h0m1-21h0m0 2h0m0 2h0m0 1h0m0 2h0m0 12h0m0 0h0m1-15h0m1-6h0m0 6h0m0 2h0m0 13h0m0 2h0m0 3h0m1-26h0m0 3h0m0 4h0m0 3h0m0 0h0m0 2h0m0 6h0m1-16h0m0 1h0m0 2h0m0 0h0m0 12h0m1-18h0m0 2h0m0 1h0m0 8h0m0 6h0m0 1h0m0 8h0m0 1h0m1-27h0m0 2h0m0 27h0m1-31h0m0 2h0m0 1h0m0 1h0m1-2h0m0 2h0m0 4h0m0 3h0m0 14h0m1-22h0m0 2h0m0 3h0m0 1h0m1-9h0m0 5h0m0 1h0m0 0h0m1 3h0m0 9h0m0 2h0m0 3h0m1-8h0m1-16h0m0 1h0m0 5h0m0 2h0m0 12h0m1-21h0m0 22h0m0 0h0m0 1h0m0 0h0m1-16h0m0 1h0m0 6h0m0 4h0m0 4h0m0 3h0m1-25h0m0 22h0m1-23h0m0 0h0m0 3h0m0 2h0m0 1h0m0 3h0m0 6h0m0 10h0m1-16h0m0 3h0m2-10h0m0 9h0m0 11h0m1-25h0m0 1h0m0 2h0m0 8h0m0 2h0m0 0h0m1-14h0m0 1h0m0 2h0m0 4h0m0 14h0m0 6h0m0 1h0m1-29h0m0 2h0m0 1h0m0 0h0m0 1h0m0 5h0m0 9h0m0 8h0m1-24h0m0 3h0m0 2h0m0 7h0m0 6h0m0 4h0m0 3h0m1-23h0m0 4h0m1-7h0m0 3h0m0 18h0m0 4h0m0 1h0m1-26h0m0 2h0m0 1h0m0 25h0m1-28h0m0 0h0m0 8h0m0 9h0m0 3h0m0 6h0m0 0h0m1-24h0m0 0h0m0 3h0m0 20h0m1-26h0m0 2h0m0 2h0m0 3h0m0 2h0m0 0h0m0 3h0m0 13h0m0 1h0m1-22h0m0 17h0m1-21h0m0 0h0m0 1h0m0 11h0m0 10h0m1-23h0m0 4h0m0 16h0m0 5h0m1-25h0m0 2h0m0 7h0m0 9h0m1-18h0m0 12h0m0 6h0m0 5h0m0 3h0m1-27h0m0 1h0m0 8h0m0 3h0m0 2h0m1-13h0m0 4h0m0 0h0m0 7h0m1-11h0m0 1h0m0 1h0m0 23h0m1-27h0m0 2h0m0 23h0m1-25h0m0 22h0m2-22h0m0 1h0m1 21h0m3-4h0m0 6h0m1-11h0m1-12h0m0 19h0m1-11h0m1-10h0m0 22h0m1 1h0m0 0h0m1-24h0m0 11h0m1-11h0m2-1h0m0 22h0m1-16h0m0 10h0m0 5h0m0 1h0m5-4h0m3-13h0m0 4h0m1-9h0m0 5h0m1-1h0m0 14h0m4-10h0m2 15h0m2-25h0m0 0h0m0 19h0m1 1h0m1-3h0m1-10h0m0 15h0m0 2h0m1-16h0m1 14h0m2-21h0m1-1h0m0 1h0m1 3h0m0 1h0m0 0h0m1-4h0m0 4h0m0 17h0m1 3h0m1-11h0m1-13h0m1 22h0m2-4h0m1-18h0m0 1h0m0 2h0m3 18h0m1-7h0m0 1h0m1-6h0m0 3h0m1 10h0m1-3h0m1-13h0m2 0h0m0 17h0m2-26h0m0 25h0m2-25h0m1 23h0m1-22h0m0 3h0m0 22h0m1-5h0m0 4h0m1-5h0m0 5h0m1-21h0m1-4h0m0 22h0m1 3h0m1-23h0m2-1h0m0 0h0m1-3h0m3 9h0m1-8h0m1-1h0m0 1h0m0 12h0m0 14h0m1-25h0m1 2h0m4-4h0m0 5h0m2 1h0m0 21h0m3-26h0m0 8h0m0 0h0m1 17h0m3-26h0m2 5h0m1 19h0m2-24h0m0 4h0m0 18h0m1-22h0m0 11h0m1-11h0m0 1h0m3-3h0m1 27h0m2-15h0m2-13h0m0 1h0m0 12h0m1 2h0m2-14h0m2 7h0m0 2h0m0 1h0m1-11h0m0 7h0m2-6h0m3 21h0m2-22h0m1-1h0m0 0h0m1 25h0m0 0h0m3-25h0m0 12h0m1 15h0m2-28h0m0 0h0m0 2h0m0 3h0m1 4h0m2-3h0m2-6h0m1 0h0m0 3h0m1-4h0m0 27h0m0 2h0m1-6h0m2 4h0m1-26h0m0 26h0m1-28h0m0 9h0m1-8h0m1 0h0m1-1h0m0 1h0m1 4h0m0 24h0m1-2h0m1 2h0m0 1h0m1-4h0m0 4h0m1-30h0m0 1h0m1 28h0m0 1h0m0 0h0m2-1h0m1 1h0m2-9h0m0 8h0m1-29h0m0 6h0m0 3h0m1 7h0m1-16h0m0 1h0m0 3h0m0 10h0m0 13h0m0 2h0m0 1h0m1-32h0m0 32h0m0 0h0m1-29h0m0 2h0m0 26h0m1-10h0m1-20h0m1 25h0m0 4h0m2-30h0m0 24h0m1-22h0m0 11h0m0 15h0m0 3h0m0 0h0m1-12h0m0 10h0m1-29h0m0 28h0m0 2h0m2-27h0m0 4h0m0 1h0m0 6h0m0 14h0m1-28h0m0 0h0m0 8h0m0 22h0m1-9h0m1 8h0m0 1h0m0 0h0m1-14h0m0 11h0m0 2h0m1-3h0m0 1h0m1-28h0m1 30h0m0 0h0m0 0h0m0 1h0m1-30h0m0 21h0m1-20h0m0 28h0m1-26h0m0 4h0m0 13h0m0 9h0m1-21h0m0 19h0m0 1h0m1-28h0m0 26h0m1 1h0m1-11h0m0 10h0m1-16h0m0 17h0m2-1h0m1-24h0m0 24h0m1-26h0m1 1h0m0 26h0m1-1h0m1-7h0m1-17h0m0 13h0m0 10h0m2-24h0m0 7h0m0 8h0m2-4h0m0 13h0m1-1h0m3-18h0m0 1h0m0 4h0m0 9h0m1-14h0m1-3h0m1 14h0m1-12h0m0 8h0m1 1h0m0 7h0m2-5h0m0 0h0m1-11h0m1 0h0m0 5h0m1 5h0m1 2h0m3-7h0m2 2h0" stroke="#462c7a"/>
<path d="M369 738h0m3-4h0m1-1h0m1 0h0m1 2h0m1-5h0m0 7h0m1-6h0m0 1h0m1-2h0m1-2h0m0 1h0m1 3h0m1-3h0m4-5h0m3-3h0m0 2h0m1-8h0m0 15h0m1-14h0m0 4h0m0 3h0m0 4h0m0 5h0m1-6h0m0 4h0m1-13h0m0 3h0m0 3h0m0 5h0m1-12h0m0 3h0m0 4h0m1 0h0m1-10h0m0 10h0m0 3h0m1-15h0m0 1h0m0 10h0m1-3h0m0 5h0m0 2h0m1-18h0m0 12h0m0 2h0m1-8h0m0 7h0m0 1h0m1-12h0m0 0h0m0 6h0m0 2h0m0 2h0m0 1h0m1-11h0m1 5h0m0 2h0m0 5h0m1-11h0m0 3h0m0 1h0m0 7h0m0 0h0m1-15h0m0 0h0m0 6h0m0 6h0m1-10h0m0 1h0m0 0h0m0 8h0m1-9h0m0 8h0m1-14h0m0 5h0m0 4h0m0 2h0m0 3h0m1-13h0m0 5h0m0 1h0m0 6h0m0 1h0m1-4h0m0 0h0m1-7h0m0 1h0m0 0h0m0 5h0m1-12h0m0 3h0m0 1h0m0 2h0m0 0h0m0 7h0m1-10h0m0 2h0m0 9h0m0 0h0m0 2h0m1-17h0m0 1h0m0 1h0m0 3h0m0 1h0m0 2h0m0 6h0m0 1h0m1-16h0m0 6h0m0 6h0m0 1h0m1-12h0m0 7h0m0 5h0m1-15h0m0 4h0m0 2h0m0 8h0m0 2h0m1-12h0m1-3h0m0 0h0m0 2h0m0 16h0m1-20h0m0 4h0m0 0h0m0 1h0m1-4h0m0 3h0m0 3h0m0 3h0m0 1h0m1-13h0m0 1h0m0 1h0m0 1h0m0 2h0m0 0h0m0 1h0m0 5h0m0 2h0m0 2h0m1-13h0m0 1h0m1-2h0m0 2h0m0 3h0m0 1h0m0 5h0m0 0h0m0 9h0m0 1h0m1-20h0m0 1h0m0 7h0m0 1h0m0 3h0m0 1h0m1-12h0m0 13h0m1-9h0m0 1h0m0 1h0m0 6h0m0 5h0m2-21h0m1 1h0m0 5h0m0 4h0m1-10h0m0 7h0m1-8h0m0 2h0m0 7h0m0 0h0m0 1h0m0 3h0m1-12h0m0 0h0m0 9h0m0 5h0m0 7h0m1-21h0m0 0h0m0 0h0m0 9h0m0 1h0m1 9h0m1-21h0m0 4h0m0 1h0m0 8h0m1-13h0m0 1h0m1-2h0m0 0h0m0 1h0m0 6h0m0 5h0m0 6h0m0 4h0m1-21h0m0 11h0m1-12h0m0 9h0m0 13h0m1-16h0m0 9h0m2 2h0m1-16h0m0 15h0m1-16h0m1-2h0m0 19h0m0 2h0m2-5h0m1-14h0m4 1h0m3 11h0m0 4h0m3-20h0m2 6h0m1-6h0m0 1h0m1 17h0m0 0h0m1-19h0m1 1h0m0 1h0m1 9h0m1-8h0m1 8h0m0 9h0m3-19h0m0 20h0m2-18h0m2-1h0m2 17h0m3-3h0m3-15h0m2-3h0m1 1h0m1 0h0m1 3h0m1 17h0m3-21h0m0 10h0m3 10h0m0 1h0m3-23h0m0 1h0m1 6h0m1 15h0m3-13h0m2-6h0m0 20h0m1-21h0m2 4h0m1-6h0m0 9h0m3-4h0m3-5h0m0 1h0m6-2h0m4 4h0m0 19h0m1-14h0m4-9h0m0 10h0m0 14h0m1-19h0m1-6h0m0 4h0m0 5h0m1-8h0m0 6h0m0 2h0m1-2h0m1 15h0m0 1h0m6 1h0m2 0h0m1-25h0m0 6h0m1-6h0m0 0h0m0 4h0m1-3h0m0 21h0m3-21h0m1 7h0m2-9h0m0 1h0m0 23h0m1-24h0m3 24h0m1-24h0m0 16h0m1 6h0m1-21h0m0 24h0m3-23h0m2-1h0m1 21h0m1-21h0m0 22h0m2-24h0m0 0h0m0 1h0m0 4h0m0 11h0m0 6h0m1-8h0m1 1h0m0 3h0m0 4h0m4 2h0m1-25h0m4 2h0m0 4h0m1-8h0m0 28h0m1-25h0m0 24h0m1-26h0m1 6h0m0 16h0m1-21h0m0 3h0m0 2h0m1-4h0m0 1h0m0 24h0m4-9h0m1-19h0m0 5h0m0 22h0m1-28h0m0 13h0m0 15h0m1-2h0m1-24h0m0 26h0m1 0h0m1-26h0m0 25h0m1-27h0m0 6h0m1 20h0m0 0h0m2-27h0m1-1h0m0 27h0m1-24h0m0 0h0m0 27h0m1-30h0m0 30h0m2-7h0m0 6h0m0 0h0m0 1h0m1-3h0m1-16h0m2 18h0m0 0h0m0 0h0m1-24h0m0 24h0m0 0h0m1 0h0m2-24h0m0 22h0m1-24h0m1-3h0m0 1h0m0 24h0m0 3h0m1-26h0m0 25h0m0 1h0m0 0h0m1-16h0m0 11h0m0 3h0m0 1h0m0 1h0m1-25h0m0 19h0m0 1h0m0 5h0m0 1h0m1-29h0m0 0h0m0 0h0m1-1h0m0 1h0m0 27h0m0 0h0m0 0h0m1-27h0m0 0h0m0 11h0m1-11h0m0 25h0m2-25h0m0 25h0m0 1h0m1 0h0m0 0h0m0 1h0m0 0h0m1-28h0m0 10h0m1-8h0m0 14h0m0 8h0m0 3h0m2-25h0m1 0h0m0 0h0m1 4h0m0 5h0m0 12h0m0 2h0m1 0h0m0 1h0m1-25h0m1 5h0m1-4h0m0 5h0m0 14h0m0 1h0m1-20h0m1 23h0m1-16h0m1-4h0m0 5h0m1-7h0m0 5h0m1-5h0m0 3h0m1-1h0m1 11h0m0 5h0m3-9h0m1 7h0m0 2h0m0 0h0m1-13h0m0 4h0m1-3h0m2 10h0m1-13h0m1 0h0m0 1h0m0 0h0m3 4h0m0 1h0m0 2h0" stroke="#44367f"/>
<path d="M412 708h0m2-3h0m0 2h0m1-4h0m0 3h0m4-2h0m0 1h0m0 2h0m0 3h0m1-2h0m1-4h0m0 1h0m1-6h0m0 3h0m1-4h0m0 4h0m0 1h0m0 0h0m0 2h0m1-1h0m0 7h0m2-14h0m0 1h0m0 0h0m0 2h0m0 1h0m1-4h0m0 1h0m0 6h0m1 3h0m1-9h0m0 1h0m0 1h0m0 4h0m0 6h0m1-8h0m0 6h0m1-8h0m0 2h0m1-8h0m0 1h0m0 0h0m0 1h0m0 0h0m0 2h0m0 0h0m0 3h0m0 5h0m1-9h0m0 6h0m1-9h0m0 12h0m0 1h0m1-14h0m0 0h0m0 2h0m0 1h0m0 4h0m0 0h0m0 5h0m0 1h0m1-15h0m0 2h0m0 0h0m0 8h0m0 2h0m1-9h0m1-1h0m0 0h0m0 7h0m0 4h0m0 1h0m0 2h0m1-14h0m0 1h0m0 5h0m0 4h0m0 2h0m1-12h0m1 1h0m1-1h0m0 8h0m0 4h0m0 0h0m3-14h0m2-1h0m3 14h0m1-14h0m1-1h0m0 0h0m0 8h0m1 5h0m2-13h0m1-1h0m0 0h0m2 4h0m0 11h0m1-13h0m3-3h0m0 6h0m1-2h0m0 7h0m1-11h0m0 1h0m2 1h0m0 12h0m1 2h0m1-17h0m0 2h0m1-2h0m1 16h0m2 0h0m2-15h0m4-3h0m0 19h0m0 0h0m1-18h0m2 1h0m0 6h0m1-3h0m0 14h0m2-17h0m1-1h0m0 8h0m4-10h0m0 20h0m3-17h0m1-3h0m0 4h0m1-4h0m1 8h0m1 11h0m1-14h0m2-5h0m1-1h0m1 2h0m0 5h0m3-2h0m2-6h0m0 10h0m0 9h0m1-11h0m1 11h0m1-20h0m0 5h0m0 16h0m3 1h0m1-21h0m0 17h0m2-13h0m0 2h0m2 2h0m3 12h0m2-15h0m1-4h0m0 4h0m1 3h0m3 8h0m3 4h0m1-17h0m1-5h0m2 16h0m1-16h0m0 0h0m0 3h0m0 14h0m1-16h0m1-2h0m2 1h0m1 21h0m1 1h0m2-18h0m1-4h0m0 18h0m1-10h0m0 1h0m3-11h0m1 6h0m6-6h0m1 2h0m4 19h0m0 1h0m1-10h0m4 10h0m1-9h0m1 9h0m3-25h0m0 24h0m2 1h0m1-25h0m0 23h0m1-20h0m0 22h0m1-16h0m4 16h0m1-2h0m0 1h0m1-24h0m3 1h0m0 23h0m1-5h0m3-20h0m0 18h0m0 3h0m1-22h0m1-1h0m0 1h0m1 1h0m0 7h0m0 18h0m1-27h0m1 22h0m0 2h0m1-17h0m1 1h0m1 17h0m0 1h0m2-26h0m0 10h0m0 14h0m1-20h0m0 23h0m1-27h0m0 3h0m0 7h0m0 16h0m1-1h0m1-26h0m0 13h0m1-13h0m0 10h0m0 17h0m0 1h0m1-29h0m0 9h0m1-9h0m2 0h0m0 1h0m0 11h0m0 11h0m1-23h0m0 29h0m1-28h0m0 3h0m1 1h0m1-5h0m0 4h0m0 6h0m1-10h0m0 18h0m0 9h0m1-27h0m0 4h0m0 3h0m0 8h0m0 1h0m0 6h0m0 6h0m1-28h0m0 1h0m0 8h0m0 11h0m0 1h0m0 6h0m1-23h0m0 20h0m1-24h0m0 3h0m0 20h0m1-23h0m0 13h0m0 14h0m1-27h0m0 21h0m0 6h0m1-1h0m0 1h0m2-27h0m0 27h0m1-26h0m0 23h0m0 2h0m0 0h0m1-12h0m0 11h0m0 0h0m1-19h0m1 17h0m2-4h0m2-12h0m0 14h0m1-19h0m1 22h0m1-21h0m1 1h0m2 12h0m2 6h0m1-14h0m0 1h0m0 8h0m1 4h0m1-11h0m0 2h0m0 5h0m1 0h0m0 3h0m1-17h0m0 10h0m1-5h0m0 12h0m1-12h0m0 7h0m2-10h0m1 11h0m1-10h0m0 2h0m0 9h0m2-10h0m0 3h0m1-3h0m0 2h0m0 0h0" stroke="#423f84"/>
<path d="M428 702h0m1-1h0m3 0h0m1 0h0m1-4h0m0 6h0m1-7h0m0 1h0m0 0h0m0 6h0m1 0h0m1-2h0m0 1h0m0 1h0m0 0h0m1-5h0m0 4h0m1-6h0m0 3h0m0 3h0m1-7h0m2-1h0m0 3h0m1-1h0m0 4h0m1-6h0m1 0h0m0 8h0m1 1h0m5-11h0m0 0h0m1 4h0m1 1h0m1-9h0m0 1h0m1 11h0m2-10h0m1 10h0m0 1h0m1-13h0m6 2h0m0 10h0m7-13h0m0 4h0m0 2h0m3-7h0m3 1h0m2 9h0m1-9h0m1 3h0m2-5h0m0 2h0m0 4h0m1 11h0m1-17h0m2 2h0m6-4h0m3 17h0m1-11h0m2 12h0m2-2h0m1-15h0m2 14h0m2-16h0m3 2h0m0 3h0m0 8h0m1 5h0m1-8h0m0 1h0m0 5h0m1-9h0m1 11h0m1-17h0m2 15h0m1-17h0m0 8h0m2-7h0m0 14h0m2 0h0m4 2h0m1-18h0m3 1h0m0 18h0m6 1h0m1-1h0m1 0h0m1-19h0m0 3h0m1 2h0m1-4h0m1 18h0m4-17h0m1 6h0m2-1h0m1-9h0m2 0h0m3 5h0m0 12h0m3-16h0m0 2h0m0 6h0m1 5h0m0 5h0m2-20h0m2 3h0m0 3h0m2 11h0m1-18h0m0 12h0m0 10h0m2-19h0m1-2h0m5 8h0m1-10h0m1 15h0m2-1h0m3-15h0m1 20h0m1-20h0m1-1h0m1 1h0m2 22h0m1-21h0m1 1h0m0 22h0m1-25h0m1 5h0m0 17h0m2 1h0m1-17h0m0 0h0m0 12h0m0 6h0m1-23h0m0 11h0m0 11h0m0 0h0m1-18h0m1 0h0m0 18h0m0 1h0m1-19h0m0 19h0m4-17h0m0 8h0m1-17h0m0 2h0m0 14h0m0 10h0m1-26h0m0 20h0m1-10h0m1 4h0m1 10h0m1-25h0m0 17h0m0 7h0m0 1h0m1-25h0m0 5h0m0 22h0m1-27h0m0 25h0m0 1h0m0 0h0m0 0h0m1-26h0m0 5h0m0 2h0m0 15h0m0 3h0m1-14h0m0 14h0m1-21h0m0 15h0m0 2h0m0 5h0m1-25h0m0 24h0m0 1h0m1-27h0m0 10h0m1-6h0m0 1h0m1 16h0m0 5h0m1-23h0m1 0h0m1 6h0m1-7h0m0 2h0m0 4h0m0 8h0m1-14h0m0 10h0m1 11h0m0 2h0m1-21h0m0 21h0m1-22h0m0 3h0m0 2h0m0 4h0m2 2h0m1-8h0m0 2h0m0 0h0m0 1h0m0 2h0m1 3h0m0 2h0m1-14h0m0 20h0m1-15h0m0 11h0m0 1h0m1-14h0m1 15h0m1-17h0m0 4h0m2-4h0m0 11h0m0 5h0m1 0h0m2-14h0m0 15h0m3-10h0m0 9h0m1-14h0m0 5h0m4 5h0m3-6h0m0 1h0" stroke="#3f4888"/>
<path d="M443 696h0m6 2h0m1-4h0m0 2h0m1 2h0m1 0h0m1-2h0m0 3h0m4-8h0m1 2h0m2 5h0m1-4h0m1-1h0m0 1h0m1 4h0m1-7h0m1 2h0m3-3h0m1-2h0m0 3h0m1-2h0m0 0h0m1 2h0m2 7h0m1-5h0m1 5h0m1-3h0m2-7h0m1 1h0m0 5h0m3-6h0m0 5h0m1-1h0m1 6h0m5-11h0m0 4h0m1-5h0m1 0h0m3 0h0m1 2h0m1 2h0m1 7h0m0 3h0m2-15h0m0 0h0m0 14h0m2-8h0m1-6h0m0 1h0m0 13h0m2-8h0m1-6h0m0 11h0m1-8h0m1 3h0m1-4h0m1 4h0m2-7h0m2 6h0m2 6h0m2-3h0m1-10h0m0 14h0m1 2h0m1-16h0m1 12h0m1-11h0m2 15h0m2-17h0m4 16h0m1-16h0m2 11h0m2-12h0m0 4h0m2 14h0m2-18h0m0 0h0m0 17h0m1-14h0m3 14h0m1-18h0m0 2h0m1 1h0m0 11h0m0 4h0m2-10h0m1 9h0m1-18h0m0 8h0m2-8h0m2 5h0m1 13h0m0 0h0m0 0h0m2-17h0m0 17h0m1-14h0m2 0h0m1-1h0m1-4h0m2 0h0m0 12h0m1 7h0m2-18h0m0 18h0m1-11h0m1-7h0m0 0h0m0 16h0m2-17h0m6 4h0m0 7h0m0 5h0m1-11h0m1-7h0m1 0h0m0 19h0m1-5h0m1-15h0m1 1h0m0 6h0m1 14h0m4-22h0m3 10h0m0 11h0m1-4h0m0 4h0m0 2h0m1-23h0m0 11h0m0 4h0m0 8h0m1-23h0m0 4h0m0 2h0m0 17h0m1-22h0m0 20h0m1 1h0m0 0h0m0 1h0m1-24h0m0 1h0m0 22h0m2 0h0m0 0h0m1-24h0m0 4h0m1 21h0m1-24h0m1 11h0m0 13h0m1-26h0m1 1h0m0 6h0m0 15h0m0 3h0m1 0h0m2-25h0m0 12h0m0 11h0m0 2h0m1-25h0m0 4h0m2-5h0m0 7h0m0 12h0m0 5h0m0 2h0m1-25h0m0 6h0m0 11h0m0 4h0m0 4h0m2-1h0m1-25h0m0 4h0m0 6h0m1-10h0m0 1h0m0 6h0m0 1h0m0 17h0m1-23h0m1 0h0m0 23h0m1-12h0m1-10h0m1 20h0m0 1h0m1-13h0m0 9h0m1-19h0m1 1h0m0 4h0m0 10h0m0 4h0m1-1h0m0 4h0m1-22h0m1 2h0m0 6h0m0 2h0m0 4h0m1-4h0m1 11h0m2-19h0m1 16h0m2-16h0m0 11h0m2-11h0m1 16h0m1-9h0m0 8h0m1-12h0m0 4h0m0 7h0m1-13h0m0 14h0m0 1h0m2-13h0m0 9h0m2-4h0m0 2h0m1 3h0m2-9h0m0 7h0m2-4h0" stroke="#3c4f89"/>
<path d="M454 695h0m8 1h0m1 0h0m2-5h0m1 5h0m4-5h0m0 2h0m2 0h0m2-3h0m1 6h0m1-7h0m2 6h0m2 2h0m2-7h0m2 0h0m2-1h0m5 1h0m1-2h0m1 11h0m3-12h0m1 8h0m2-8h0m2 0h0m2-1h0m0 13h0m1-9h0m2 7h0m2-11h0m1-1h0m0 1h0m0 1h0m2-1h0m1-1h0m0 4h0m1-2h0m1-2h0m4-1h0m4 1h0m0 0h0m0 11h0m1-10h0m1-3h0m0 14h0m6-14h0m0 15h0m1-14h0m2 1h0m3 12h0m1-7h0m2-8h0m1 12h0m4-1h0m1-1h0m2 3h0m2-6h0m2-9h0m3 15h0m1-2h0m1-9h0m1-1h0m1-3h0m0 15h0m1-16h0m0 7h0m1-5h0m1 2h0m7 0h0m1 5h0m0 8h0m1-11h0m1 5h0m0 6h0m1-4h0m0 2h0m1 0h0m0 2h0m1-19h0m0 19h0m2-19h0m0 7h0m3-8h0m2 1h0m0 11h0m0 7h0m1-15h0m0 15h0m2 1h0m1-16h0m1-6h0m0 1h0m1 0h0m0 6h0m2-1h0m2-4h0m0 1h0m0 16h0m1-18h0m0 1h0m0 1h0m0 5h0m0 10h0m1-13h0m0 0h0m0 16h0m1-15h0m0 0h0m0 16h0m1-22h0m1 4h0m4 9h0m0 8h0m0 1h0m1-24h0m0 1h0m1-1h0m0 3h0m0 17h0m0 4h0m1-23h0m0 0h0m0 18h0m0 1h0m1-3h0m1-16h0m0 0h0m0 3h0m0 5h0m0 9h0m0 5h0m0 1h0m1-21h0m0 5h0m1 7h0m0 0h0m1-15h0m0 2h0m1-3h0m0 1h0m1 24h0m2-25h0m0 23h0m1-12h0m2-11h0m0 19h0m1-18h0m0 0h0m0 12h0m3-12h0m0 14h0m0 3h0m1-17h0m1 5h0m0 1h0m0 8h0m0 3h0m1-17h0m1 14h0m0 7h0m1-21h0m0 4h0m0 1h0m1-4h0m0 5h0m0 5h0m1-11h0m1 1h0m0 1h0m1 7h0m0 1h0m1-9h0m0 12h0m1-11h0m0 0h0m0 2h0m0 6h0m1 7h0m1-16h0m0 2h0m2 13h0m0 1h0m0 0h0m1-14h0m1 7h0m0 5h0m1-9h0m0 1h0m2-4h0m2 10h0m2-2h0m1-1h0" stroke="#39578b"/>
<path d="M476 692h0m2 3h0m3-3h0m5-2h0m1 2h0m2 2h0m0 1h0m3-4h0m0 6h0m1-1h0m0 0h0m5-5h0m1-1h0m0 3h0m1-4h0m1-2h0m2 4h0m3-4h0m1 0h0m0 8h0m2-9h0m5 1h0m0 5h0m0 5h0m3-11h0m1 6h0m2-6h0m0 4h0m1-4h0m1 4h0m3-6h0m0 4h0m1-2h0m0 8h0m1-9h0m0 5h0m1-6h0m0 13h0m1-13h0m1 0h0m0 1h0m2 8h0m5-10h0m1-1h0m0 14h0m1-13h0m3 3h0m9 10h0m1-7h0m2-3h0m1 2h0m2-7h0m3 2h0m0 11h0m2-13h0m0 2h0m5 10h0m3 2h0m1-10h0m0 9h0m1 1h0m4-7h0m0 7h0m0 1h0m2-13h0m3-3h0m1 14h0m2-12h0m0 2h0m0 9h0m2-12h0m0 0h0m0 13h0m1-14h0m1 4h0m2 9h0m0 2h0m1-20h0m0 3h0m1-3h0m0 0h0m1 20h0m1-21h0m0 1h0m0 18h0m3-10h0m0 1h0m1-11h0m0 1h0m1 1h0m0 0h0m0 15h0m0 0h0m0 5h0m1-21h0m0 21h0m1-19h0m0 17h0m2-19h0m1 12h0m0 8h0m1-21h0m0 0h0m0 0h0m0 1h0m0 19h0m0 0h0m1 1h0m0 0h0m0 1h0m0 0h0m1-14h0m1-1h0m0 10h0m0 1h0m0 1h0m2-9h0m0 8h0m1-19h0m0 1h0m0 13h0m0 8h0m1 0h0m0 1h0m0 0h0m1 0h0m1-24h0m1 1h0m0 0h0m0 3h0m0 11h0m0 4h0m0 3h0m1-17h0m0 6h0m0 1h0m0 10h0m0 0h0m0 0h0m1-21h0m0 7h0m1 0h0m0 9h0m0 4h0m1-20h0m0 2h0m0 13h0m1-15h0m0 15h0m1-9h0m0 14h0m1-12h0m0 11h0m0 1h0m1-17h0m0 13h0m0 4h0m1-18h0m0 6h0m0 12h0m1-17h0m0 2h0m0 3h0m0 6h0m1-13h0m0 0h0m0 16h0m0 2h0m1-15h0m1-2h0m0 14h0m0 2h0m1-2h0m1-12h0m0 4h0m1-4h0m0 7h0m0 2h0m0 1h0m1-12h0m1 0h0m0 10h0m0 3h0m1-6h0m1-6h0m1 12h0m1-11h0m2 3h0m3 1h0m2 0h0" stroke="#355e8d"/>
<path d="M496 693h0m4-2h0m1 2h0m1-3h0m2 0h0m0 1h0m1 4h0m2-4h0m1-1h0m2 0h0m2 1h0m2-3h0m1 6h0m5 2h0m1-6h0m1 0h0m1-3h0m0 0h0m3 8h0m1-7h0m3-2h0m0 1h0m0 0h0m1 2h0m2-4h0m0 0h0m1 10h0m1-10h0m1 0h0m0 3h0m3 2h0m2-1h0m3 6h0m3-9h0m4 8h0m2-9h0m2 2h0m1-6h0m0 3h0m0 10h0m1-13h0m1 0h0m1 1h0m0 12h0m5-12h0m0 13h0m1-15h0m0 14h0m2-2h0m3 2h0m1-3h0m1-5h0m1-5h0m3 14h0m1-16h0m2 12h0m2 4h0m1 0h0m1-11h0m0 11h0m2-6h0m1-12h0m0 7h0m0 1h0m2-6h0m0 15h0m1-12h0m0 10h0m2-17h0m0 0h0m0 4h0m1-2h0m1 0h0m1 17h0m2-11h0m1-9h0m0 11h0m2-10h0m1 1h0m0 5h0m0 13h0m1-10h0m0 6h0m0 2h0m2-18h0m0 3h0m0 17h0m1-3h0m2-17h0m1 0h0m0 18h0m1-20h0m0 4h0m0 14h0m1-17h0m1 10h0m0 11h0m1-21h0m0 18h0m0 1h0m0 1h0m1-2h0m0 3h0m1-22h0m1 21h0m1-19h0m0 0h0m0 2h0m0 7h0m0 10h0m1-12h0m0 3h0m0 0h0m0 9h0m1-20h0m0 5h0m1-2h0m1 0h0m0 2h0m0 2h0m1-2h0m0 8h0m0 2h0m1 3h0m1-18h0m0 11h0m0 3h0m0 2h0m0 3h0m1-16h0m0 2h0m0 0h0m0 3h0m2 6h0m1-13h0m0 3h0m0 7h0m1-1h0m1-4h0m1 1h0m1 9h0m3-14h0m0 1h0m0 3h0m1 6h0m1-9h0m0 0h0m0 1h0m0 7h0m1 1h0m1-7h0m0 0h0m0 0h0m0 4h0m0 4h0m1-7h0m0 2h0m0 1h0m0 3h0m1-3h0m1-3h0m0 6h0m1-5h0m0 2h0" stroke="#32658d"/>
<path d="M506 691h0m0 2h0m3-2h0m4 1h0m2-3h0m0 1h0m0 0h0m0 4h0m1-4h0m5-1h0m3 2h0m0 1h0m3-3h0m1-2h0m1-1h0m4 7h0m4-7h0m0 0h0m1 7h0m1-6h0m0 2h0m3-4h0m1 1h0m3 2h0m7-5h0m0 2h0m1 0h0m1 7h0m4-9h0m1 9h0m4-9h0m2-1h0m0 10h0m1 1h0m1-11h0m2 1h0m0 1h0m3-4h0m1 3h0m1 8h0m0 3h0m1-1h0m1-14h0m2 6h0m0 9h0m1-15h0m1 0h0m0 0h0m0 1h0m0 14h0m0 0h0m3-17h0m2 16h0m2 1h0m1-17h0m2 4h0m0 11h0m1-17h0m1 15h0m1-15h0m0 19h0m1-19h0m0 13h0m1-13h0m0 3h0m0 11h0m1-9h0m1 1h0m1-3h0m0 0h0m1-1h0m0 5h0m1 2h0m0 9h0m0 0h0m2 0h0m1-19h0m0 7h0m0 3h0m0 7h0m0 2h0m1-4h0m1-15h0m0 11h0m1-8h0m2-4h0m0 2h0m0 4h0m0 4h0m0 9h0m1-19h0m0 0h0m0 19h0m0 2h0m1-19h0m0 11h0m0 4h0m1-17h0m0 5h0m1 15h0m0 0h0m1-11h0m0 3h0m1-7h0m1-5h0m1 14h0m0 1h0m0 2h0m0 1h0m2-6h0m0 2h0m1-14h0m0 9h0m0 9h0m1-1h0m1-16h0m0 10h0m0 7h0m1-17h0m0 2h0m1-2h0m1 16h0m1-15h0m0 0h0m0 2h0m0 4h0m0 6h0m0 1h0m0 0h0m1-13h0m0 5h0m0 9h0m0 1h0m2-14h0m2 0h0m0 11h0m1-5h0m1-6h0m5 5h0" stroke="#2f6d8e"/>
<path d="M528 689h0m3-1h0m0 2h0m2 1h0m2-2h0m0 0h0m3 2h0m1-5h0m4 3h0m2 1h0m0 0h0m2-5h0m1 1h0m1 1h0m3-3h0m3 4h0m1-1h0m2-2h0m1-2h0m1 5h0m1-2h0m1-3h0m1 4h0m3-5h0m1 3h0m2-3h0m2 2h0m0 8h0m4-8h0m0 1h0m0 5h0m1 1h0m2-8h0m1-3h0m1-1h0m1 5h0m1-1h0m0 10h0m1-13h0m1 4h0m1-6h0m1 0h0m2-1h0m3 1h0m1-2h0m0 6h0m0 5h0m1-6h0m0 6h0m0 1h0m1-8h0m0 4h0m1-8h0m0 8h0m0 7h0m1-15h0m0 2h0m0 6h0m2-9h0m1 2h0m1-1h0m1 14h0m1-15h0m0 1h0m0 1h0m0 13h0m1-16h0m0 4h0m0 14h0m1-18h0m0 0h0m0 10h0m0 10h0m1-12h0m0 8h0m1-14h0m0 5h0m1-7h0m1 0h0m0 1h0m0 4h0m0 14h0m1-19h0m0 16h0m1-16h0m0 3h0m1 12h0m0 4h0m1-17h0m0 3h0m0 1h0m0 8h0m1-14h0m0 19h0m0 0h0m1-18h0m1-1h0m0 1h0m0 16h0m0 1h0m1 0h0m1-11h0m1 11h0m1-16h0m0 2h0m0 9h0m1 0h0m1-13h0m0 7h0m0 3h0m0 1h0m2 3h0m1-14h0m0 11h0m1-3h0m0 6h0m0 0h0m1 1h0m1-1h0m1-7h0m0 1h0m1 0h0m0 4h0m1-6h0m1-3h0m1 1h0m0 8h0m0 1h0m1-9h0m1 2h0m0 1h0m0 4h0m2-2h0m0 0h0" stroke="#2c748e"/>
<path d="M544 687h0m15 2h0m1 1h0m1-4h0m0 0h0m5-3h0m1 0h0m2-1h0m0 6h0m1-6h0m1 3h0m0 3h0m1 1h0m1-2h0m0 4h0m1-5h0m2-2h0m0 0h0m0 8h0m2-12h0m2 7h0m1-5h0m1 10h0m1-1h0m0 1h0m1-9h0m2-5h0m0 3h0m0 6h0m1-9h0m0 0h0m0 4h0m1-4h0m0 5h0m3-4h0m0 8h0m0 6h0m1-15h0m0 2h0m0 1h0m0 9h0m0 1h0m1 1h0m0 0h0m3-16h0m0 7h0m2 9h0m1-11h0m0 11h0m2 1h0m2-16h0m1 9h0m0 7h0m1-17h0m1-1h0m0 2h0m1 0h0m0 4h0m1 8h0m1-12h0m0 14h0m0 1h0m1-13h0m1-4h0m0 15h0m1-4h0m0 4h0m1-15h0m0 9h0m0 5h0m0 1h0m1-16h0m0 3h0m0 6h0m0 9h0m1-3h0m0 2h0m1-17h0m0 0h0m0 2h0m0 0h0m0 6h0m1-7h0m0 1h0m0 9h0m1-11h0m0 9h0m0 1h0m1-9h0m0 0h0m0 2h0m0 6h0m0 7h0m1-15h0m0 4h0m0 1h0m1-4h0m0 4h0m0 2h0m0 6h0m0 0h0m0 0h0m1-13h0m0 10h0m0 4h0m1-10h0m0 6h0m0 4h0m1-14h0m0 11h0m0 2h0m0 1h0m1-13h0m0 11h0m1-11h0m0 0h0m0 1h0m0 9h0m1-5h0m0 2h0m0 2h0m0 3h0m1-11h0m0 3h0m0 7h0m1-3h0m1 2h0m1-5h0m0 3h0m1-6h0m0 0h0m0 1h0m0 6h0m0 0h0m1-6h0m0 0h0" stroke="#297b8e"/>
<path d="M568 684h0m0 1h0m3-3h0m0 1h0m1 0h0m2 2h0m2-4h0m0 10h0m1-8h0m0 7h0m5-8h0m1-1h0m0 9h0m1-1h0m4 0h0m0 1h0m0 2h0m2-13h0m0 4h0m0 7h0m2-11h0m0 0h0m1 6h0m2-7h0m1 6h0m0 7h0m3-13h0m0 1h0m1 2h0m1 5h0m0 5h0m1 1h0m1-11h0m0 3h0m1 0h0m0 8h0m1-6h0m0 4h0m0 2h0m1-15h0m0 1h0m0 14h0m0 0h0m2-8h0m1-9h0m0 4h0m0 13h0m2-10h0m0 7h0m1-10h0m1 10h0m0 2h0m2-9h0m0 3h0m0 5h0m0 1h0m0 0h0m0 0h0m2-17h0m1 1h0m0 5h0m0 1h0m0 4h0m0 1h0m2-11h0m0 1h0m0 1h0m0 13h0m1-15h0m0 3h0m0 10h0m0 2h0m1-7h0m1-7h0m0 1h0m1 0h0m0 4h0m0 3h0m2-8h0m0 1h0m1 3h0m0 7h0m2-9h0m0 1h0m0 0h0m1 0h0m0 5h0m1-2h0" stroke="#26828d"/>
<path d="M567 687h0m3-1h0m2-3h0m1 0h0m2 1h0m1-1h0m1 1h0m0 2h0m1 3h0m1-8h0m0 1h0m0 5h0m0 3h0m0 0h0m1 0h0m2-9h0m0 8h0m1-9h0m2 10h0m1-8h0m0 0h0m1 1h0m0 6h0m1-10h0m0 7h0m1-1h0m2 6h0m5-7h0m0 1h0m0 0h0m2-8h0m0 3h0m1 10h0m0 1h0m1-14h0m0 3h0m0 1h0m0 5h0m1-8h0m0 13h0m1-12h0m0 0h0m0 3h0m0 2h0m3-2h0m0 0h0m0 9h0m1-15h0m0 1h0m0 15h0m1-16h0m0 1h0m0 0h0m0 13h0m1-10h0m1-3h0m0 4h0m2 10h0m1-15h0m0 0h0m0 6h0m0 7h0m0 0h0m2-14h0m0 6h0m0 0h0m2-6h0m0 1h0m0 5h0m0 3h0m1 0h0m0 6h0m1-11h0m1 10h0m1-13h0m0 6h0m1-6h0m0 1h0m0 0h0m0 10h0m1-10h0m0 8h0m1-8h0m0 3h0m0 8h0m1-3h0m1-4h0m0 3h0m1-6h0m1 1h0m0 2h0m0 1h0m1-4h0m0 2h0m0 3h0m0 0h0m1-4h0m0 3h0m0 2h0m1 0h0" stroke="#24898d"/>
<path d="M573 687h0m2-2h0m1-2h0m0 1h0m0 4h0m3-5h0m1 5h0m2-5h0m0 6h0m0 0h0m1-4h0m1-4h0m0 1h0m0 2h0m1-3h0m0 2h0m0 0h0m1-2h0m0 2h0m1 2h0m1-4h0m0 3h0m0 2h0m1 4h0m1-10h0m0 11h0m3-3h0m2-9h0m0 8h0m0 0h0m1-7h0m1 0h0m0 4h0m0 5h0m0 0h0m1-7h0m1-4h0m0 11h0m1-1h0m0 2h0m1 1h0m1-14h0m0 0h0m0 4h0m1-3h0m1 4h0m0 0h0m0 1h0m0 0h0m1-6h0m0 1h0m0 1h0m1-3h0m0 1h0m0 0h0m0 3h0m1-4h0m0 15h0m1-13h0m0 5h0m0 2h0m1-4h0m0 11h0m1-16h0m0 13h0m0 1h0m0 0h0m0 1h0m1-15h0m0 7h0m1-6h0m0 13h0m1-13h0m1-1h0m0 7h0m0 4h0m0 1h0m0 2h0m0 0h0m1-4h0m0 2h0m2-12h0m0 0h0m0 14h0m1-7h0m0 2h0m1 3h0m1-12h0m0 2h0m0 0h0m0 7h0m1-8h0m0 2h0m0 2h0m0 6h0m2-1h0m1-8h0m0 9h0m1-9h0m0 4h0m1-3h0m0 5h0m0 2h0m1-8h0m0 3h0m0 2h0m1-3h0m1 2h0m1 1h0" stroke="#21908c"/>
<path d="M579 684h0m0 0h0m1 1h0m0 0h0m1 0h0m0 1h0m4-4h0m1 3h0m0 4h0m1-5h0m1-3h0m0 2h0m0 7h0m2-4h0m0 3h0m1-8h0m0 9h0m3-11h0m1 0h0m0 0h0m0 3h0m0 1h0m1 4h0m1-9h0m0 11h0m1-9h0m1 3h0m0 0h0m0 4h0m2-9h0m0 6h0m1-3h0m0 10h0m1-8h0m1-1h0m0 0h0m1-4h0m0 1h0m0 5h0m0 3h0m0 3h0m2-12h0m1-2h0m0 3h0m0 3h0m1-6h0m0 15h0m0 0h0m1-11h0m0 2h0m0 2h0m0 6h0m1-12h0m1 3h0m1-3h0m0 3h0m0 0h0m1-5h0m0 0h0m0 1h0m0 3h0m1-4h0m0 12h0m1-11h0m0 2h0m0 3h0m1-2h0m1-3h0m1 11h0m0 0h0m2-11h0m0 1h0m0 2h0m1-1h0m0 1h0m1-2h0m0 2h0m1-1h0m0 1h0m0 5h0m0 1h0m1-4h0m1-3h0m0 2h0m0 0h0m0 3h0m0 1h0m2-3h0" stroke="#21978a"/>
<path d="M582 687h0m2-2h0m2 2h0m3-5h0m1 0h0m1 2h0m2 5h0m2-5h0m0 2h0m1 3h0m1-6h0m0 1h0m0 6h0m2-6h0m0 1h0m1-5h0m0 4h0m1-6h0m0 7h0m0 3h0m1-6h0m0 4h0m0 3h0m1-8h0m0 2h0m1 2h0m0 3h0m2-7h0m1 2h0m0 0h0m0 5h0m1-10h0m0 1h0m0 4h0m0 7h0m1-14h0m1 0h0m0 12h0m0 1h0m1-13h0m0 5h0m0 1h0m0 0h0m0 8h0m1-14h0m0 1h0m0 4h0m1-4h0m0 1h0m0 9h0m0 2h0m1-13h0m1 1h0m0 4h0m0 8h0m1-12h0m0 1h0m0 9h0m0 0h0m0 1h0m0 0h0m1-10h0m0 3h0m0 5h0m1-8h0m0 3h0m0 3h0m0 1h0m0 1h0m1-8h0m2 1h0m0 6h0m1-6h0m0 0h0m0 0h0m0 1h0m1-1h0m1 1h0m0 1h0m0 3h0m0 0h0m1-3h0m1 1h0" stroke="#229e88"/>
<path d="M587 684h0m1 1h0m1-1h0m0 4h0m1-5h0m0 1h0m0 0h0m0 0h0m0 4h0m2-2h0m0 1h0m0 0h0m0 1h0m2-4h0m2 1h0m1-5h0m0 4h0m0 4h0m1-9h0m0 2h0m1 4h0m0 2h0m0 1h0m1-7h0m0 1h0m1-3h0m0 7h0m2-4h0m1-4h0m0 1h0m0 9h0m1-4h0m0 4h0m0 2h0m2-12h0m0 0h0m0 1h0m0 7h0m0 0h0m0 4h0m1-12h0m0 0h0m0 2h0m0 9h0m1-12h0m0 1h0m0 0h0m0 1h0m0 8h0m0 2h0m1-12h0m1 0h0m0 0h0m0 10h0m1-6h0m0 1h0m0 7h0m1 0h0m1-12h0m0 0h0m0 2h0m0 6h0m0 3h0m2-8h0m0 0h0m0 7h0m1-8h0m0 1h0m0 3h0m1-5h0m0 1h0m0 4h0m0 1h0m2-5h0m0 7h0m1-7h0m0 4h0m1-3h0m0 3h0m0 1h0m0 1h0m0 0h0m1-2h0m0 1h0" stroke="#22a585"/>
<path d="M591 686h0m1-2h0m1-1h0m0 3h0m1-3h0m0 1h0m0 1h0m1 1h0m1-4h0m0 2h0m1-3h0m0 4h0m0 3h0m1-8h0m0 4h0m1-1h0m1-3h0m0 3h0m0 0h0m0 3h0m1 1h0m1-8h0m0 0h0m0 3h0m0 2h0m0 2h0m1-7h0m0 4h0m1-4h0m1 1h0m0 0h0m0 2h0m0 1h0m0 2h0m0 4h0m1-11h0m0 10h0m1-10h0m0 0h0m0 8h0m0 3h0m1-11h0m0 3h0m1-2h0m0 2h0m0 8h0m1-12h0m0 3h0m0 5h0m0 0h0m1-8h0m0 10h0m0 2h0m0 0h0m1 0h0m2-7h0m0 3h0m0 0h0m0 2h0m1-9h0m0 2h0m1-2h0m0 1h0m0 7h0m2-6h0m0 2h0m0 4h0m1-1h0m0 1h0m1-3h0m1-3h0m0 1h0m0 3h0m1-3h0m0 1h0m0 2h0" stroke="#2eae7d"/>
<path d="M594 684h0m0 1h0m1-2h0m2 0h0m1 1h0m0 0h0m0 2h0m0 1h0m1-5h0m0 2h0m1-3h0m1 1h0m0 6h0m1-8h0m0 1h0m0 2h0m1-1h0m0 6h0m2 0h0m1-8h0m0 0h0m0 1h0m0 3h0m1 1h0m0 1h0m1-8h0m0 4h0m0 1h0m0 4h0m1-7h0m0 7h0m1-9h0m1 1h0m1-1h0m0 2h0m0 1h0m0 1h0m1-3h0m0 0h0m1-1h0m0 0h0m0 2h0m0 3h0m0 3h0m1-5h0m0 2h0m0 2h0m0 1h0m1-2h0m1 0h0m0 3h0m1-6h0m0 1h0m0 2h0m0 0h0m0 1h0m1-5h0m0 2h0m0 0h0m0 2h0m1-3h0m0 1h0m0 1h0" stroke="#46b96f"/>
<path d="M597 683h0m0 2h0m1-3h0m0 2h0m0 0h0m1-1h0m0 1h0m0 2h0m1-1h0m1-4h0m0 1h0m0 0h0m0 4h0m1-5h0m0 3h0m0 3h0m1-6h0m1 1h0m0 1h0m0 1h0m1-4h0m0 0h0m0 3h0m0 4h0m1-8h0m0 6h0m1-5h0m0 1h0m0 3h0m0 4h0m1-2h0m1-7h0m0 2h0m0 0h0m1-1h0m0 3h0m0 5h0m1-10h0m0 2h0m0 2h0m1-2h0m2 0h0m0 5h0m1-3h0m1-2h0m0 2h0m0 0h0m0 3h0m1 0h0m1-3h0m0 0h0m0 0h0m0 1h0m0 0h0m1 0h0" stroke="#5ec461"/>
<path d="M599 684h0m1-1h0m1 1h0m0 0h0m0 2h0m1-4h0m0 0h0m1 1h0m0 1h0m1-2h0m0 0h0m0 0h0m1 1h0m1 3h0m1-4h0m0 5h0m1-7h0m0 5h0m0 3h0m2-9h0m0 6h0m1-6h0m0 4h0m1-3h0m0 1h0m0 4h0m0 1h0m0 1h0m1-8h0m1 1h0m1 1h0m1 1h0m0 1h0" stroke="#77cf53"/>
<path d="M604 682h0m0 2h0m0 0h0m0 1h0m1-2h0m0 0h0m0 0h0m0 1h0m0 1h0m1-3h0m0 0h0m0 1h0m0 0h0m0 0h0m1 3h0m4-5h0m0 2h0m1-3h0m0 1h0m0 1h0m1 0h0m1 1h0m0 1h0m1-2h0m0 1h0" stroke="#9cd746"/>
<path d="M606 683h0m1 0h0m1 0h0m0 0h0m0 1h0m1-2h0m1-1h0m0 0h0m0 0h0m0 1h0m0 0h0m0 2h0m0 1h0m1-5h0m1 0h0m0 1h0m0 0h0m0 1h0m0 0h0m1 0h0m0 2h0" stroke="#c3dd39"/>
<path d="M610 681h0m0 1h0m0 0h0m0 0h0m0 2h0m1-3h0" stroke="#eae42c"/>
</g>
<line x1="65.8" y1="316.7" x2="65.8" y2="595.8" stroke="#666666" stroke-width="1.2"/>
<line x1="65.2" y1="595.8" x2="346.0" y2="595.8" stroke="#666666" stroke-width="1.2"/>
<line x1="60.6" y1="325.6" x2="65.8" y2="325.6" stroke="#666666" stroke-width="1.2"/>
<text x="54.6" y="329.9" text-anchor="end" font-size="13.3" textLength="28.2" lengthAdjust="spacingAndGlyphs">20.0</text>
<line x1="60.6" y1="360.0" x2="65.8" y2="360.0" stroke="#666666" stroke-width="1.2"/>
<text x="54.6" y="364.3" text-anchor="end" font-size="13.3" textLength="24.6" lengthAdjust="spacingAndGlyphs">17.5</text>
<line x1="60.6" y1="394.4" x2="65.8" y2="394.4" stroke="#666666" stroke-width="1.2"/>
<text x="54.6" y="398.7" text-anchor="end" font-size="13.3" textLength="24.6" lengthAdjust="spacingAndGlyphs">15.0</text>
<line x1="60.6" y1="428.8" x2="65.8" y2="428.8" stroke="#666666" stroke-width="1.2"/>
<text x="54.6" y="433.1" text-anchor="end" font-size="13.3" textLength="24.6" lengthAdjust="spacingAndGlyphs">12.5</text>
<line x1="60.6" y1="463.2" x2="65.8" y2="463.2" stroke="#666666" stroke-width="1.2"/>
<text x="54.6" y="467.5" text-anchor="end" font-size="13.3" textLength="24.6" lengthAdjust="spacingAndGlyphs">10.0</text>
<line x1="60.6" y1="497.6" x2="65.8" y2="497.6" stroke="#666666" stroke-width="1.2"/>
<text x="54.6" y="501.9" text-anchor="end" font-size="13.3" textLength="20.3" lengthAdjust="spacingAndGlyphs">7.5</text>
<line x1="60.6" y1="532.0" x2="65.8" y2="532.0" stroke="#666666" stroke-width="1.2"/>
<text x="54.6" y="536.3" text-anchor="end" font-size="13.3" textLength="20.3" lengthAdjust="spacingAndGlyphs">5.0</text>
<line x1="60.6" y1="566.4" x2="65.8" y2="566.4" stroke="#666666" stroke-width="1.2"/>
<text x="54.6" y="570.7" text-anchor="end" font-size="13.3" textLength="20.3" lengthAdjust="spacingAndGlyphs">2.5</text>
<line x1="117.8" y1="595.8" x2="117.8" y2="600.8" stroke="#666666" stroke-width="1.2"/>
<text x="117.8" y="616.8" text-anchor="middle" font-size="13.3" textLength="8.8" lengthAdjust="spacingAndGlyphs">5</text>
<line x1="185.8" y1="595.8" x2="185.8" y2="600.8" stroke="#666666" stroke-width="1.2"/>
<text x="185.8" y="616.8" text-anchor="middle" font-size="13.3" textLength="13.1" lengthAdjust="spacingAndGlyphs">10</text>
<line x1="253.8" y1="595.8" x2="253.8" y2="600.8" stroke="#666666" stroke-width="1.2"/>
<text x="253.8" y="616.8" text-anchor="middle" font-size="13.3" textLength="13.1" lengthAdjust="spacingAndGlyphs">15</text>
<line x1="321.8" y1="595.8" x2="321.8" y2="600.8" stroke="#666666" stroke-width="1.2"/>
<text x="321.8" y="616.8" text-anchor="middle" font-size="13.3" textLength="16.7" lengthAdjust="spacingAndGlyphs">20</text>
<text x="206.6" y="639.4" text-anchor="middle" font-size="15.3" textLength="143.1" lengthAdjust="spacingAndGlyphs">Retention time (min)</text>
<text x="14.8" y="456.3" text-anchor="middle" font-size="15.3" textLength="213.1" lengthAdjust="spacingAndGlyphs" transform="rotate(-90 14.8 456.3)">Predicted retention time (min)</text>
<text x="71.5" y="334" font-size="15" fill="#2e2e2e"><tspan font-style="italic">R</tspan><tspan dy="-6" font-size="10">2</tspan><tspan dy="6"> = 0.68</tspan></text>
<text x="343.9" y="580.7" text-anchor="end" font-size="15.3" textLength="165.5" lengthAdjust="spacingAndGlyphs">Before transfer learning</text>
<text x="369.0" y="303.2" fill="#1a1a1a" font-weight="bold" font-size="22.2" stroke="#1a1a1a" stroke-width="0.35">d</text>
<line x1="438.9" y1="319.5" x2="438.9" y2="595.8" stroke="#666666" stroke-width="1.2"/>
<line x1="716.7" y1="319.5" x2="716.7" y2="595.8" stroke="#666666" stroke-width="1.2"/>
<line x1="438.3" y1="595.8" x2="717.3" y2="595.8" stroke="#666666" stroke-width="1.2"/>
<text x="428.0" y="324.3" text-anchor="end" font-size="13.3" textLength="36.1" lengthAdjust="spacingAndGlyphs">0.200</text>
<line x1="433.7" y1="356.3" x2="438.9" y2="356.3" stroke="#666666" stroke-width="1.2"/>
<text x="428.0" y="360.6" text-anchor="end" font-size="13.3" textLength="34.2" lengthAdjust="spacingAndGlyphs">0.175</text>
<line x1="433.7" y1="392.6" x2="438.9" y2="392.6" stroke="#666666" stroke-width="1.2"/>
<text x="428.0" y="396.9" text-anchor="end" font-size="13.3" textLength="34.2" lengthAdjust="spacingAndGlyphs">0.150</text>
<line x1="433.7" y1="428.9" x2="438.9" y2="428.9" stroke="#666666" stroke-width="1.2"/>
<text x="428.0" y="433.2" text-anchor="end" font-size="13.3" textLength="34.2" lengthAdjust="spacingAndGlyphs">0.125</text>
<line x1="433.7" y1="465.2" x2="438.9" y2="465.2" stroke="#666666" stroke-width="1.2"/>
<text x="428.0" y="469.5" text-anchor="end" font-size="13.3" textLength="34.2" lengthAdjust="spacingAndGlyphs">0.100</text>
<line x1="433.7" y1="501.5" x2="438.9" y2="501.5" stroke="#666666" stroke-width="1.2"/>
<text x="428.0" y="505.8" text-anchor="end" font-size="13.3" textLength="36.1" lengthAdjust="spacingAndGlyphs">0.075</text>
<line x1="433.7" y1="537.8" x2="438.9" y2="537.8" stroke="#666666" stroke-width="1.2"/>
<text x="428.0" y="542.1" text-anchor="end" font-size="13.3" textLength="36.1" lengthAdjust="spacingAndGlyphs">0.050</text>
<line x1="433.7" y1="574.1" x2="438.9" y2="574.1" stroke="#666666" stroke-width="1.2"/>
<text x="428.0" y="578.4" text-anchor="end" font-size="13.3" textLength="36.1" lengthAdjust="spacingAndGlyphs">0.025</text>
<text x="728.5" y="324.2" font-size="13.3" textLength="24.6" lengthAdjust="spacingAndGlyphs">1.00</text>
<line x1="716.7" y1="352.3" x2="722.0" y2="352.3" stroke="#666666" stroke-width="1.2"/>
<text x="728.5" y="356.6" font-size="13.3" textLength="28.2" lengthAdjust="spacingAndGlyphs">0.98</text>
<line x1="716.7" y1="384.7" x2="722.0" y2="384.7" stroke="#666666" stroke-width="1.2"/>
<text x="728.5" y="389.0" font-size="13.3" textLength="28.2" lengthAdjust="spacingAndGlyphs">0.96</text>
<line x1="716.7" y1="417.0" x2="722.0" y2="417.0" stroke="#666666" stroke-width="1.2"/>
<text x="728.5" y="421.3" font-size="13.3" textLength="28.2" lengthAdjust="spacingAndGlyphs">0.94</text>
<line x1="716.7" y1="449.3" x2="722.0" y2="449.3" stroke="#666666" stroke-width="1.2"/>
<text x="728.5" y="453.6" font-size="13.3" textLength="28.2" lengthAdjust="spacingAndGlyphs">0.92</text>
<line x1="716.7" y1="481.7" x2="722.0" y2="481.7" stroke="#666666" stroke-width="1.2"/>
<text x="728.5" y="486.0" font-size="13.3" textLength="28.2" lengthAdjust="spacingAndGlyphs">0.90</text>
<line x1="716.7" y1="514.0" x2="722.0" y2="514.0" stroke="#666666" stroke-width="1.2"/>
<text x="728.5" y="518.3" font-size="13.3" textLength="28.2" lengthAdjust="spacingAndGlyphs">0.88</text>
<line x1="716.7" y1="546.4" x2="722.0" y2="546.4" stroke="#666666" stroke-width="1.2"/>
<text x="728.5" y="550.7" font-size="13.3" textLength="28.2" lengthAdjust="spacingAndGlyphs">0.86</text>
<line x1="716.7" y1="578.8" x2="722.0" y2="578.8" stroke="#666666" stroke-width="1.2"/>
<text x="728.5" y="583.0" font-size="13.3" textLength="28.2" lengthAdjust="spacingAndGlyphs">0.84</text>
<line x1="451.3" y1="595.8" x2="451.3" y2="600.8" stroke="#666666" stroke-width="1.2"/>
<text x="451.3" y="616.8" text-anchor="middle" font-size="13.3" textLength="8.8" lengthAdjust="spacingAndGlyphs">0</text>
<line x1="538.5" y1="595.8" x2="538.5" y2="600.8" stroke="#666666" stroke-width="1.2"/>
<text x="538.5" y="616.8" text-anchor="middle" font-size="13.3" textLength="13.1" lengthAdjust="spacingAndGlyphs">10</text>
<line x1="625.7" y1="595.8" x2="625.7" y2="600.8" stroke="#666666" stroke-width="1.2"/>
<text x="625.7" y="616.8" text-anchor="middle" font-size="13.3" textLength="16.7" lengthAdjust="spacingAndGlyphs">20</text>
<line x1="712.9" y1="595.8" x2="712.9" y2="600.8" stroke="#666666" stroke-width="1.2"/>
<text x="712.9" y="616.8" text-anchor="middle" font-size="13.3" textLength="16.7" lengthAdjust="spacingAndGlyphs">30</text>
<line x1="446.0" y1="319.6" x2="450.6" y2="319.6" stroke="#666666" stroke-width="1.0"/>
<line x1="728.8" y1="319.6" x2="733.7" y2="319.6" stroke="#666666" stroke-width="1.0"/>
<text x="577.7" y="639.4" text-anchor="middle" font-size="15.3" textLength="44.1" lengthAdjust="spacingAndGlyphs">Epoch</text>
<text x="382.3" y="457.5" text-anchor="middle" font-size="15.3" textLength="30.1" lengthAdjust="spacingAndGlyphs" transform="rotate(-90 382.3 457.5)">Loss</text>
<text x="769.2" y="461.3" font-size="15" fill="#2e2e2e" text-anchor="middle" transform="rotate(90 769.2 461.3)"><tspan font-style="italic">R</tspan><tspan dy="-6" font-size="10">2</tspan></text>
<polyline points="451.3,372.4 460.0,397.0 468.7,401.6 477.5,412.9 486.2,428.9 494.9,455.8 503.6,483.9 512.3,526.9 521.1,545.6 529.8,554.2 538.5,558.7 547.2,561.0 555.9,562.8 564.7,564.2 573.4,565.4 582.1,567.6 590.8,568.6 599.5,569.3 608.3,569.9 617.0,570.5 625.7,570.9 634.4,571.5 643.1,571.9 651.9,572.4 660.6,572.6 669.3,573.1 678.0,573.8 686.7,574.4 695.5,575.0 704.2,575.7" fill="none" stroke="#17737c" stroke-width="1.7" stroke-linejoin="round"/>
<polyline points="451.3,386.8 460.0,385.3 468.7,392.6 477.5,409.0 486.2,431.5 494.9,459.5 503.6,512.0 512.3,541.1 521.1,553.0 529.8,558.1 538.5,561.0 547.2,563.2 555.9,564.7 564.7,566.1 573.4,567.6 582.1,569.7 590.8,570.5 599.5,571.2 608.3,571.8 617.0,572.2 625.7,572.6 634.4,573.1 643.1,573.5 651.9,573.8 660.6,574.1 669.3,574.4 678.0,574.7 686.7,575.1 695.5,575.7 704.2,576.3" fill="none" stroke="#17737c" stroke-width="1.7" stroke-dasharray="5 2.6"/>
<polyline points="460.0,574.2 468.7,556.1 477.5,531.8 486.2,504.3 494.9,467.1 503.6,413.8 512.3,386.3 521.1,374.9 529.8,371.7 538.5,368.5 547.2,366.5 555.9,365.2 564.7,364.4 573.4,363.6 582.1,362.0 590.8,361.5 599.5,360.9 608.3,360.4 617.0,360.1 625.7,359.6 634.4,359.1 643.1,358.8 651.9,358.4 660.6,358.0 669.3,357.6 678.0,357.5 686.7,357.2 695.5,356.8 704.2,356.3" fill="none" stroke="#ee6a3e" stroke-width="1.7" stroke-linejoin="round"/>
<line x1="451.1" y1="326.6" x2="480.8" y2="326.6" stroke="#17737c" stroke-width="1.8"/>
<line x1="451.1" y1="346.7" x2="480.8" y2="346.7" stroke="#17737c" stroke-width="1.8" stroke-dasharray="5 2.6"/>
<text x="487.5" y="331.3" font-size="15.3" textLength="66.9" lengthAdjust="spacingAndGlyphs">Train loss</text>
<text x="487.5" y="351.5" font-size="15.3" textLength="61.2" lengthAdjust="spacingAndGlyphs">Test loss</text>
<line x1="645.0" y1="339.1" x2="674.7" y2="339.1" stroke="#ee6a3e" stroke-width="1.8"/>
<text x="685.5" y="342.4" font-size="15" fill="#2e2e2e"><tspan font-style="italic">R</tspan><tspan dy="-6" font-size="10">2</tspan></text>
<text x="805.0" y="303.2" fill="#1a1a1a" font-weight="bold" font-size="22.2" stroke="#1a1a1a" stroke-width="0.35">e</text>
<g transform="scale(.5)" stroke-linecap="round" stroke-width="5.7">
<path d="M1771 1171h0m4-8h0m2-73h0m5-19h0m1 7h0m0 92h0m2-10h0m1 5h0m1-83h0m1 68h0m1 12h0m3-10h0m1-100h0m1 97h0m0 13h0m1-101h0m1 83h0m2-73h0m0 85h0m3-9h0m1-114h0m0 117h0m1-93h0m0 8h0m1 3h0m0 68h0m0 2h0m0 0h0m1-90h0m1 12h0m1-1h0m0 3h0m1 74h0m0 24h0m1-26h0m0 3h0m2-96h0m2 12h0m0 6h0m0 78h0m0 6h0m1-108h0m0 21h0m0 76h0m1-1h0m1-93h0m1 16h0m0 91h0m1-118h0m0 20h0m0 96h0m1-101h0m0 5h0m0 78h0m3-88h0m1 86h0m0 21h0m2-108h0m0 84h0m2-89h0m1 10h0m0 81h0m1-7h0m1-81h0m0 77h0m0 8h0m1-370h0m2 285h0m2 1h0m0 2h0m0 69h0m0 38h0m2-35h0m2 19h0m2-24h0m1 26h0m2-25h0m1-75h0m1-13h0m1 79h0m2-1h0m1-95h0m1-7h0m0 12h0m1 93h0m2-127h0m0 35h0m1 0h0m0 12h0m2-4h0m1 68h0m0 5h0m1-6h0m2-78h0m0 12h0m0 68h0m1 5h0m1-82h0m1 5h0m0 1h0m2 64h0m0 0h0m0 12h0m1-7h0m2-79h0m0 83h0m1-94h0m0 85h0m2-74h0m0 64h0m0 5h0m1-91h0m1 22h0m0 62h0m0 1h0m1-75h0m0 7h0m1 87h0m1-5h0m0 5h0m3 29h0m1-130h0m0 4h0m2 152h0m1-75h0m0 5h0m1-80h0m1 72h0m0 1h0m1-73h0m0 2h0m1 62h0m1-74h0m1-22h0m0 20h0m0 4h0m1-16h0m0 105h0m1-94h0m0 11h0m0 64h0m0 22h0m2-16h0m1-86h0m0 1h0m0 3h0m0 73h0m0 10h0m1-110h0m0 8h0m2 16h0m0 80h0m1-76h0m1-19h0m0 21h0m2 61h0m0 26h0m1-122h0m0 27h0m0 4h0m1 63h0m0 29h0m1-11h0m1 3h0m1-103h0m0 103h0m1-104h0m0 14h0m1-10h0m1 11h0m0 73h0m0 12h0m2-93h0m0 4h0m1-12h0m0 77h0m0 3h0m2-6h0m0 2h0m1-75h0m0 68h0m2-307h0m0 334h0m1-119h0m0 24h0m2-7h0m0 6h0m1 67h0m1-77h0m0 12h0m1-10h0m0 71h0m1-73h0m1 9h0m1 79h0m1-89h0m1-52h0m0 119h0m1-79h0m3 1h0m1 89h0m1-16h0m1-1h0m3-66h0m0 1h0m0 70h0m2-82h0m0 81h0m0 71h0m2-140h0m2-28h0m0 87h0m1-108h0m0 107h0m1-64h0m0 63h0m0 56h0m1-149h0m1 1h0m0 28h0m1-6h0m0 75h0m1-83h0m0 9h0m1-13h0m1 14h0m1 61h0m2-72h0m0 9h0m1-28h0m0 21h0m0 2h0m0 68h0m1-6h0m1-60h0m1 64h0m1-73h0m1 3h0m0 62h0m0 5h0m0 7h0m3-112h0m0 36h0m1 1h0m0 63h0m1-234h0m0 227h0m1-66h0m0 5h0m2 65h0m1-67h0m0 60h0m3 0h0m0 4h0m0 15h0m2-21h0m2-64h0m0 94h0m1-22h0m2-99h0m0 99h0m0 1h0m0 2h0m1-15h0m1-71h0m0 75h0m2-5h0m1-78h0m0 2h0m1-5h0m0 15h0m0 81h0m3-19h0m1-83h0m0 117h0m1-121h0m0 83h0m0 13h0m1 21h0m2-120h0m0 78h0m0 2h0m0 24h0m1-86h0m0 104h0m1-108h0m2-23h0m0 21h0m1-38h0m0 121h0m1-87h0m0 64h0m0 26h0m1-102h0m1-11h0m0 21h0m0 3h0m1-15h0m0 75h0m0 13h0m1-75h0m3 0h0m1-16h0m0 5h0m0 0h0m0 80h0m1-78h0m0 6h0m0 67h0m3-72h0m0 62h0m1-62h0m0 0h0m0 101h0m1-102h0m1-25h0m3 13h0m0 8h0m1 2h0m1 65h0m2-78h0m1-18h0m0 18h0m0 81h0m1-81h0m0 104h0m1-100h0m0 62h0m1 4h0m1-79h0m1 8h0m2-9h0m0 12h0m1 70h0m0 24h0m1-98h0m1-25h0m0 116h0m1-2h0m1-115h0m0 83h0m0 9h0m1-8h0m1-79h0m0 76h0m0 8h0m0 13h0m0 5h0m0 2h0m2-29h0m0 31h0m1-99h0m1-7h0m0 77h0m0 38h0m1-27h0m1-82h0m1-2h0m2-31h0m0 5h0m0 30h0m1 65h0m1-115h0m0 33h0m0 7h0m0 8h0m0 1h0m0 63h0m1-72h0m1 66h0m0 13h0m1-14h0m0 45h0m1-105h0m0 67h0m1-8h0m2-64h0m0 1h0m0 60h0m1-62h0m0 107h0m1-106h0m1-5h0m0 67h0m0 4h0m1-121h0m0 35h0m0 5h0m0 81h0m0 9h0m0 10h0m1-28h0m1 23h0m1-99h0m0 13h0m0 1h0m1-21h0m1 13h0m0 5h0m1 65h0m0 16h0m1 13h0m1-107h0m0 113h0m1-108h0m0 67h0m2-100h0m0 97h0m0 3h0m1 5h0m1-10h0m2 14h0m1-13h0m1 5h0m0 5h0m1-95h0m0 9h0m0 87h0m2-97h0m0 17h0m0 71h0m1-11h0m1 5h0m0 146h0m2-136h0m2-138h0m2 54h0m1 69h0m0 5h0m1-15h0m0 8h0m0 9h0m1-16h0m1-73h0m0 77h0m0 15h0m1-100h0m1 9h0m0 79h0m1-105h0m0 92h0m1-62h0m0 85h0m1-111h0m2 22h0m1 64h0m0 4h0m1-70h0m0 2h0m0 62h0m0 7h0m1-84h0m1 12h0m0 61h0m0 7h0m1-72h0m0 1h0m0 64h0m2 0h0m1-66h0m0 63h0m0 11h0m1-8h0m1-81h0m0 76h0m0 5h0m0 113h0m1-91h0m1-107h0m0 2h0m0 11h0m0 78h0m1-87h0m0 76h0m1-84h0m0 16h0m0 73h0m1-71h0m1 60h0m1 0h0m1-2h0m0 6h0m1-72h0m1 65h0m0 19h0m3-131h0m0 109h0m0 14h0m2-108h0m0 12h0m0 78h0m0 6h0m0 12h0m1-16h0m1-70h0m0 76h0m1-70h0m1-4h0m0 65h0m0 3h0m0 17h0m1-94h0m1 9h0m0 62h0m0 10h0m1 1h0m2 14h0m1-115h0m0 4h0m0 17h0m0 65h0m0 6h0m1-71h0m0 82h0m1-98h0m0 86h0m2 10h0m1-12h0m0 6h0m3-83h0m0 1h0m0 1h0m1 105h0m1-28h0m0 23h0m2-117h0m1 8h0m3 75h0m0 1h0m0 3h0m1-9h0m0 16h0m1-14h0m1-8h0m0 4h0m1-75h0m0 73h0m0 1h0m1-75h0m1 71h0m1-73h0m1-6h0m3 75h0m2 2h0m1-74h0m1-9h0m1 101h0m1-20h0m1-3h0m0 2h0m1-98h0m0 10h0m0 3h0m0 8h0m0 75h0m1 6h0m1-3h0m1-4h0m2-84h0m1-17h0m1 19h0m0 73h0m1-74h0m1-13h0m0 90h0m0 4h0m1 34h0m1-117h0m0 78h0m1 3h0m1-8h0m1 30h0m1-113h0m0 98h0m3-104h0m1 83h0m0 40h0m1-129h0m0 91h0m1-80h0m2 89h0m1-3h0m1-101h0m1 2h0m0 90h0m0 0h0m1-95h0m0 88h0m1-3h0m1-84h0m0 8h0m0 87h0m2-89h0m0 121h0m1-31h0m3 79h0m1-178h0m1 85h0m1-94h0m0 105h0m1-95h0m5-10h0m2-1h0m0 3h0m2-4h0m0 88h0m2-91h0m0 81h0m1-80h0m11 66h0m0 9h0m5 3h0" stroke="#450659"/>
<path d="M1762 1167h0m8-58h0m0 53h0m2-56h0m7-8h0m4 51h0m7-4h0m1-63h0m0 59h0m1 0h0m2 2h0m3-67h0m2 63h0m1-4h0m0 2h0m5-4h0m4-7h0m3-62h0m0 59h0m5-64h0m4 57h0m7-70h0m5-3h0m3-2h0m0 60h0m2-65h0m1 1h0m0 62h0m2-3h0m2-3h0m3-64h0m0 2h0m1-3h0m0 1h0m4-2h0m1 57h0m1-61h0m1 57h0m1 0h0m1-1h0m4-62h0m2-1h0m2-3h0m1 2h0m2 50h0m6-60h0m0 54h0m0 3h0m3-57h0m0 1h0m3-4h0m4-2h0m1 50h0m1-53h0m0 54h0m1-4h0m0 2h0m3-55h0m0 50h0m2 0h0m2-56h0m1 49h0m0 1h0m8-56h0m1 47h0m2-53h0m0 52h0m2-52h0m1 1h0m2 46h0m4-4h0m0 0h0m1-50h0m2 45h0m0 6h0m2-55h0m0 51h0m0 0h0m2-54h0m0 1h0m1-5h0m0 4h0m0 49h0m0 4h0m1-4h0m2-52h0m0 52h0m2-54h0m0 49h0m3-54h0m0 3h0m1 48h0m0 2h0m3-56h0m2 47h0m0 1h0m1-49h0m1 49h0m1-54h0m0 53h0m1-2h0m1-48h0m0 49h0m1-53h0m0 50h0m2-53h0m0 50h0m1-51h0m0 52h0m1 1h0m1-51h0m1 50h0m1-6h0m0 4h0m7-59h0m2-1h0m2 44h0m2-51h0m0 54h0m2-57h0m1 3h0m3-7h0m0 3h0m0 48h0m1-49h0m0 1h0m0 51h0m1-4h0m1-50h0m0 48h0m2-52h0m0 2h0m0 1h0m3 49h0m2-53h0m2 47h0m1-49h0m1-5h0m5-5h0m0 3h0m0 0h0m0 47h0m2-53h0m0 53h0m2-53h0m1 0h0m2 45h0m1-50h0m0 54h0m1-4h0m4-52h0m0 1h0m0 47h0m1 1h0m1-3h0m0 2h0m1 0h0m1-2h0m0 1h0m2-7h0m2-49h0m1 51h0m1-53h0m1 48h0m1-48h0m0 51h0m1-5h0m0 3h0m1-52h0m0 1h0m1-1h0m1-4h0m0 0h0m0 51h0m3-52h0m0 50h0m0 1h0m5-56h0m3-6h0m1-1h0m0 52h0m1 2h0m2-53h0m0 47h0m1-50h0m0 51h0m0 3h0m1-57h0m0 3h0m1-2h0m1 0h0m1 47h0m2-1h0m1-2h0m1-49h0m2 0h0m1 45h0m1 1h0m2-3h0m0 1h0m1-52h0m1 49h0m0 4h0m1-56h0m0 1h0m0 0h0m0 1h0m0 51h0m1-51h0m1-1h0m0 47h0m0 4h0m2-57h0m0 5h0m0 51h0m1-57h0m0 4h0m0 49h0m4-5h0m0 5h0m1-55h0m0 2h0m1 48h0m1-50h0m0 0h0m0 47h0m1-47h0m0 50h0m1-5h0m1-50h0m1-2h0m0 0h0m0 52h0m1-49h0m0 48h0m1-50h0m0 46h0m0 5h0m3-8h0m1 5h0m1-5h0m1-53h0m2-1h0m0 2h0m1 47h0m4-51h0m0 48h0m1-52h0m0 1h0m1 0h0m0 51h0m2-55h0m1 3h0m0 48h0m1-50h0m1 48h0m2 0h0m1-1h0m5-59h0m4 50h0m1-4h0m0 2h0m2 0h0m4-57h0m4-4h0m0 1h0m1 0h0m0 47h0m0 3h0m2-5h0m0 4h0m2-3h0m2-2h0m1-52h0m0 52h0m0 1h0m1-3h0m1-52h0m0 51h0m1-2h0m2-53h0m0 1h0m1-1h0m2-5h0m0 3h0m0 51h0m2-52h0m0 49h0m3-53h0m1 49h0m1-55h0m0 5h0m0 52h0m3-56h0m0 54h0m2-59h0m4-2h0m0 54h0m2-59h0m0 4h0m0 54h0m3-58h0m2 51h0m3 2h0m2-3h0m1 0h0m7-8h0m3-2h0m0 1h0m3-6h0m1 0h0m4-66h0m0 63h0m1 1h0m2-67h0m1 64h0m1-1h0m2-67h0m2 65h0m13-14h0m7-5h0m5-6h0m4-72h0m1-2h0m2 68h0m6-3h0m4-76h0m4 65h0m6-6h0m11-17h0" stroke="#460f62"/>
<path d="M1768 1158h0m4-47h0m0 43h0m1 2h0m2-1h0m6-54h0m1-1h0m0 46h0m1-47h0m1 0h0m2-3h0m1 48h0m7-6h0m1-1h0m1-53h0m1 49h0m1 0h0m2-1h0m2 0h0m2-57h0m3 49h0m1 1h0m1-54h0m5-5h0m1-4h0m3 52h0m1-55h0m5 51h0m3-6h0m1-53h0m2 53h0m1-1h0m4-7h0m2 1h0m1-3h0m0 2h0m3-4h0m1-55h0m3 0h0m2 47h0m2-51h0m0 0h0m0 47h0m5-3h0m2-1h0m3-52h0m2 44h0m0 1h0m0 1h0m5-53h0m4-4h0m1 0h0m0 45h0m2-1h0m1-4h0m0 2h0m1-45h0m0 43h0m1-42h0m1 42h0m3-4h0m2-45h0m1-3h0m0 45h0m4-46h0m0 41h0m4-5h0m3-43h0m1 39h0m0 2h0m0 1h0m3-47h0m0 42h0m0 2h0m1-45h0m1 1h0m1-2h0m0 1h0m0 39h0m0 3h0m2-2h0m0 0h0m2-2h0m1-2h0m1-2h0m2-41h0m0 42h0m2-46h0m0 1h0m1 39h0m2-2h0m1-40h0m1-4h0m1 40h0m1-42h0m1 0h0m0 1h0m0 42h0m2-45h0m3 39h0m1-41h0m1-1h0m1 40h0m2-2h0m0 0h0m2-42h0m1 39h0m2-4h0m0 1h0m1-43h0m0 1h0m1 0h0m1 39h0m4-43h0m0 39h0m0 1h0m6-48h0m1 43h0m1-43h0m0 38h0m0 2h0m1 0h0m1-4h0m1 1h0m1-41h0m2-3h0m0 39h0m2-43h0m0 3h0m0 1h0m1 37h0m1-41h0m1 42h0m1-43h0m1-1h0m1-2h0m0 1h0m0 38h0m0 3h0m2-4h0m4-5h0m0 3h0m4-46h0m0 40h0m1-40h0m4 37h0m2-3h0m1 1h0m3-47h0m1 42h0m3-46h0m0 44h0m2-43h0m1-1h0m0 0h0m0 41h0m1-45h0m0 0h0m1 1h0m0 1h0m1-2h0m6 35h0m3-42h0m1 38h0m3-2h0m1-1h0m0 1h0m1-46h0m0 1h0m0 40h0m1 1h0m1-43h0m0 42h0m2-43h0m1 40h0m1-40h0m0 41h0m1-3h0m1-40h0m0 40h0m1-3h0m0 1h0m3-41h0m1 36h0m1-38h0m1-3h0m0 1h0m1-1h0m0 0h0m0 39h0m1-40h0m2 38h0m0 2h0m1-4h0m1 1h0m2-3h0m1-44h0m0 3h0m0 42h0m3-6h0m1-42h0m0 1h0m0 0h0m0 42h0m5-48h0m0 2h0m4 36h0m0 0h0m4-43h0m2-2h0m0 39h0m2-42h0m0 40h0m2-1h0m1-2h0m1 0h0m0 2h0m1-4h0m1-43h0m0 44h0m1-3h0m2-42h0m0 43h0m2-5h0m1-41h0m2-3h0m0 0h0m0 2h0m0 41h0m2-42h0m3-6h0m3 38h0m0 1h0m1-42h0m1-2h0m0 41h0m0 1h0m2-2h0m0 0h0m1-42h0m1 42h0m2-44h0m4 38h0m0 0h0m0 0h0m1-43h0m3 36h0m1 0h0m1-1h0m1-40h0m0 41h0m2-4h0m1-43h0m0 3h0m1 37h0m1 1h0m1-43h0m0 0h0m0 1h0m0 39h0m3 0h0m2-4h0m1-39h0m0 39h0m1-44h0m0 4h0m0 40h0m2-43h0m0 1h0m0 39h0m4-4h0m5-47h0m0 2h0m0 42h0m3-46h0m2 40h0m0 2h0m4-49h0m0 3h0m0 41h0m1-1h0m2-3h0m2-46h0m1 44h0m2-1h0m2-44h0m3 38h0m0 0h0m1-44h0m0 44h0m1-2h0m1-45h0m1 0h0m1 43h0m1-46h0m0 45h0m1-46h0m4 44h0m1-1h0m5-55h0m1-1h0m0 49h0m3-3h0m0 1h0m2-54h0m0 52h0m1-53h0m3-4h0m1 0h0m0 55h0m2-57h0m0 53h0m2 0h0m1-57h0m3-1h0m0 55h0m3-2h0m5-64h0m0 1h0m2-1h0m1-4h0m1 60h0m1 0h0m8-9h0m2-63h0m6-7h0m12 52h0m3-67h0m5-4h0m1-1h0m0 1h0m3 59h0m4-64h0m3 55h0m6-8h0m7-13h0m0 0h0m9-20h0" stroke="#47196b"/>
<path d="M1772 1150h0m0 2h0m1-1h0m4-4h0m3-2h0m5-48h0m1 1h0m3-4h0m6-8h0m1 46h0m1-48h0m1 0h0m3-4h0m1-1h0m0 49h0m5-6h0m0 2h0m2-3h0m1-49h0m0 48h0m3-3h0m0 0h0m4-3h0m1-50h0m3-3h0m0 47h0m1-49h0m0 49h0m1-2h0m1-47h0m2 45h0m1-49h0m3 46h0m5-8h0m0 3h0m3-51h0m0 0h0m3-1h0m1-2h0m0 44h0m1 1h0m2-46h0m1-1h0m0 41h0m1-1h0m0 1h0m1-43h0m6 34h0m1 0h0m2-42h0m1-3h0m0 42h0m1-43h0m0 43h0m1-1h0m2-42h0m0 38h0m1-1h0m1-41h0m0 41h0m1-3h0m0 2h0m1-41h0m1 37h0m1-38h0m1-2h0m1 38h0m1-2h0m1-38h0m2 0h0m0 0h0m1 0h0m0 33h0m3-2h0m0 2h0m2-38h0m0 33h0m2-36h0m0 36h0m1-36h0m3 32h0m4-7h0m1-34h0m1 1h0m1 31h0m2-34h0m0 0h0m0 35h0m1-37h0m2 34h0m1-2h0m1-36h0m0 2h0m0 31h0m1-35h0m1 1h0m2-4h0m0 35h0m1-36h0m0 0h0m2 1h0m3-4h0m1 32h0m1-34h0m0 35h0m1-3h0m3-3h0m0 0h0m2-36h0m1 35h0m1-36h0m0 33h0m0 0h0m4-39h0m0 37h0m2-5h0m1-2h0m1-33h0m1 32h0m0 3h0m1-37h0m1 34h0m0 1h0m1-35h0m1-2h0m2-2h0m0 1h0m1 31h0m3-35h0m1 32h0m2-37h0m0 1h0m0 2h0m1-4h0m2-1h0m0 2h0m0 31h0m2-33h0m0 30h0m1-31h0m0 33h0m1-36h0m1 32h0m1-33h0m0 34h0m1-33h0m0 31h0m1-33h0m1-2h0m0 33h0m1-1h0m1-35h0m1-2h0m2-2h0m0 1h0m0 2h0m0 33h0m1-2h0m1 1h0m1-2h0m2-38h0m0 35h0m2-34h0m0 0h0m0 32h0m1 0h0m2-37h0m1 35h0m1-38h0m0 38h0m1-38h0m0 33h0m0 0h0m1 1h0m2-37h0m4-3h0m1 31h0m2-1h0m1-34h0m1 0h0m0 32h0m1-32h0m1 29h0m0 1h0m1-32h0m1 31h0m1-35h0m0 0h0m0 36h0m2-37h0m0 0h0m0 33h0m2-36h0m2-1h0m0 32h0m1-34h0m1-1h0m1 32h0m0 1h0m1-34h0m1-2h0m0 1h0m0 33h0m1-33h0m4-5h0m1 33h0m1-2h0m3-4h0m0 2h0m1-33h0m0 30h0m1-33h0m0 1h0m1 32h0m2-34h0m0 33h0m1-37h0m0 34h0m2-35h0m2 32h0m1-34h0m1-1h0m0 1h0m1-3h0m1 0h0m0 0h0m2-1h0m1 31h0m1-35h0m0 2h0m0 34h0m2-5h0m0 0h0m1-32h0m0 1h0m1-3h0m1-1h0m2 29h0m0 1h0m2-35h0m0 33h0m0 0h0m0 0h0m1-32h0m0 32h0m1-35h0m0 3h0m2 31h0m1-35h0m0 31h0m1 0h0m1-32h0m1-2h0m1-3h0m0 2h0m0 0h0m0 34h0m1-34h0m0 30h0m1-31h0m0 31h0m1-33h0m0 31h0m1-32h0m0 32h0m0 0h0m2-35h0m0 36h0m1-4h0m0 2h0m1-4h0m1 3h0m3-6h0m1-32h0m0 31h0m3-37h0m0 1h0m0 35h0m0 1h0m2-3h0m1-3h0m1 1h0m1-35h0m1-3h0m1 0h0m0 1h0m1-1h0m1 32h0m1-34h0m1-2h0m0 33h0m3-36h0m0 1h0m1-1h0m0 32h0m0 3h0m5-8h0m0 0h0m1-32h0m0 33h0m1-36h0m0 37h0m1-36h0m1-2h0m0 0h0m0 0h0m1 1h0m1-3h0m1-2h0m0 1h0m0 0h0m1 0h0m1 30h0m1-31h0m0 0h0m2-3h0m3-4h0m1 31h0m1-32h0m1-2h0m0 32h0m1-34h0m0 35h0m1-34h0m0 0h0m0 33h0m3-36h0m0 34h0m2-3h0m0 0h0m1-1h0m0 1h0m0 0h0m1-36h0m4-3h0m1 32h0m1-33h0m0 35h0m1-2h0m1-3h0m1-33h0m0 31h0m0 2h0m1-35h0m1 0h0m0 33h0m1-34h0m1-1h0m1 31h0m1-34h0m2-4h0m2 0h0m2-3h0m0 35h0m0 2h0m2-39h0m0 1h0m2-3h0m0 36h0m1-35h0m1-5h0m4-2h0m0 1h0m1-1h0m1 36h0m1-40h0m5 35h0m3-43h0m2-5h0m0 2h0m1-2h0m0 42h0m6-48h0m0 44h0m1-46h0m7-8h0m0 1h0m5-6h0m1-3h0m3-2h0m1 50h0m2-52h0m6-9h0m0 2h0m2-3h0m3-5h0m5-4h0m4-5h0m2 57h0m13-12h0m3-64h0m4-4h0m6-4h0m6 49h0m2-1h0m6-10h0m1-3h0m12-20h0m1-2h0m1-15h0m0 12h0m1-13h0m0 1h0m0 10h0m1-13h0m0 3h0m0 6h0m1-7h0m0 2h0m0 0h0m0 1h0m0 2h0m1-7h0m0 1h0m0 1h0m0 1h0m0 0h0m0 1h0m1-3h0m0 0h0m0 3h0m1 0h0m0 0h0m1-4h0" stroke="#482374"/>
<path d="M1761 1129h0m3 26h0m2-31h0m2 27h0m4-3h0m2-34h0m1 0h0m0 33h0m2-4h0m1 1h0m2-36h0m2 31h0m4-1h0m1-1h0m0 1h0m1-3h0m2-41h0m3-2h0m0 41h0m2-1h0m2-45h0m1-1h0m0 0h0m5 38h0m2-46h0m0 43h0m1-43h0m0 44h0m0 0h0m2-47h0m3-3h0m0 44h0m1-1h0m13-12h0m4-5h0m0 0h0m1-44h0m0 1h0m3-3h0m0 42h0m1-44h0m2 41h0m4-45h0m1-1h0m0 40h0m3-43h0m0 41h0m4-5h0m1 0h0m1-39h0m1-1h0m3 34h0m0 0h0m1-2h0m1 0h0m3-5h0m0 1h0m3-38h0m1 0h0m1 31h0m1-35h0m0 35h0m0 0h0m1-35h0m3-3h0m0 34h0m1-4h0m1-31h0m0 2h0m1-2h0m1-1h0m0 1h0m0 1h0m0 27h0m0 1h0m1-32h0m0 1h0m0 0h0m0 1h0m1 27h0m0 0h0m1-27h0m1-3h0m0 28h0m3-3h0m0 1h0m1-3h0m3-30h0m0 28h0m1-1h0m1-1h0m0 1h0m0 1h0m3-32h0m0 27h0m1-29h0m0 1h0m1 27h0m1-3h0m0 1h0m2-28h0m0 0h0m0 26h0m1-29h0m1-1h0m0 3h0m2-5h0m0 0h0m0 2h0m0 26h0m1-28h0m0 1h0m1 26h0m1-1h0m2-28h0m1-3h0m0 0h0m0 2h0m1 24h0m1-26h0m1-3h0m1 26h0m0 2h0m1-30h0m0 27h0m1-25h0m0 24h0m1 0h0m1-28h0m0 25h0m1 1h0m0 1h0m0 0h0m1-28h0m0 1h0m2-5h0m1 26h0m1-27h0m1 1h0m1-3h0m0 1h0m0 24h0m0 1h0m1-2h0m0 2h0m0 1h0m1-27h0m3-5h0m1-2h0m0 2h0m0 24h0m0 2h0m1-2h0m1-28h0m0 1h0m1-1h0m0 3h0m0 25h0m1-27h0m1-3h0m0 2h0m0 24h0m1-27h0m1 26h0m1-28h0m0 25h0m0 3h0m1-2h0m2-27h0m1-2h0m0 25h0m0 1h0m2-30h0m0 3h0m0 0h0m0 24h0m0 0h0m1-26h0m0 28h0m1-3h0m2-28h0m0 25h0m1-24h0m1 24h0m1-28h0m0 2h0m1 25h0m1-27h0m0 0h0m1 22h0m0 2h0m1-3h0m0 2h0m1-29h0m0 28h0m1-29h0m0 0h0m0 27h0m1-2h0m1-26h0m0 0h0m0 1h0m0 24h0m1-25h0m0 27h0m1-29h0m0 0h0m0 26h0m0 0h0m2-28h0m0 1h0m0 25h0m2-27h0m0 26h0m0 1h0m1-4h0m1 1h0m1-3h0m0 4h0m2-29h0m0 24h0m1-25h0m0 0h0m0 25h0m0 2h0m1-29h0m0 25h0m1-1h0m0 1h0m1-28h0m0 0h0m2-2h0m0 26h0m0 0h0m0 2h0m0 0h0m1-29h0m1 0h0m0 25h0m0 2h0m1-27h0m0 25h0m1 0h0m1-3h0m1 2h0m1-28h0m0 25h0m1 0h0m2-29h0m0 1h0m1-3h0m0 26h0m0 0h0m1 0h0m1-26h0m0 25h0m1-1h0m2-29h0m0 2h0m0 1h0m2-4h0m0 25h0m0 1h0m0 2h0m2-31h0m0 1h0m1-2h0m0 1h0m0 2h0m1-3h0m0 2h0m0 23h0m0 0h0m0 2h0m0 0h0m1-3h0m0 3h0m1-30h0m0 29h0m1-29h0m0 26h0m1 1h0m1-29h0m0 28h0m1-28h0m0 24h0m0 1h0m0 1h0m0 0h0m1-29h0m0 1h0m1-1h0m0 1h0m0 1h0m0 24h0m0 1h0m1-2h0m0 2h0m0 1h0m1-29h0m0 0h0m1-1h0m0 1h0m0 0h0m0 24h0m1-2h0m0 1h0m1-26h0m0 0h0m0 25h0m0 2h0m1-27h0m0 0h0m0 1h0m0 25h0m0 0h0m1-2h0m0 0h0m0 1h0m1-29h0m0 26h0m1-27h0m0 2h0m1 22h0m0 3h0m1-28h0m0 24h0m1-25h0m0 25h0m3-3h0m1 1h0m1-29h0m1 24h0m1-26h0m1-1h0m0 0h0m0 3h0m0 24h0m0 1h0m1-26h0m1-3h0m0 28h0m1-28h0m1 23h0m1 1h0m0 0h0m1-28h0m0 25h0m0 1h0m1-2h0m0 1h0m0 0h0m2-29h0m1-1h0m1-1h0m0 4h0m0 22h0m1-26h0m0 2h0m0 0h0m1 25h0m1-30h0m1 25h0m0 2h0m1-29h0m0 29h0m0 0h0m1-30h0m0 3h0m0 24h0m0 2h0m1-2h0m0 1h0m2-2h0m1-4h0m1-24h0m0 23h0m1-27h0m0 3h0m1-3h0m0 1h0m0 0h0m0 0h0m2-3h0m0 1h0m0 2h0m0 25h0m2-30h0m0 2h0m0 25h0m1-3h0m0 2h0m1 1h0m1-29h0m0 1h0m1-2h0m2 0h0m0 26h0m0 0h0m1-28h0m0 1h0m0 22h0m0 1h0m1-27h0m0 26h0m1-24h0m0 23h0m0 0h0m0 3h0m2-29h0m0 1h0m1-3h0m1 0h0m0 27h0m2-29h0m0 26h0m0 0h0m1-2h0m1-27h0m0 0h0m0 2h0m0 23h0m1-24h0m1 22h0m0 2h0m0 1h0m1-4h0m0 2h0m0 0h0m2-30h0m0 0h0m0 26h0m1-26h0m1 28h0m1-28h0m0 24h0m2-26h0m0 1h0m0 24h0m1-29h0m0 2h0m0 0h0m0 1h0m0 27h0m1-28h0m1-1h0m1 24h0m1-29h0m0 27h0m0 1h0m1-2h0m1-2h0m1 0h0m1-24h0m0 24h0m0 2h0m2-5h0m1-25h0m1-2h0m0 26h0m0 1h0m1-27h0m0 25h0m0 1h0m2-4h0m0 1h0m0 1h0m2-28h0m2-3h0m0 26h0m0 1h0m1-29h0m0 28h0m1-27h0m0 24h0m2 0h0m0 1h0m1-2h0m1-27h0m0 0h0m0 24h0m0 3h0m3-6h0m1-26h0m0 0h0m2-2h0m0 2h0m1-3h0m0 3h0m0 22h0m1 0h0m0 1h0m2-29h0m0 26h0m0 0h0m1 1h0m1-27h0m0 25h0m0 2h0m2-30h0m1 24h0m1-1h0m0 1h0m3-29h0m0 27h0m1 0h0m2-31h0m0 1h0m0 28h0m1-31h0m0 2h0m0 1h0m2-3h0m1 28h0m1-3h0m0 2h0m2-34h0m0 31h0m1-30h0m1-2h0m0 29h0m1-1h0m0 1h0m1-1h0m1-30h0m1 0h0m1 29h0m1-32h0m1 30h0m2-34h0m1-2h0m1-2h0m0 1h0m4 30h0m2-38h0m0 1h0m0 0h0m1-1h0m2-3h0m0 37h0m1-1h0m1-38h0m0 39h0m1-2h0m0 1h0m1-40h0m9 31h0m1-44h0m1-1h0m0 0h0m2 0h0m8-11h0m10-11h0m2 49h0m2-3h0m2-53h0m0 0h0m2 50h0m8-60h0m13 42h0m5-61h0m5 50h0m3-5h0m7-10h0m0 0h0m1-45h0m13 22h0m3-22h0m0 1h0m0 2h0m0 2h0m0 5h0m0 0h0m0 0h0m1-10h0m0 3h0m0 1h0m0 1h0m0 1h0m0 4h0m0 2h0m1-10h0m0 1h0m0 3h0m0 5h0m0 1h0" stroke="#462c7a"/>
<path d="M1754 1152h0m2 0h0m2-4h0m0 2h0m2-12h0m0 2h0m0 11h0m1-17h0m1 1h0m1 15h0m1-21h0m2-2h0m0 21h0m0 1h0m1-22h0m1-1h0m0 20h0m2-24h0m1-2h0m1 1h0m0 24h0m2-28h0m0 28h0m1-3h0m0 1h0m1-27h0m1 26h0m2-30h0m2-5h0m0 1h0m0 31h0m2-33h0m3-4h0m0 1h0m0 0h0m2 31h0m2-2h0m1-35h0m4 31h0m4-3h0m3-1h0m3-43h0m1 39h0m1-41h0m0 39h0m0 0h0m1-1h0m3-2h0m0 0h0m2-2h0m3-44h0m0 1h0m0 40h0m3-42h0m0 39h0m5-46h0m0 1h0m2-1h0m1 38h0m1-41h0m0 39h0m2-1h0m3-4h0m2-40h0m0 2h0m2-3h0m0 0h0m1-1h0m3 32h0m0 2h0m1-3h0m1-36h0m2 35h0m2-3h0m1-36h0m2 32h0m0 1h0m1-34h0m0 0h0m3-3h0m1-1h0m1 29h0m0 1h0m3-34h0m0 2h0m0 28h0m1-31h0m1-1h0m0 1h0m0 29h0m1-29h0m1 0h0m1-2h0m0 27h0m0 2h0m1-30h0m0 0h0m1-1h0m0 2h0m1-2h0m1-2h0m0 28h0m1-29h0m0 2h0m0 0h0m0 0h0m0 23h0m1-24h0m0 1h0m0 25h0m2-29h0m0 26h0m2-26h0m0 22h0m0 2h0m1-25h0m0 23h0m1-24h0m0 1h0m0 20h0m0 3h0m1-24h0m0 22h0m1-24h0m0 1h0m0 1h0m0 19h0m0 2h0m1-22h0m3 18h0m1-24h0m1-2h0m0 4h0m0 19h0m0 0h0m0 1h0m1-25h0m2 0h0m0 1h0m2 17h0m2-23h0m1-1h0m0 2h0m0 1h0m0 0h0m0 20h0m1-22h0m0 18h0m0 1h0m1-22h0m1-1h0m0 21h0m0 0h0m1-22h0m0 2h0m0 20h0m2-22h0m0 20h0m1-21h0m1-1h0m0 1h0m0 20h0m3-4h0m1-19h0m0 0h0m0 1h0m0 15h0m1-19h0m0 21h0m1-4h0m0 1h0m1-19h0m0 20h0m1-22h0m0 19h0m1-20h0m0 17h0m0 1h0m1-18h0m0 18h0m1-19h0m0 18h0m1-21h0m0 19h0m0 3h0m1-3h0m0 2h0m1-23h0m0 4h0m0 16h0m1-19h0m0 20h0m1-20h0m0 16h0m0 1h0m1-18h0m0 0h0m0 1h0m0 17h0m1-21h0m0 2h0m0 1h0m0 0h0m1-4h0m0 0h0m0 19h0m0 1h0m1-1h0m1-19h0m0 0h0m1-3h0m0 2h0m0 19h0m1-21h0m0 0h0m0 2h0m0 0h0m0 15h0m0 0h0m0 2h0m1-3h0m1-18h0m0 1h0m0 0h0m1-4h0m1 1h0m0 0h0m3-5h0m0 3h0m0 19h0m1-21h0m0 17h0m0 0h0m0 1h0m0 1h0m0 0h0m0 1h0m0 0h0m1-21h0m0 2h0m0 16h0m0 0h0m1-17h0m0 18h0m1-21h0m0 1h0m0 17h0m0 2h0m1-21h0m0 1h0m1 15h0m0 0h0m0 1h0m0 1h0m0 1h0m1-18h0m1 17h0m0 0h0m2-23h0m0 2h0m1 16h0m1-21h0m0 4h0m0 18h0m1-21h0m0 18h0m0 1h0m1-20h0m0 1h0m0 19h0m1-19h0m1-3h0m0 20h0m1-20h0m0 16h0m0 2h0m0 1h0m0 0h0m2-22h0m0 2h0m0 17h0m1-21h0m0 0h0m0 0h0m0 1h0m0 1h0m0 15h0m0 0h0m0 1h0m1-19h0m0 19h0m0 0h0m1-20h0m0 2h0m0 16h0m0 2h0m1-19h0m0 16h0m0 1h0m0 1h0m0 1h0m1-22h0m0 1h0m0 1h0m0 1h0m0 16h0m0 0h0m0 2h0m1-22h0m0 2h0m2-1h0m0 18h0m0 0h0m1-22h0m0 1h0m0 17h0m1-15h0m0 15h0m0 0h0m0 2h0m0 1h0m1-22h0m0 2h0m0 0h0m0 16h0m0 3h0m1-3h0m0 1h0m1-3h0m0 0h0m1-20h0m0 2h0m0 0h0m0 17h0m0 1h0m0 0h0m1-21h0m0 1h0m0 19h0m1-20h0m0 17h0m1-18h0m0 1h0m0 1h0m0 0h0m0 19h0m1-21h0m0 0h0m0 19h0m2-20h0m0 16h0m0 1h0m0 2h0m1-23h0m1 18h0m0 0h0m1-18h0m0 16h0m0 1h0m0 1h0m0 1h0m1-21h0m0 1h0m1-2h0m0 1h0m1-1h0m0 17h0m0 2h0m1-21h0m0 2h0m0 16h0m0 3h0m1-5h0m0 1h0m1-2h0m0 2h0m0 1h0m1-1h0m0 0h0m0 1h0m1-23h0m0 2h0m0 0h0m0 2h0m1 15h0m1-21h0m0 3h0m0 1h0m0 16h0m0 1h0m1-19h0m0 16h0m1-1h0m1-19h0m0 3h0m0 15h0m0 2h0m1-18h0m0 15h0m0 1h0m1 1h0m1-20h0m0 17h0m0 0h0m1-20h0m0 19h0m0 0h0m1-19h0m0 0h0m0 1h0m0 17h0m0 2h0m1-21h0m0 2h0m0 16h0m0 0h0m0 2h0m0 0h0m1-21h0m0 2h0m0 0h0m0 0h0m0 17h0m1-18h0m0 17h0m1-19h0m0 0h0m0 17h0m1-16h0m0 14h0m1 0h0m0 2h0m2-23h0m0 1h0m0 19h0m0 1h0m0 1h0m2-21h0m0 0h0m0 0h0m0 16h0m0 2h0m2-21h0m0 16h0m0 2h0m1-21h0m0 1h0m0 1h0m0 16h0m0 1h0m1-18h0m0 17h0m0 0h0m0 1h0m1-21h0m0 4h0m0 15h0m0 0h0m0 1h0m1-18h0m1-4h0m0 3h0m1-2h0m0 19h0m1-18h0m0 17h0m1-20h0m0 16h0m0 1h0m0 1h0m0 0h0m0 0h0m0 0h0m0 2h0m2-22h0m0 18h0m1-20h0m0 1h0m0 18h0m1-18h0m0 16h0m0 3h0m1-23h0m0 1h0m0 3h0m0 16h0m0 1h0m0 0h0m1-2h0m1-17h0m0 15h0m0 1h0m1-20h0m0 18h0m1-18h0m0 0h0m1-1h0m1 1h0m0 15h0m0 1h0m0 3h0m1-23h0m0 0h0m0 2h0m0 19h0m0 0h0m2-3h0m0 0h0m0 0h0m0 1h0m1-5h0m0 2h0m0 1h0m0 2h0m1-5h0m0 2h0m1-20h0m0 20h0m1-21h0m0 0h0m0 19h0m0 0h0m1-19h0m0 0h0m0 16h0m0 0h0m0 3h0m1-22h0m0 1h0m0 3h0m0 15h0m0 1h0m1-22h0m0 1h0m0 1h0m0 17h0m1-16h0m0 0h0m1-3h0m0 2h0m0 16h0m0 2h0m1-22h0m0 1h0m1 1h0m0 15h0m1-18h0m1 0h0m0 1h0m0 19h0m1-3h0m1-1h0m0 1h0m1-22h0m0 1h0m0 17h0m0 2h0m0 0h0m3-23h0m0 1h0m0 20h0m0 1h0m1-20h0m0 19h0m1-23h0m0 19h0m0 3h0m1-22h0m0 1h0m0 2h0m0 14h0m0 1h0m0 2h0m1-21h0m0 1h0m0 0h0m0 2h0m0 16h0m1-3h0m1-16h0m1-1h0m0 1h0m0 0h0m0 14h0m0 1h0m1 2h0m0 1h0m1-5h0m0 3h0m1-23h0m0 3h0m0 16h0m0 2h0m0 1h0m1-19h0m0 1h0m0 15h0m0 1h0m1-4h0m0 3h0m1-20h0m0 17h0m1-16h0m0 0h0m0 15h0m1-16h0m0 0h0m0 16h0m1-20h0m0 1h0m1-1h0m0 0h0m0 2h0m0 15h0m1-19h0m0 2h0m0 18h0m1-22h0m0 2h0m1 0h0m0 19h0m1-2h0m1-21h0m0 1h0m0 18h0m0 2h0m0 1h0m1-23h0m1-1h0m0 3h0m0 1h0m1-4h0m1 1h0m0 19h0m1-22h0m0 18h0m0 1h0m0 2h0m2-23h0m1-1h0m0 20h0m1-20h0m0 16h0m1-20h0m0 20h0m0 1h0m0 1h0m0 0h0m0 0h0m1-3h0m1-20h0m0 3h0m0 19h0m1-22h0m0 2h0m0 0h0m0 15h0m1-19h0m0 1h0m1-2h0m0 20h0m1-1h0m1-2h0m0 2h0m0 1h0m1-21h0m0 18h0m1-18h0m0 0h0m0 15h0m0 1h0m0 0h0m0 1h0m1-21h0m0 4h0m0 14h0m1-17h0m0 2h0m1-4h0m0 3h0m1 15h0m1-20h0m0 18h0m0 0h0m1-18h0m0 18h0m0 0h0m0 2h0m0 0h0m1-3h0m2-21h0m0 1h0m0 17h0m0 1h0m1-21h0m2-2h0m0 1h0m0 2h0m0 0h0m0 0h0m0 1h0m0 16h0m0 0h0m0 2h0m1-20h0m0 19h0m1-19h0m0 17h0m1-21h0m0 3h0m0 16h0m0 1h0m1-19h0m0 0h0m0 0h0m0 16h0m0 1h0m1-19h0m0 3h0m0 15h0m1 0h0m0 1h0m1-2h0m0 0h0m0 0h0m0 0h0m1-22h0m0 2h0m1-2h0m0 2h0m0 1h0m0 16h0m0 0h0m0 1h0m0 1h0m1-22h0m0 1h0m0 17h0m0 0h0m0 1h0m0 2h0m0 1h0m0 0h0m1-23h0m0 0h0m0 2h0m1-3h0m0 18h0m0 0h0m0 3h0m1-20h0m0 16h0m0 2h0m1-21h0m0 20h0m0 0h0m0 1h0m1-19h0m0 15h0m0 3h0m1-2h0m0 1h0m1-2h0m1-22h0m0 3h0m0 0h0m0 17h0m2-18h0m0 17h0m1-1h0m0 2h0m0 0h0m1-4h0m0 1h0m0 2h0m0 0h0m1-24h0m1 21h0m0 1h0m1-21h0m0 20h0m2-25h0m0 3h0m0 18h0m0 1h0m0 1h0m1-22h0m0 20h0m1 1h0m1-22h0m0 21h0m1-2h0m0 0h0m0 1h0m1-24h0m0 2h0m0 20h0m1-23h0m0 1h0m0 21h0m1-23h0m0 1h0m0 0h0m0 0h0m0 20h0m0 2h0m1-25h0m0 2h0m0 19h0m0 2h0m0 2h0m1-26h0m0 23h0m0 1h0m1-23h0m0 21h0m2-24h0m0 1h0m1 22h0m1-26h0m0 1h0m0 0h0m1-3h0m1 1h0m1 23h0m1-27h0m1 26h0m1-27h0m0 26h0m1-28h0m1 0h0m3-5h0m0 1h0m2 26h0m0 2h0m2-33h0m0 30h0m2-2h0m0 1h0m1-34h0m0 33h0m2-1h0m2-1h0m1-1h0m1-36h0m3-4h0m1 0h0m1 35h0m1-1h0m0 1h0m3-42h0m7-8h0m0 0h0m2-3h0m1 43h0m1-1h0m8-52h0m1 44h0m7-5h0m7-6h0m5-56h0m4-4h0m3-3h0m1 51h0m1-54h0m15-10h0m5-3h0m0 39h0m4-5h0m4-5h0m2-7h0m2-1h0m1-4h0m0 1h0m1-20h0m0 14h0m1-14h0m0 0h0m0 1h0m0 10h0m0 2h0m0 2h0m1-14h0m0 1h0m0 2h0m0 0h0m0 2h0m0 0h0m0 3h0m0 2h0m1-8h0m0 3h0m0 0h0m0 1h0m0 2h0" stroke="#44367f"/>
<path d="M1759 1144h0m0 0h0m0 1h0m1-5h0m0 4h0m0 4h0m0 0h0m2-1h0m1-6h0m0 6h0m1-6h0m1-9h0m2 12h0m1-2h0m1-14h0m0 15h0m1-16h0m2-5h0m0 0h0m1 20h0m1-2h0m0 2h0m1-23h0m1 0h0m3-6h0m0 23h0m1 2h0m1-28h0m0 2h0m1 24h0m2-3h0m0 2h0m0 0h0m2-30h0m0 27h0m0 1h0m0 1h0m5-37h0m0 33h0m1-33h0m1 30h0m1-33h0m1 32h0m2 0h0m0 0h0m1-36h0m1-1h0m0 35h0m2-38h0m0 1h0m0 34h0m0 1h0m1 0h0m1-38h0m2-1h0m0 36h0m3-39h0m0 0h0m1-2h0m0 37h0m2-2h0m1-37h0m1-2h0m4 32h0m1-36h0m1-2h0m0 36h0m0 0h0m0 1h0m1-38h0m0 38h0m1-2h0m4-39h0m1-3h0m1 0h0m2 33h0m0 1h0m2-37h0m0 34h0m1-1h0m1-1h0m2-35h0m0 0h0m1 31h0m1-1h0m1-33h0m0 32h0m1-1h0m2-34h0m0 1h0m0 0h0m1-2h0m0 30h0m4-33h0m0 29h0m0 2h0m1-31h0m1 28h0m4-31h0m0 25h0m0 1h0m0 1h0m2-29h0m2-2h0m0 0h0m2-1h0m1 23h0m1-25h0m2-3h0m0 2h0m0 0h0m0 0h0m0 1h0m0 0h0m0 21h0m1-1h0m1-25h0m0 2h0m0 1h0m0 0h0m0 20h0m1-23h0m0 1h0m0 2h0m1 18h0m0 2h0m1-24h0m0 1h0m0 20h0m1-23h0m1 1h0m0 2h0m0 0h0m1 15h0m0 1h0m0 1h0m1-21h0m0 1h0m0 2h0m0 0h0m0 15h0m1-19h0m0 20h0m0 1h0m1-21h0m0 17h0m2-19h0m0 17h0m0 2h0m1-19h0m0 0h0m0 14h0m0 1h0m0 1h0m1-16h0m0 2h0m0 10h0m0 1h0m0 0h0m1-13h0m0 1h0m0 10h0m0 1h0m0 0h0m0 1h0m0 1h0m1-15h0m0 2h0m0 12h0m0 1h0m1-18h0m0 3h0m0 13h0m0 0h0m0 1h0m1-18h0m0 1h0m0 3h0m0 0h0m0 1h0m0 11h0m0 1h0m1-17h0m0 12h0m0 1h0m1-12h0m0 1h0m0 8h0m0 2h0m1-12h0m0 11h0m0 1h0m0 1h0m1-17h0m0 1h0m0 4h0m0 7h0m0 1h0m1-12h0m0 1h0m0 2h0m0 8h0m0 1h0m1-14h0m0 2h0m0 2h0m0 0h0m0 9h0m0 3h0m1-17h0m0 4h0m0 7h0m0 2h0m0 3h0m0 0h0m1-17h0m0 2h0m0 0h0m0 1h0m0 9h0m0 0h0m0 3h0m1-15h0m0 0h0m0 11h0m1-13h0m0 12h0m0 1h0m1-13h0m0 11h0m0 1h0m0 0h0m0 3h0m1-16h0m0 3h0m0 7h0m1-9h0m0 0h0m0 1h0m0 1h0m0 1h0m0 3h0m0 1h0m0 0h0m0 0h0m0 1h0m0 2h0m0 1h0m0 0h0m0 2h0m1-14h0m0 1h0m0 1h0m0 0h0m0 0h0m0 5h0m0 1h0m0 1h0m0 2h0m1-14h0m0 2h0m0 3h0m0 4h0m1-9h0m0 12h0m1-15h0m0 5h0m0 2h0m0 1h0m0 1h0m1-6h0m0 0h0m0 1h0m0 6h0m0 2h0m1-12h0m0 0h0m0 3h0m0 3h0m0 4h0m0 2h0m0 1h0m1-10h0m0 2h0m0 1h0m0 2h0m0 1h0m0 0h0m1-7h0m0 1h0m0 1h0m0 2h0m0 1h0m1-2h0m0 1h0m1-8h0m0 3h0m0 4h0m0 0h0m0 0h0m0 1h0m0 3h0m0 0h0m1-13h0m0 3h0m0 1h0m0 0h0m0 1h0m0 2h0m0 2h0m0 1h0m1-8h0m0 1h0m0 0h0m0 4h0m0 2h0m0 2h0m0 0h0m1-14h0m0 2h0m0 4h0m0 1h0m0 1h0m0 2h0m0 0h0m0 1h0m0 2h0m1-15h0m0 1h0m0 1h0m0 5h0m0 4h0m0 0h0m0 0h0m1-12h0m0 0h0m0 1h0m0 3h0m0 1h0m0 2h0m0 0h0m0 1h0m0 0h0m0 3h0m0 1h0m1-8h0m0 1h0m0 2h0m0 1h0m0 1h0m1-11h0m0 6h0m0 1h0m0 0h0m0 2h0m0 5h0m1-13h0m0 0h0m0 4h0m1-6h0m0 4h0m0 1h0m0 1h0m0 1h0m0 4h0m0 2h0m1-9h0m0 0h0m0 1h0m0 1h0m0 5h0m1-11h0m0 2h0m0 3h0m0 0h0m0 5h0m0 1h0m1-15h0m0 1h0m0 1h0m0 1h0m0 0h0m0 1h0m0 9h0m0 1h0m1-14h0m0 4h0m0 0h0m0 2h0m0 0h0m0 6h0m0 1h0m1-11h0m0 1h0m0 0h0m0 4h0m1-10h0m0 7h0m0 1h0m0 1h0m0 2h0m1-10h0m0 1h0m0 1h0m0 3h0m0 0h0m0 2h0m0 1h0m0 0h0m0 0h0m0 2h0m1-9h0m0 3h0m0 1h0m0 1h0m0 2h0m0 2h0m0 0h0m0 1h0m1-13h0m0 0h0m0 3h0m0 4h0m0 4h0m1-13h0m0 1h0m0 0h0m0 1h0m0 5h0m0 1h0m0 2h0m0 3h0m1-10h0m0 1h0m0 2h0m0 6h0m1-11h0m0 0h0m0 0h0m0 1h0m0 4h0m0 0h0m0 1h0m1-10h0m0 1h0m0 2h0m0 5h0m0 4h0m1-7h0m0 7h0m1-13h0m0 4h0m0 1h0m0 0h0m0 1h0m0 1h0m0 4h0m0 1h0m1-14h0m0 1h0m0 3h0m0 0h0m0 1h0m0 1h0m0 2h0m0 3h0m0 0h0m0 2h0m1-13h0m0 4h0m0 3h0m0 3h0m0 2h0m1-15h0m0 4h0m0 6h0m0 0h0m0 1h0m0 1h0m1-12h0m0 0h0m0 2h0m0 4h0m0 3h0m0 3h0m0 1h0m1-13h0m0 1h0m0 3h0m0 2h0m0 2h0m0 1h0m0 1h0m0 2h0m1-11h0m0 0h0m0 3h0m0 5h0m0 0h0m1-8h0m0 2h0m0 2h0m0 1h0m0 1h0m1-9h0m0 2h0m0 6h0m0 1h0m1-12h0m0 6h0m0 3h0m0 1h0m0 2h0m1-13h0m0 5h0m0 1h0m0 2h0m0 1h0m0 2h0m0 3h0m1-15h0m0 12h0m0 0h0m1-7h0m0 1h0m0 1h0m0 0h0m0 4h0m1-12h0m0 0h0m0 2h0m0 1h0m0 2h0m0 0h0m0 0h0m0 4h0m1-10h0m0 3h0m0 4h0m0 1h0m0 1h0m0 2h0m0 2h0m1-13h0m0 2h0m0 5h0m0 2h0m0 0h0m0 3h0m1-5h0m1-9h0m0 8h0m1-9h0m0 4h0m0 1h0m1-2h0m0 5h0m0 3h0m1-9h0m0 0h0m0 2h0m0 1h0m0 0h0m1-9h0m0 4h0m0 1h0m0 0h0m0 1h0m0 0h0m0 3h0m1-8h0m0 0h0m0 5h0m0 1h0m0 4h0m1-12h0m0 1h0m0 2h0m0 1h0m0 2h0m0 2h0m0 4h0m1-12h0m0 10h0m0 0h0m1-13h0m0 1h0m0 1h0m0 1h0m0 5h0m0 0h0m0 0h0m0 2h0m0 3h0m1-14h0m0 4h0m0 2h0m0 1h0m0 1h0m0 0h0m0 3h0m1-12h0m0 0h0m0 5h0m1-3h0m0 1h0m0 1h0m0 0h0m0 5h0m0 0h0m0 2h0m0 0h0m0 1h0m1-13h0m0 2h0m0 1h0m0 1h0m0 3h0m0 0h0m0 1h0m1-10h0m0 0h0m0 2h0m0 3h0m0 2h0m0 1h0m0 2h0m0 2h0m1-11h0m0 0h0m0 2h0m0 2h0m0 2h0m0 2h0m1-11h0m0 0h0m0 4h0m0 0h0m0 1h0m0 1h0m0 0h0m0 0h0m0 1h0m0 1h0m0 0h0m0 4h0m0 2h0m1-12h0m0 0h0m0 0h0m0 1h0m0 1h0m0 1h0m0 1h0m0 4h0m0 1h0m0 1h0m1-10h0m0 1h0m0 3h0m0 3h0m0 2h0m1-14h0m0 3h0m0 1h0m0 4h0m0 0h0m0 6h0m1-13h0m0 1h0m0 0h0m0 4h0m0 0h0m0 1h0m1-7h0m0 0h0m0 2h0m0 2h0m0 2h0m0 1h0m0 2h0m0 2h0m0 0h0m1-12h0m0 4h0m0 0h0m0 6h0m1-11h0m0 1h0m0 1h0m0 3h0m0 2h0m0 0h0m1-5h0m0 1h0m0 3h0m0 1h0m1-10h0m0 0h0m0 4h0m0 1h0m0 5h0m0 0h0m0 3h0m1-14h0m0 3h0m0 2h0m0 3h0m1 2h0m0 1h0m2-8h0m0 3h0m1-9h0m0 1h0m0 0h0m0 3h0m0 0h0m0 4h0m1-6h0m0 1h0m0 3h0m1-10h0m0 5h0m0 8h0m1-11h0m0 0h0m0 2h0m0 2h0m0 0h0m1-7h0m0 4h0m0 1h0m0 1h0m0 1h0m1-7h0m0 0h0m0 3h0m0 1h0m0 1h0m0 1h0m0 2h0m0 0h0m0 1h0m0 1h0m0 2h0m1-13h0m0 1h0m0 1h0m0 1h0m0 1h0m0 1h0m0 0h0m0 3h0m0 1h0m1-9h0m0 4h0m0 1h0m0 1h0m0 1h0m0 0h0m0 1h0m0 2h0m1-10h0m0 0h0m0 4h0m0 4h0m1-12h0m0 6h0m1-4h0m0 2h0m0 0h0m0 3h0m0 1h0m0 0h0m0 1h0m0 1h0m1-9h0m0 4h0m0 1h0m0 1h0m0 1h0m0 1h0m0 1h0m1-9h0m0 3h0m0 1h0m0 0h0m1-8h0m0 2h0m0 0h0m0 2h0m0 1h0m0 6h0m1-11h0m0 6h0m0 2h0m1-10h0m0 0h0m0 0h0m0 1h0m0 1h0m0 9h0m1-12h0m0 8h0m1-10h0m0 1h0m0 6h0m0 3h0m0 1h0m0 1h0m1-11h0m0 2h0m0 1h0m0 0h0m0 2h0m0 5h0m1-12h0m0 0h0m0 4h0m0 7h0m0 0h0m1-12h0m0 4h0m0 0h0m0 2h0m0 3h0m0 1h0m0 1h0m1-13h0m0 0h0m0 1h0m0 1h0m0 2h0m0 1h0m0 1h0m0 1h0m0 0h0m0 1h0m0 1h0m1-7h0m0 1h0m0 4h0m0 1h0m0 3h0m0 0h0m0 1h0m1-12h0m0 2h0m0 2h0m0 1h0m0 2h0m0 4h0m1-9h0m0 1h0m0 1h0m0 1h0m0 1h0m0 0h0m0 3h0m1-10h0m0 4h0m0 1h0m1-4h0m0 1h0m0 0h0m0 2h0m0 1h0m1-10h0m0 0h0m0 4h0m0 1h0m0 1h0m1-3h0m0 0h0m0 1h0m0 1h0m0 2h0m0 1h0m0 1h0m1-11h0m0 4h0m0 0h0m0 1h0m0 1h0m0 2h0m0 4h0m1-13h0m0 13h0m0 0h0m1-13h0m0 4h0m0 1h0m0 1h0m0 5h0m0 1h0m0 0h0m1-13h0m0 7h0m1-9h0m0 2h0m0 3h0m0 4h0m0 4h0m0 0h0m1-14h0m0 1h0m0 0h0m0 5h0m0 1h0m0 3h0m0 0h0m1-10h0m0 1h0m0 4h0m0 0h0m0 2h0m0 1h0m0 0h0m0 1h0m0 2h0m0 0h0m0 0h0m0 1h0m1-11h0m0 0h0m0 3h0m0 2h0m0 1h0m0 1h0m1-9h0m0 1h0m0 2h0m0 3h0m0 2h0m0 0h0m0 4h0m1-13h0m0 7h0m0 0h0m1-8h0m0 8h0m0 1h0m0 1h0m0 1h0m1-12h0m0 3h0m0 2h0m0 1h0m0 1h0m0 5h0m1-14h0m0 5h0m0 1h0m0 4h0m0 2h0m1-12h0m0 0h0m1-1h0m0 1h0m0 4h0m0 3h0m0 1h0m0 1h0m0 1h0m0 1h0m1-13h0m0 0h0m0 2h0m0 3h0m0 2h0m0 5h0m1-5h0m0 2h0m1-13h0m0 1h0m0 0h0m0 0h0m0 1h0m0 0h0m0 1h0m0 0h0m0 3h0m0 1h0m0 2h0m0 0h0m0 1h0m0 0h0m0 0h0m1-11h0m0 2h0m0 4h0m0 0h0m0 2h0m0 3h0m1-7h0m0 1h0m0 0h0m0 2h0m0 3h0m0 0h0m0 2h0m1-12h0m0 2h0m0 0h0m0 1h0m0 2h0m0 1h0m0 3h0m0 0h0m0 1h0m1-12h0m0 1h0m0 0h0m0 1h0m0 6h0m0 1h0m0 0h0m0 2h0m0 1h0m0 0h0m1-12h0m0 1h0m0 0h0m0 1h0m0 1h0m0 1h0m0 1h0m0 2h0m0 1h0m0 3h0m1-13h0m0 3h0m0 0h0m0 1h0m0 0h0m0 1h0m0 4h0m0 1h0m1-12h0m0 2h0m0 3h0m0 1h0m0 2h0m0 5h0m1-1h0m0 1h0m1-13h0m0 1h0m0 1h0m0 3h0m0 1h0m0 1h0m0 0h0m0 2h0m0 0h0m1-12h0m0 1h0m0 3h0m0 1h0m0 2h0m0 1h0m0 1h0m0 1h0m0 0h0m0 1h0m1-8h0m0 1h0m0 1h0m0 1h0m0 1h0m0 3h0m0 1h0m1-11h0m0 2h0m0 0h0m0 2h0m0 2h0m0 1h0m0 2h0m0 0h0m0 1h0m1-11h0m0 1h0m0 1h0m0 3h0m0 0h0m0 2h0m0 0h0m0 3h0m1-11h0m0 1h0m0 1h0m0 0h0m0 2h0m0 1h0m0 4h0m0 1h0m0 2h0m0 0h0m1-12h0m0 1h0m0 0h0m0 0h0m0 3h0m0 5h0m0 2h0m0 0h0m1-13h0m0 2h0m0 1h0m0 4h0m1-7h0m0 1h0m0 1h0m0 1h0m0 5h0m1-9h0m0 1h0m0 2h0m0 2h0m0 0h0m0 1h0m0 1h0m0 4h0m1-12h0m0 2h0m0 0h0m0 3h0m0 2h0m0 1h0m0 2h0m0 0h0m1-11h0m0 2h0m0 1h0m0 5h0m1-11h0m0 7h0m1-8h0m0 1h0m0 1h0m0 1h0m0 2h0m0 2h0m0 0h0m0 2h0m1-9h0m0 1h0m0 0h0m0 1h0m0 1h0m0 3h0m0 0h0m0 0h0m0 2h0m1-8h0m0 0h0m0 1h0m0 2h0m0 0h0m0 1h0m0 0h0m0 2h0m0 2h0m0 1h0m1-8h0m0 3h0m0 1h0m0 4h0m1-11h0m0 1h0m0 5h0m0 1h0m0 0h0m0 2h0m0 1h0m1-12h0m0 3h0m0 1h0m0 0h0m0 1h0m0 0h0m0 3h0m0 3h0m1-12h0m0 6h0m0 1h0m1-8h0m0 3h0m0 0h0m0 1h0m0 0h0m0 2h0m0 0h0m0 1h0m0 1h0m0 2h0m0 1h0m0 1h0m0 0h0m1-8h0m0 3h0m0 1h0m0 1h0m0 1h0m0 1h0m1-14h0m0 6h0m0 0h0m0 2h0m0 2h0m0 0h0m0 1h0m0 3h0m1-13h0m0 2h0m0 0h0m0 3h0m0 1h0m1-7h0m0 2h0m0 0h0m0 1h0m0 1h0m0 7h0m0 1h0m0 0h0m1-15h0m0 3h0m0 1h0m0 1h0m0 2h0m0 2h0m0 0h0m0 0h0m0 5h0m1-14h0m0 1h0m0 3h0m0 9h0m0 0h0m1-13h0m0 2h0m0 0h0m0 5h0m0 1h0m0 0h0m0 1h0m0 2h0m0 1h0m1-15h0m0 5h0m0 0h0m0 4h0m0 0h0m0 1h0m0 2h0m1-9h0m0 2h0m0 0h0m0 2h0m0 2h0m0 0h0m0 0h0m0 1h0m0 1h0m0 2h0m0 0h0m1-14h0m0 2h0m0 1h0m0 3h0m0 0h0m0 1h0m0 1h0m0 1h0m1-10h0m0 4h0m0 1h0m0 1h0m0 5h0m0 0h0m1-11h0m0 1h0m0 8h0m0 2h0m1-13h0m0 1h0m0 5h0m0 0h0m0 2h0m0 1h0m0 1h0m0 1h0m0 0h0m1-9h0m0 1h0m0 0h0m0 2h0m0 1h0m0 3h0m0 2h0m1-12h0m0 1h0m0 3h0m0 3h0m0 3h0m0 3h0m1-15h0m0 4h0m0 4h0m0 3h0m1-9h0m0 1h0m0 0h0m0 3h0m0 2h0m0 3h0m1-13h0m0 2h0m0 2h0m0 0h0m0 1h0m0 2h0m0 0h0m0 1h0m0 3h0m0 1h0m0 0h0m1-11h0m0 2h0m0 0h0m0 1h0m0 1h0m0 3h0m0 2h0m0 1h0m1-13h0m0 1h0m0 2h0m0 2h0m0 3h0m0 0h0m0 0h0m0 5h0m1-13h0m0 3h0m0 5h0m0 4h0m0 0h0m0 0h0m1-4h0m0 0h0m0 1h0m1-7h0m0 3h0m0 1h0m0 1h0m0 3h0m1-11h0m0 3h0m0 0h0m0 1h0m0 0h0m0 3h0m1-5h0m1-3h0m0 1h0m0 2h0m0 2h0m0 0h0m1-9h0m0 2h0m0 1h0m0 2h0m0 0h0m0 0h0m0 0h0m0 0h0m0 3h0m0 1h0m0 0h0m0 3h0m1-9h0m0 1h0m0 0h0m0 0h0m0 1h0m0 4h0m1-11h0m0 8h0m0 0h0m0 1h0m1-6h0m0 5h0m1-8h0m0 1h0m0 0h0m0 2h0m0 4h0m0 0h0m0 2h0m0 0h0m0 1h0m1-5h0m0 0h0m0 2h0m1-12h0m0 4h0m0 1h0m0 1h0m0 2h0m0 3h0m0 1h0m0 1h0m0 0h0m0 0h0m1-12h0m0 1h0m0 1h0m0 1h0m0 4h0m0 1h0m1-11h0m0 1h0m0 10h0m0 3h0m1-13h0m0 3h0m0 2h0m0 5h0m1-10h0m0 0h0m0 0h0m0 4h0m0 0h0m0 0h0m0 4h0m0 1h0m0 0h0m1-11h0m0 3h0m0 5h0m0 2h0m0 1h0m1-14h0m0 1h0m0 3h0m0 2h0m0 0h0m0 3h0m0 3h0m0 0h0m1-12h0m0 1h0m0 2h0m0 3h0m0 1h0m0 2h0m0 2h0m1-12h0m0 6h0m0 1h0m0 0h0m0 2h0m0 2h0m1-9h0m0 2h0m0 2h0m0 1h0m0 2h0m0 1h0m1-8h0m0 5h0m0 2h0m1-12h0m0 3h0m0 4h0m0 0h0m0 2h0m0 0h0m0 2h0m1-7h0m1-6h0m0 5h0m0 1h0m0 0h0m0 1h0m0 2h0m0 0h0m0 2h0m1-12h0m0 3h0m0 2h0m0 3h0m0 1h0m1-7h0m0 1h0m0 1h0m0 1h0m0 3h0m0 2h0m1-13h0m0 2h0m0 6h0m1-7h0m0 0h0m0 3h0m0 2h0m0 4h0m0 0h0m0 2h0m1-12h0m0 0h0m0 0h0m0 1h0m0 0h0m0 1h0m0 3h0m0 2h0m0 4h0m1-9h0m0 2h0m0 2h0m0 1h0m0 1h0m0 3h0m1-13h0m0 0h0m0 2h0m0 3h0m0 2h0m0 0h0m0 1h0m1-10h0m0 9h0m0 1h0m0 0h0m0 0h0m0 0h0m0 2h0m0 0h0m1-11h0m0 6h0m0 1h0m0 3h0m1-7h0m1-6h0m0 0h0m0 1h0m0 2h0m0 7h0m0 1h0m0 0h0m0 0h0m1-13h0m0 0h0m0 4h0m0 0h0m0 5h0m0 1h0m0 1h0m0 1h0m1-11h0m0 2h0m0 3h0m0 2h0m0 1h0m0 2h0m1-12h0m0 5h0m0 2h0m0 0h0m0 0h0m0 2h0m0 0h0m1-8h0m0 2h0m0 1h0m0 1h0m0 1h0m0 0h0m0 2h0m0 1h0m1-11h0m0 2h0m0 3h0m0 0h0m0 3h0m0 2h0m1-12h0m0 4h0m0 1h0m0 2h0m0 2h0m0 1h0m0 1h0m0 3h0m0 0h0m0 0h0m1-8h0m0 1h0m0 4h0m0 0h0m1-13h0m0 9h0m0 3h0m1-7h0m0 4h0m0 1h0m0 0h0m1-11h0m0 1h0m0 1h0m0 4h0m0 0h0m0 0h0m0 3h0m0 1h0m0 0h0m0 0h0m0 1h0m0 0h0m1-12h0m0 0h0m0 6h0m0 1h0m0 1h0m0 0h0m0 4h0m0 1h0m1-16h0m0 6h0m0 2h0m0 3h0m1-10h0m0 2h0m0 0h0m1-2h0m0 3h0m0 0h0m0 6h0m0 1h0m0 1h0m0 2h0m1-14h0m0 7h0m0 1h0m0 2h0m1-10h0m0 9h0m0 0h0m0 0h0m0 0h0m1-11h0m0 10h0m0 0h0m0 3h0m1-16h0m0 0h0m0 0h0m0 1h0m0 0h0m0 12h0m0 1h0m1-4h0m0 3h0m1-13h0m0 11h0m1-16h0m0 0h0m0 1h0m0 2h0m0 0h0m0 10h0m0 4h0m0 0h0m1-15h0m0 10h0m0 1h0m0 1h0m0 1h0m0 0h0m0 1h0m0 0h0m1-15h0m0 1h0m0 10h0m0 2h0m0 1h0m1-18h0m0 14h0m1-13h0m0 0h0m0 13h0m0 0h0m0 3h0m1-16h0m0 1h0m0 12h0m1-15h0m0 13h0m0 0h0m0 2h0m0 1h0m1-20h0m0 1h0m0 0h0m0 17h0m0 0h0m0 0h0m1-19h0m0 1h0m0 3h0m0 0h0m0 0h0m0 0h0m0 14h0m1-18h0m0 1h0m0 1h0m0 0h0m1-1h0m0 16h0m0 1h0m1-21h0m0 3h0m0 17h0m0 0h0m0 1h0m1-21h0m0 1h0m0 0h0m1-3h0m0 21h0m0 0h0m1-23h0m1 0h0m1-1h0m1 21h0m0 1h0m1-26h0m0 24h0m1-23h0m0 23h0m1-1h0m1-1h0m1-2h0m1-25h0m1 24h0m6-31h0m1 27h0m1-30h0m1-3h0m2 29h0m4-3h0m3-36h0m3 33h0m0 0h0m0 1h0m2-40h0m0 37h0m0 0h0m1 0h0m2-2h0m1-1h0m1 0h0m1-42h0m0 40h0m1-1h0m3-2h0m1-43h0m4-3h0m0 42h0m1-45h0m1 44h0m1-46h0m3-3h0m7 40h0m4-3h0m15-14h0m1-2h0m3-52h0m12 32h0m2-38h0m2-1h0m4-1h0m0 26h0m1-3h0m1-1h0m1-21h0m0 19h0m1-21h0m0 1h0m0 20h0m1-5h0m2-14h0m0 3h0m0 1h0m0 2h0m0 0h0m0 1h0m0 1h0m0 5h0m1-7h0m0 3h0" stroke="#423f84"/>
<path d="M1766 1141h0m1-3h0m0 2h0m1-7h0m0 1h0m0 3h0m0 3h0m1-1h0m0 1h0m1-3h0m0 1h0m0 3h0m1-10h0m0 1h0m0 6h0m0 2h0m1-14h0m0 2h0m0 2h0m0 1h0m0 4h0m0 0h0m0 3h0m1-13h0m0 1h0m1-1h0m2-3h0m2-5h0m1 0h0m0 0h0m0 2h0m0 14h0m0 1h0m0 1h0m1-2h0m1-18h0m0 17h0m1-18h0m4 16h0m2-25h0m0 25h0m1-27h0m0 0h0m0 0h0m0 27h0m1-2h0m0 0h0m0 1h0m2-30h0m3-3h0m2-2h0m1-2h0m0 30h0m1-31h0m1-1h0m2 30h0m3-35h0m3 28h0m0 1h0m1-34h0m1 0h0m1-2h0m0 0h0m2-2h0m0 33h0m1-2h0m1-32h0m0 31h0m1 0h0m0 0h0m1-34h0m0 2h0m1-2h0m0 32h0m0 0h0m2-34h0m0 33h0m2-2h0m1-34h0m2-3h0m0 32h0m0 1h0m3-3h0m4-36h0m0 1h0m1 29h0m1-1h0m1-30h0m0 29h0m1-31h0m0 30h0m1 0h0m1-30h0m1-2h0m0 27h0m0 0h0m1-29h0m2 27h0m1-28h0m0 1h0m3-4h0m0 1h0m0 1h0m1-2h0m0 0h0m0 1h0m1 0h0m0 22h0m0 2h0m2-6h0m0 2h0m0 1h0m2-5h0m0 1h0m1-23h0m0 0h0m0 0h0m1 1h0m0 1h0m0 19h0m1 1h0m1-24h0m0 21h0m1-21h0m1 18h0m0 0h0m1-19h0m1 16h0m0 2h0m1-20h0m0 1h0m0 15h0m0 2h0m1-18h0m0 15h0m0 0h0m0 1h0m0 1h0m0 0h0m1-17h0m0 14h0m0 0h0m0 1h0m0 0h0m1-15h0m0 15h0m1-19h0m0 1h0m1 12h0m1-2h0m0 3h0m1-12h0m0 9h0m1-14h0m0 2h0m0 2h0m0 7h0m0 5h0m0 0h0m1-12h0m0 1h0m1-2h0m0 0h0m0 4h0m1-5h0m0 9h0m0 0h0m1-12h0m0 3h0m0 1h0m0 1h0m0 1h0m0 3h0m0 3h0m1-13h0m0 2h0m0 1h0m0 2h0m0 1h0m0 4h0m1-8h0m0 0h0m0 0h0m0 4h0m0 0h0m0 0h0m0 1h0m1-4h0m0 2h0m0 1h0m0 0h0m1-2h0m0 2h0m1-8h0m0 0h0m0 4h0m0 1h0m1-5h0m0 1h0m0 2h0m0 0h0m1 0h0m0 1h0m0 1h0m1-7h0m0 4h0m0 2h0m1-6h0m0 1h0m0 3h0m0 0h0m1-6h0m0 0h0m0 3h0m0 0h0m0 1h0m1-4h0m0 2h0m0 0h0m1-4h0m0 1h0m0 1h0m0 0h0m0 3h0m1-6h0m0 2h0m0 2h0m1-6h0m0 2h0m1 1h0m0 0h0m2-2h0m1-3h0m0 1h0m0 1h0m1 0h0m0 0h0m2-3h0m0 0h0m0 1h0m1-2h0m2-3h0m0 1h0m0 1h0m222-218h0m0 2h0m1-4h0m0 0h0m1-1h0m0 0h0m0 3h0m0 0h0m0 1h0m0 0h0m1-6h0m0 5h0m0 0h0m0 0h0m1-5h0m0 2h0m0 1h0m0 2h0m1-5h0m0 0h0m0 1h0m1-4h0m0 0h0m0 5h0m0 0h0m1-3h0m0 0h0m0 1h0m0 3h0m3-10h0m0 2h0m0 2h0m0 0h0m0 3h0m1-10h0m0 3h0m0 0h0m1-1h0m0 1h0m0 4h0m1-2h0m1-7h0m0 0h0m0 1h0m0 1h0m0 5h0m0 1h0m1-10h0m0 1h0m0 4h0m0 3h0m0 0h0m0 3h0m1-8h0m0 1h0m0 4h0m1-4h0m0 1h0m0 1h0m1-8h0m0 4h0m0 3h0m1-9h0m0 1h0m0 7h0m0 2h0m0 1h0m1-10h0m0 0h0m0 0h0m0 1h0m0 5h0m0 0h0m0 0h0m0 2h0m0 0h0m0 2h0m1-4h0m0 1h0m1-9h0m0 8h0m0 0h0m1-11h0m0 1h0m1-5h0m1-1h0m0 1h0m0 14h0m0 1h0m1-15h0m0 14h0m0 0h0m0 0h0m1-16h0m1 17h0m1-20h0m0 0h0m0 18h0m1-21h0m0 2h0m1-4h0m0 21h0m0 1h0m0 1h0m2-1h0m1-25h0m0 24h0m1-25h0m1-2h0m1 24h0m1-25h0m0 23h0m0 2h0m3-29h0m0 25h0m0 1h0m1-1h0m1-27h0m0 0h0m1-1h0m1 27h0m1-1h0m1-1h0m9-40h0m4 32h0m6-6h0m0 0h0m5-45h0m0 0h0m0 41h0m1 0h0m4-4h0m3-3h0m1-44h0m1 43h0m1-1h0m2-1h0m1-1h0m13-59h0m0 0h0m3 44h0m10-12h0m3-4h0m3-4h0m1-3h0m5-36h0m0 0h0m2 0h0m2 0h0m0 21h0m3-16h0m0 1h0m0 2h0m0 3h0m0 2h0m1-12h0m0 3h0m0 0h0m0 1h0m0 0h0m0 1h0m0 0h0m0 2h0m0 1h0m0 2h0m1-9h0m0 2h0m0 3h0" stroke="#3f4888"/>
<path d="M1774 1127h0m0 1h0m0 1h0m0 6h0m1-10h0m0 0h0m0 3h0m0 4h0m1-9h0m1 1h0m0 2h0m1-4h0m0 3h0m0 4h0m0 3h0m0 1h0m0 1h0m2-17h0m0 0h0m0 3h0m0 2h0m0 7h0m0 2h0m1-13h0m0 10h0m1-13h0m0 1h0m0 2h0m1-3h0m0 15h0m0 1h0m1-17h0m1-1h0m0 15h0m1-19h0m0 2h0m0 17h0m2-22h0m0 1h0m0 19h0m1-21h0m0 21h0m1-21h0m0 20h0m0 0h0m0 1h0m0 0h0m1-23h0m0 23h0m1-24h0m0 0h0m0 22h0m1-24h0m0 23h0m1 0h0m1-26h0m1-2h0m3-2h0m1-2h0m2-2h0m0 1h0m0 28h0m2-31h0m1 29h0m1-1h0m4-6h0m0 1h0m1-1h0m0 0h0m1-30h0m0 0h0m0 28h0m2-30h0m1 0h0m1 27h0m1-30h0m1 28h0m0 1h0m1-31h0m0 29h0m0 1h0m0 0h0m1-30h0m0 29h0m1-31h0m0 1h0m0 28h0m0 1h0m2-32h0m0 0h0m0 29h0m2-2h0m0 0h0m0 1h0m2-31h0m1 27h0m1-28h0m2 25h0m1-28h0m1 25h0m0 1h0m1-28h0m0 1h0m1 24h0m1-2h0m2-26h0m0 24h0m1-25h0m1-1h0m1 0h0m0 0h0m0 23h0m1-25h0m0 2h0m0 0h0m0 0h0m0 0h0m1 20h0m0 1h0m0 0h0m1-22h0m2-3h0m1-1h0m0 1h0m0 1h0m0 17h0m0 2h0m1-21h0m0 1h0m0 17h0m0 1h0m1-20h0m0 18h0m1-19h0m0 19h0m1-19h0m0 2h0m1-2h0m1-1h0m0 15h0m1-17h0m0 2h0m1-2h0m0 2h0m0 0h0m0 11h0m0 1h0m1-2h0m0 1h0m0 0h0m1-14h0m0 2h0m0 0h0m0 1h0m1-4h0m0 1h0m0 0h0m0 1h0m0 10h0m0 0h0m0 1h0m1-15h0m0 2h0m0 0h0m0 1h0m0 8h0m0 2h0m0 1h0m1-14h0m0 0h0m0 1h0m0 0h0m0 2h0m0 0h0m0 2h0m0 5h0m0 3h0m1-14h0m0 2h0m0 2h0m0 0h0m0 1h0m0 0h0m0 3h0m0 2h0m0 3h0m1-9h0m0 0h0m0 1h0m0 7h0m1-10h0m0 3h0m0 1h0m0 0h0m0 1h0m0 2h0m1-9h0m0 2h0m0 1h0m0 4h0m0 1h0m0 1h0m0 1h0m1-12h0m0 1h0m0 1h0m0 0h0m0 2h0m0 2h0m0 1h0m0 1h0m1-7h0m0 0h0m0 1h0m0 2h0m0 0h0m1-1h0m0 1h0m0 1h0m0 0h0m0 1h0m0 1h0m1-6h0m0 0h0m0 1h0m0 0h0m0 0h0m0 1h0m1 0h0m0 1h0m1-3h0m270-264h0m0 1h0m0 0h0m0 2h0m1-6h0m0 6h0m1-5h0m0 1h0m0 3h0m0 0h0m1-10h0m0 2h0m0 0h0m0 2h0m0 0h0m0 0h0m0 1h0m0 1h0m0 3h0m0 2h0m1-11h0m0 1h0m0 2h0m0 6h0m0 1h0m1-13h0m0 0h0m0 0h0m0 2h0m0 1h0m0 1h0m0 1h0m0 1h0m0 4h0m0 2h0m1-9h0m0 0h0m0 4h0m0 1h0m0 0h0m0 2h0m0 1h0m0 2h0m1-5h0m0 0h0m0 1h0m1-9h0m1-4h0m0 1h0m0 12h0m1 0h0m0 1h0m2-1h0m1-3h0m0 1h0m0 1h0m0 0h0m0 0h0m1-18h0m0 0h0m1 17h0m1-21h0m0 1h0m1-3h0m0 2h0m0 1h0m0 19h0m1-23h0m0 2h0m0 19h0m1-21h0m1-1h0m0 21h0m1-1h0m0 0h0m1-23h0m0 22h0m1-24h0m0 23h0m0 2h0m1-26h0m1-2h0m0 2h0m1-3h0m3 25h0m2-1h0m1-2h0m2-32h0m3-3h0m1 31h0m3-36h0m4-5h0m2-4h0m1 37h0m2-1h0m5-44h0m0 40h0m7-6h0m1-43h0m2 41h0m1-1h0m8-8h0m21-59h0m0 34h0m3-5h0m1-30h0m0 29h0m1-3h0m1-26h0m0 1h0m1 0h0m0 0h0m1 20h0m2-22h0m0 1h0m0 17h0m1-15h0m0 10h0m0 4h0m1-16h0m0 0h0m0 3h0m0 0h0m1 0h0m0 2h0m0 1h0m0 0h0m0 4h0" stroke="#3c4f89"/>
<path d="M1779 1123h0m1 4h0m1-6h0m0 0h0m0 3h0m0 3h0m1-6h0m0 3h0m1-6h0m1-4h0m0 2h0m0 2h0m1-4h0m0 1h0m0 10h0m2 1h0m1-17h0m0 1h0m0 14h0m1-17h0m0 3h0m0 13h0m0 2h0m1-20h0m0 2h0m0 16h0m1-1h0m0 0h0m1 0h0m0 0h0m1-19h0m0 18h0m1-19h0m1-3h0m0 23h0m1-25h0m0 24h0m1-1h0m0 0h0m1-26h0m0 2h0m0 24h0m1-2h0m1-25h0m0 1h0m0 24h0m1-27h0m0 0h0m0 27h0m1-29h0m0 2h0m2 23h0m1-27h0m1 24h0m0 1h0m0 0h0m1-1h0m2-1h0m1-28h0m0 26h0m2-28h0m0 1h0m1 25h0m1-1h0m1-27h0m0 26h0m0 1h0m1-29h0m0 0h0m0 27h0m1-27h0m0 26h0m2-2h0m1-2h0m0 1h0m1-2h0m2-28h0m1 0h0m0 0h0m0 0h0m0 25h0m0 1h0m1-27h0m0 0h0m0 1h0m0 25h0m0 1h0m1-27h0m0 0h0m1-2h0m1 24h0m1-26h0m0 1h0m0 25h0m1-26h0m0 1h0m1-1h0m1-2h0m0 0h0m0 23h0m0 1h0m1-25h0m0 22h0m0 1h0m0 0h0m0 1h0m1-23h0m0 0h0m0 0h0m1 19h0m1-21h0m0 0h0m3-3h0m0 20h0m1-20h0m0 19h0m1-3h0m0 1h0m0 1h0m1-21h0m0 18h0m1 0h0m1-2h0m0 2h0m1-19h0m0 1h0m0 13h0m0 3h0m1-16h0m0 13h0m0 0h0m1-16h0m0 0h0m0 1h0m0 2h0m0 11h0m0 1h0m0 2h0m1-17h0m0 0h0m0 2h0m0 1h0m0 9h0m0 1h0m0 0h0m0 1h0m1-14h0m0 2h0m0 0h0m0 8h0m0 3h0m0 0h0m1-11h0m0 1h0m0 0h0m0 7h0m0 0h0m0 1h0m0 1h0m1-14h0m0 1h0m0 0h0m0 1h0m0 2h0m0 0h0m0 1h0m0 1h0m0 3h0m0 1h0m0 0h0m0 2h0m0 0h0m0 0h0m1-11h0m0 2h0m0 3h0m0 1h0m0 2h0m1-8h0m0 2h0m0 2h0m0 1h0m0 0h0m1-8h0m0 0h0m0 1h0m0 2h0m0 2h0m0 1h0m1-5h0m0 8h0m1-10h0m0 1h0m0 2h0m0 1h0m0 3h0m0 1h0m0 1h0m0 1h0m1-10h0m0 1h0m0 1h0m0 0h0m1-3h0m0 1h0m0 0h0m0 3h0m0 0h0m0 2h0m1-4h0m0 2h0m0 0h0m0 1h0m1-4h0m0 1h0m0 0h0m0 1h0m286-281h0m1 0h0m1 0h0m0 1h0m0 1h0m0 1h0m0 0h0m1-7h0m0 3h0m0 0h0m0 3h0m0 1h0m1-10h0m0 1h0m0 4h0m0 4h0m1-10h0m0 5h0m0 2h0m1-8h0m0 2h0m0 2h0m0 7h0m1-12h0m0 2h0m0 8h0m1-2h0m0 2h0m0 0h0m1-15h0m0 3h0m0 1h0m1 10h0m0 0h0m1-16h0m0 16h0m1 0h0m1-18h0m0 0h0m1 0h0m0 0h0m0 15h0m2 0h0m1-22h0m0 2h0m1 19h0m2-25h0m1 0h0m0 0h0m0 22h0m0 0h0m1-1h0m1-25h0m1 1h0m1-4h0m0 2h0m1-2h0m2-2h0m2-3h0m2-3h0m1 29h0m1-30h0m0 29h0m1 0h0m3-35h0m1 32h0m4-38h0m2 34h0m0 0h0m3-2h0m1-38h0m1 36h0m9-7h0m1-43h0m4-4h0m11-11h0m2 41h0m7-10h0m2-37h0m0 34h0m6-10h0m1-25h0m1 0h0m0 20h0m2-22h0m0 18h0m0 0h0m0 1h0m0 1h0m1-19h0m0 0h0m0 17h0m1-5h0m0 0h0m1-12h0m0 1h0m0 1h0m0 1h0m0 2h0m0 4h0m0 1h0m0 0h0m0 3h0m1-11h0m0 2h0m0 0h0m0 1h0m0 0h0m1-4h0m0 1h0m0 2h0m0 1h0m0 0h0m0 1h0m0 0h0m0 2h0" stroke="#39578b"/>
<path d="M1784 1119h0m0 1h0m1-1h0m0 1h0m1-4h0m0 0h0m0 1h0m0 2h0m0 0h0m0 0h0m0 0h0m0 2h0m0 0h0m0 0h0m1-7h0m0 1h0m0 2h0m0 2h0m1-5h0m0 1h0m0 0h0m0 0h0m0 4h0m0 2h0m0 1h0m1-13h0m0 1h0m0 3h0m0 8h0m0 1h0m1-2h0m0 1h0m0 1h0m1-15h0m0 1h0m0 13h0m0 1h0m1-15h0m0 13h0m0 0h0m1-16h0m0 16h0m0 0h0m1-18h0m0 1h0m0 1h0m0 16h0m0 0h0m1-19h0m0 1h0m1-2h0m0 1h0m0 0h0m0 0h0m0 16h0m0 1h0m0 0h0m1-21h0m0 20h0m1 0h0m4-4h0m0 0h0m1-1h0m1-22h0m0 1h0m0 20h0m0 1h0m0 0h0m0 1h0m1-2h0m1-24h0m0 1h0m0 1h0m0 22h0m1-1h0m2-2h0m1-23h0m0 22h0m1-2h0m0 0h0m0 0h0m1-22h0m0 21h0m0 1h0m1-24h0m1-2h0m0 2h0m0 0h0m0 21h0m0 1h0m1-1h0m0 0h0m2-25h0m0 1h0m0 21h0m0 1h0m0 0h0m1-24h0m0 22h0m1 0h0m0 1h0m0 0h0m1-25h0m0 1h0m0 1h0m0 20h0m0 1h0m1-23h0m0 0h0m0 1h0m0 20h0m1-23h0m1 0h0m0 1h0m0 21h0m2-24h0m0 22h0m0 0h0m1-22h0m0 21h0m1-1h0m0 0h0m1-23h0m0 1h0m0 20h0m1-21h0m0 0h0m0 21h0m0 0h0m1-22h0m1 0h0m0 0h0m3-4h0m0 19h0m0 1h0m1-4h0m0 1h0m1-16h0m1 14h0m0 0h0m1-3h0m0 2h0m0 2h0m1-4h0m0 1h0m0 0h0m1-17h0m0 14h0m0 0h0m1-14h0m0 1h0m0 1h0m0 1h0m0 11h0m0 1h0m1-12h0m0 7h0m0 3h0m1-13h0m0 1h0m0 0h0m0 9h0m0 0h0m1-12h0m0 4h0m0 1h0m0 5h0m0 2h0m1-11h0m0 1h0m0 2h0m0 0h0m0 1h0m1-5h0m0 0h0m0 2h0m0 1h0m0 1h0m0 1h0m0 3h0m1-7h0m0 2h0m0 1h0m0 1h0m0 1h0m0 0h0m1-6h0m0 6h0m1-7h0m0 0h0m0 3h0m0 2h0m0 1h0m1-6h0m0 1h0m0 1h0m0 2h0m1-4h0m0 1h0m0 1h0m302-297h0m0 1h0m1-1h0m0 0h0m0 3h0m1-7h0m0 5h0m0 0h0m0 1h0m0 0h0m0 0h0m1-5h0m0 3h0m0 0h0m0 2h0m0 1h0m1-6h0m0 0h0m0 1h0m0 5h0m1-6h0m0 4h0m0 1h0m0 0h0m1-11h0m0 0h0m0 4h0m0 4h0m0 1h0m0 2h0m1-13h0m0 0h0m0 1h0m0 1h0m1-4h0m1-1h0m1-1h0m0 14h0m0 1h0m1-17h0m0 14h0m1 1h0m0 1h0m1-18h0m0 0h0m0 17h0m1-20h0m1-1h0m0 0h0m0 20h0m0 0h0m1-21h0m0 1h0m0 0h0m0 0h0m0 20h0m1-2h0m1 0h0m1 1h0m1-24h0m0 22h0m6-31h0m0 27h0m2-30h0m6-6h0m3 28h0m2-35h0m0 33h0m2-36h0m0 1h0m1 34h0m13-50h0m1-2h0m1 39h0m0 1h0m2-42h0m3-4h0m1-1h0m1-1h0m0 41h0m3-43h0m1-2h0m0 40h0m4-43h0m3-2h0m1 36h0m2-37h0m0 33h0m3-4h0m1-3h0m0 1h0m2-2h0m1-26h0m0 23h0m1-23h0m0 0h0m0 1h0m0 19h0m0 1h0m1-3h0m0 2h0m1-5h0m0 2h0m1-14h0m0 9h0m0 1h0m0 0h0m0 1h0m1-12h0m0 7h0m0 1h0m0 1h0m1-9h0m0 2h0m0 5h0m0 1h0m1-7h0m0 2h0m0 2h0" stroke="#355e8d"/>
<path d="M1789 1117h0m1-3h0m0 0h0m0 0h0m0 2h0m0 1h0m0 1h0m0 0h0m1-5h0m0 4h0m0 2h0m1-11h0m0 1h0m0 1h0m0 0h0m0 0h0m0 1h0m0 2h0m0 0h0m0 2h0m0 0h0m0 1h0m0 0h0m0 1h0m0 0h0m0 0h0m0 1h0m0 0h0m1-10h0m0 1h0m0 1h0m0 1h0m0 2h0m0 1h0m0 3h0m1-13h0m0 2h0m0 0h0m0 1h0m0 11h0m1-14h0m0 12h0m0 0h0m0 1h0m1-15h0m0 13h0m1-16h0m0 1h0m0 16h0m0 0h0m0 0h0m1-17h0m0 1h0m1-1h0m1-1h0m0 0h0m0 15h0m1-16h0m0 15h0m0 2h0m1-20h0m0 0h0m0 1h0m0 17h0m0 0h0m0 1h0m0 0h0m1-20h0m0 1h0m0 17h0m1-20h0m0 1h0m0 0h0m0 17h0m1-18h0m0 0h0m0 1h0m0 18h0m1-2h0m1-19h0m0 0h0m1 17h0m0 1h0m0 0h0m1-20h0m0 1h0m0 0h0m0 18h0m1-20h0m0 18h0m0 1h0m0 0h0m0 1h0m1-21h0m0 0h0m0 0h0m0 18h0m0 0h0m0 1h0m1-20h0m0 1h0m0 18h0m0 0h0m0 0h0m1-20h0m0 0h0m0 18h0m0 0h0m0 1h0m0 1h0m1-20h0m0 18h0m0 1h0m1-19h0m0 16h0m0 1h0m0 1h0m1-19h0m0 16h0m1-19h0m0 0h0m0 18h0m0 1h0m1-20h0m0 1h0m0 18h0m0 0h0m1-18h0m0 16h0m0 1h0m0 0h0m0 1h0m2-21h0m0 18h0m0 1h0m2-20h0m0 0h0m0 17h0m1-19h0m0 17h0m0 1h0m1-19h0m0 0h0m0 17h0m1 0h0m1-1h0m1-18h0m0 0h0m0 17h0m1-2h0m2-16h0m0 0h0m0 12h0m0 2h0m1-17h0m0 0h0m0 1h0m0 1h0m1-2h0m0 0h0m0 0h0m0 13h0m0 2h0m1-16h0m0 14h0m1-15h0m0 1h0m0 0h0m0 11h0m0 2h0m1-13h0m0 1h0m0 1h0m0 8h0m0 3h0m1-15h0m0 1h0m0 0h0m0 0h0m0 1h0m0 6h0m0 0h0m1-7h0m0 0h0m0 6h0m0 1h0m0 0h0m0 0h0m0 1h0m0 2h0m0 0h0m1-11h0m0 2h0m0 1h0m0 5h0m1-7h0m0 0h0m0 0h0m0 1h0m0 1h0m0 1h0m0 0h0m0 1h0m0 1h0m0 1h0m0 0h0m0 1h0m0 0h0m1-8h0m0 6h0m1-7h0m0 1h0m0 1h0m1-3h0m0 2h0m0 0h0m0 1h0m0 1h0m0 0h0m0 1h0m0 0h0m1-4h0m0 2h0m315-310h0m0 1h0m1-2h0m0 3h0m0 2h0m1-1h0m0 1h0m1-9h0m0 1h0m0 4h0m0 2h0m1-9h0m0 2h0m0 1h0m1-4h0m0 9h0m0 1h0m1-13h0m0 2h0m0 1h0m0 3h0m0 5h0m0 2h0m1-14h0m0 0h0m0 3h0m0 0h0m0 9h0m0 2h0m2-17h0m0 0h0m0 2h0m1-3h0m0 16h0m1-17h0m0 0h0m0 16h0m1 0h0m0 1h0m1-20h0m2 18h0m0 0h0m1-22h0m1 21h0m1-24h0m0 0h0m0 23h0m2-26h0m3-3h0m0 0h0m1-1h0m0 26h0m2-29h0m0 27h0m2-30h0m1 28h0m6-4h0m0 1h0m5-39h0m0 34h0m1-36h0m0 36h0m1-37h0m2 35h0m8-8h0m1-1h0m0 1h0m3-42h0m2 36h0m1-39h0m1 0h0m0 38h0m1-39h0m12-8h0m2 27h0m1-2h0m1-26h0m0 25h0m1-24h0m1 19h0m0 1h0m1-20h0m0 1h0m0 16h0m0 1h0m1-15h0m0 9h0m0 1h0m0 0h0m0 1h0m0 0h0m1-13h0m0 0h0m0 1h0m0 0h0m0 1h0m0 3h0m0 1h0m0 2h0m0 2h0m0 0h0m0 0h0m0 0h0m0 2h0m1-12h0m0 1h0m0 1h0m0 0h0m0 0h0m0 3h0m0 0h0m0 1h0m0 1h0m1-5h0m0 2h0m0 3h0" stroke="#32658d"/>
<path d="M1793 1111h0m0 1h0m1-3h0m0 1h0m0 4h0m1-7h0m0 0h0m0 3h0m0 0h0m0 2h0m1-7h0m0 2h0m0 1h0m0 1h0m0 1h0m0 0h0m0 2h0m0 1h0m0 1h0m1-11h0m0 0h0m0 0h0m0 1h0m0 1h0m0 2h0m0 3h0m0 0h0m0 1h0m0 0h0m0 1h0m0 1h0m0 0h0m1-11h0m0 1h0m0 1h0m0 6h0m0 1h0m1-12h0m0 1h0m0 1h0m0 0h0m0 0h0m0 0h0m0 0h0m0 0h0m0 1h0m0 0h0m0 0h0m0 1h0m0 8h0m0 0h0m0 1h0m1-13h0m0 0h0m0 0h0m0 1h0m0 0h0m1-3h0m0 0h0m0 1h0m0 12h0m1-14h0m0 0h0m0 1h0m1-3h0m0 1h0m0 1h0m0 0h0m0 0h0m0 0h0m0 12h0m0 0h0m0 1h0m0 0h0m0 1h0m1-15h0m0 1h0m0 12h0m0 1h0m1-16h0m0 0h0m0 0h0m0 1h0m0 1h0m0 11h0m0 1h0m1-1h0m1-15h0m0 1h0m0 12h0m0 0h0m2-15h0m0 14h0m0 1h0m0 0h0m0 0h0m1-15h0m0 13h0m0 1h0m0 1h0m1-18h0m0 1h0m0 13h0m0 1h0m0 1h0m0 0h0m1-2h0m0 1h0m1-15h0m0 13h0m0 1h0m0 0h0m0 0h0m0 1h0m1-15h0m0 13h0m0 0h0m1-15h0m0 12h0m0 0h0m0 1h0m0 1h0m0 1h0m1-17h0m0 0h0m0 1h0m0 13h0m1-15h0m0 1h0m0 13h0m1-15h0m1-1h0m0 14h0m0 0h0m0 2h0m1-18h0m0 1h0m0 1h0m0 0h0m0 12h0m0 2h0m1-16h0m0 0h0m0 1h0m0 1h0m1-3h0m0 1h0m0 12h0m0 2h0m1-15h0m0 0h0m0 1h0m0 12h0m0 0h0m0 0h0m1-14h0m0 0h0m0 1h0m0 12h0m1-15h0m0 2h0m0 0h0m0 12h0m0 1h0m0 0h0m0 0h0m0 1h0m1-3h0m1-14h0m0 1h0m0 11h0m0 0h0m0 1h0m0 0h0m0 1h0m0 0h0m0 0h0m0 0h0m1-13h0m0 10h0m0 0h0m0 0h0m0 1h0m0 0h0m1-13h0m0 0h0m0 0h0m0 0h0m0 1h0m0 9h0m0 3h0m1-12h0m0 0h0m0 0h0m0 8h0m0 1h0m1-11h0m0 7h0m0 1h0m0 1h0m0 1h0m0 1h0m0 1h0m1-13h0m0 0h0m0 3h0m0 0h0m0 2h0m0 2h0m0 2h0m0 2h0m0 0h0m1-11h0m0 0h0m0 0h0m0 0h0m0 2h0m0 1h0m0 0h0m0 0h0m0 3h0m0 0h0m0 1h0m0 1h0m0 0h0m1-8h0m0 0h0m0 0h0m0 1h0m0 0h0m0 0h0m0 1h0m0 2h0m0 2h0m0 0h0m0 1h0m0 1h0m1-7h0m0 0h0m0 4h0m0 0h0m0 1h0m1-7h0m0 2h0m0 1h0m0 0h0m0 0h0m0 0h0m1-3h0m0 3h0m1-2h0m0 1h0m327-318h0m1-4h0m0 2h0m0 0h0m1-6h0m0 2h0m0 1h0m0 0h0m0 3h0m0 0h0m0 3h0m0 0h0m1-4h0m0 2h0m1-11h0m0 0h0m0 1h0m0 9h0m1-11h0m1-2h0m0 0h0m0 15h0m1-1h0m0 0h0m1-16h0m1 14h0m0 1h0m1-19h0m0 1h0m1-3h0m1-2h0m0 22h0m0 0h0m1-1h0m1 0h0m2-25h0m0 23h0m1-24h0m0 23h0m2 0h0m1-27h0m0 25h0m1 0h0m0 0h0m0 0h0m2-28h0m0 26h0m1-1h0m1-1h0m1 0h0m1-30h0m0 1h0m2 27h0m2-33h0m7 26h0m2-2h0m5-4h0m2-2h0m2-2h0m0 1h0m2-38h0m3-4h0m0 36h0m4-2h0m3-40h0m4-1h0m0 30h0m0 1h0m1-32h0m0 29h0m1-29h0m3 22h0m1-22h0m0 22h0m1-5h0m1-17h0m0 1h0m0 14h0m0 0h0m1-12h0m0 2h0m0 5h0m0 2h0m0 2h0m0 1h0m1-10h0m0 2h0m0 0h0m0 1h0m0 1h0m1-4h0m0 1h0" stroke="#2f6d8e"/>
<path d="M1798 1104h0m0 1h0m0 1h0m0 1h0m0 0h0m0 2h0m0 0h0m1-5h0m0 1h0m0 1h0m0 1h0m0 0h0m0 0h0m0 1h0m1-6h0m0 0h0m0 0h0m0 3h0m0 0h0m0 0h0m0 0h0m0 1h0m0 1h0m0 0h0m0 0h0m0 1h0m0 0h0m0 1h0m1-8h0m0 1h0m0 2h0m0 1h0m0 0h0m0 3h0m1-10h0m0 0h0m0 1h0m0 3h0m0 3h0m0 0h0m0 1h0m0 0h0m0 1h0m0 2h0m1-12h0m0 2h0m0 0h0m0 0h0m0 0h0m0 1h0m0 0h0m0 0h0m0 1h0m0 0h0m0 2h0m0 0h0m0 1h0m0 1h0m0 2h0m0 0h0m1-10h0m0 1h0m0 3h0m0 1h0m0 2h0m0 0h0m0 1h0m0 0h0m0 2h0m0 0h0m1-12h0m0 1h0m0 0h0m0 0h0m0 1h0m0 0h0m0 2h0m0 1h0m0 0h0m0 1h0m0 1h0m0 1h0m0 1h0m0 1h0m0 0h0m1-9h0m0 1h0m0 0h0m0 1h0m0 0h0m0 1h0m0 2h0m0 0h0m0 0h0m0 2h0m0 1h0m1-11h0m0 1h0m0 1h0m0 0h0m0 1h0m0 1h0m0 0h0m0 0h0m0 2h0m0 1h0m0 0h0m0 1h0m0 1h0m0 1h0m0 0h0m0 0h0m0 0h0m0 1h0m1-11h0m0 0h0m0 0h0m0 1h0m0 3h0m0 1h0m0 3h0m0 2h0m1-11h0m0 0h0m0 0h0m0 3h0m0 1h0m0 0h0m0 1h0m0 1h0m0 2h0m1-10h0m0 0h0m0 1h0m0 1h0m0 1h0m0 1h0m0 2h0m0 0h0m0 1h0m0 0h0m0 3h0m1-11h0m0 0h0m0 2h0m0 2h0m0 0h0m0 2h0m0 0h0m0 1h0m0 0h0m0 3h0m0 1h0m1-12h0m0 0h0m0 2h0m0 0h0m0 0h0m0 0h0m0 4h0m0 2h0m0 2h0m1-11h0m0 1h0m0 0h0m0 3h0m0 1h0m0 1h0m0 1h0m0 1h0m0 0h0m0 2h0m0 0h0m1-10h0m0 1h0m0 0h0m0 0h0m0 1h0m0 0h0m0 0h0m0 0h0m0 1h0m0 6h0m1-11h0m0 1h0m0 0h0m0 3h0m0 1h0m0 0h0m0 1h0m0 2h0m0 1h0m0 2h0m1-11h0m0 0h0m0 1h0m0 1h0m0 1h0m0 1h0m0 1h0m0 2h0m0 0h0m0 0h0m0 0h0m0 1h0m0 0h0m0 1h0m0 0h0m0 1h0m1-11h0m0 3h0m0 1h0m0 1h0m0 0h0m0 1h0m0 2h0m0 1h0m0 0h0m0 0h0m0 1h0m1-8h0m0 1h0m0 3h0m0 1h0m0 1h0m0 1h0m1-10h0m0 0h0m0 0h0m0 1h0m0 1h0m0 0h0m0 1h0m0 1h0m0 0h0m0 2h0m0 1h0m0 0h0m0 1h0m0 1h0m1-11h0m0 1h0m0 1h0m0 0h0m0 0h0m0 0h0m0 0h0m0 1h0m0 2h0m0 1h0m0 0h0m1-8h0m0 1h0m0 1h0m0 2h0m0 0h0m0 0h0m0 1h0m0 1h0m0 1h0m0 0h0m0 1h0m0 1h0m0 1h0m0 1h0m0 0h0m1-9h0m0 3h0m0 4h0m0 0h0m0 0h0m0 0h0m1-10h0m0 1h0m0 0h0m0 1h0m0 0h0m0 1h0m0 4h0m0 4h0m1-12h0m0 1h0m0 1h0m0 1h0m0 0h0m0 0h0m0 1h0m0 0h0m0 1h0m0 1h0m0 0h0m0 1h0m0 1h0m0 1h0m0 0h0m0 0h0m0 1h0m0 1h0m1-12h0m0 3h0m0 3h0m0 2h0m1-6h0m0 1h0m0 1h0m0 1h0m0 0h0m0 0h0m0 0h0m0 1h0m0 0h0m0 0h0m0 1h0m0 0h0m0 1h0m0 0h0m0 2h0m1-11h0m0 0h0m0 1h0m0 1h0m0 2h0m0 1h0m0 0h0m0 0h0m0 0h0m0 1h0m0 0h0m0 2h0m0 0h0m0 0h0m1-8h0m0 1h0m0 3h0m0 1h0m0 0h0m0 1h0m0 1h0m0 0h0m1-8h0m0 1h0m0 1h0m0 1h0m0 1h0m0 1h0m0 1h0m0 1h0m1-8h0m0 1h0m0 1h0m0 1h0m0 0h0m1-3h0m0 0h0m0 0h0m0 2h0m0 1h0m0 1h0m1-3h0m0 0h0m337-331h0m0 1h0m0 4h0m0 1h0m0 1h0m1-8h0m0 1h0m0 6h0m1-9h0m0 3h0m0 0h0m0 4h0m0 1h0m0 0h0m0 1h0m0 0h0m0 1h0m1-10h0m1-4h0m0 12h0m0 1h0m0 0h0m1-2h0m2-16h0m0 1h0m0 0h0m0 14h0m1 0h0m1-17h0m0 0h0m1-2h0m0 19h0m1-2h0m1 0h0m0 0h0m1-21h0m3-3h0m0 22h0m1-24h0m1-1h0m0 24h0m2-26h0m0 24h0m1-26h0m3 24h0m0 0h0m2-31h0m2-2h0m6 25h0m2-34h0m1-1h0m0 32h0m1 0h0m1-1h0m1 0h0m1-35h0m0 0h0m0 0h0m0 33h0m2-35h0m4 30h0m2-36h0m1-2h0m1 34h0m2-36h0m1-2h0m0 35h0m0 0h0m1-36h0m2-1h0m1 0h0m2-1h0m0 29h0m0 2h0m1-32h0m1 27h0m3-27h0m0 0h0m1 1h0m0 19h0m0 2h0m1-21h0m1-1h0m0 1h0m0 1h0m0 15h0m1-15h0m0 2h0m0 0h0m0 4h0m0 2h0m0 4h0m1-11h0m0 2h0m0 0h0m0 1h0m0 1h0m0 1h0m0 1h0" stroke="#2c748e"/>
<path d="M2171 742h0m1 1h0m0 1h0m0 1h0m0 1h0m0 0h0m1-7h0m0 1h0m0 1h0m0 2h0m0 2h0m0 0h0m0 1h0m1-7h0m0 4h0m0 3h0m1-11h0m0 1h0m0 1h0m0 6h0m0 3h0m0 0h0m1-14h0m0 5h0m0 7h0m1-11h0m0 1h0m0 10h0m0 1h0m1-15h0m0 13h0m0 1h0m1-15h0m0 1h0m1-2h0m2-3h0m0 17h0m1-1h0m1-19h0m0 1h0m0 18h0m1-21h0m0 20h0m1-20h0m1-1h0m1 19h0m5-27h0m1-2h0m0 26h0m1-1h0m1-27h0m1-1h0m1-2h0m1-2h0m0 1h0m1-1h0m6 23h0m1-31h0m0 0h0m2 29h0m2-33h0m1 30h0m1-1h0m0 0h0m1-32h0m2-3h0m0 33h0m1-34h0m1-1h0m4-4h0m0 1h0m5-4h0m0 29h0m2-30h0m2 0h0m0 24h0m0 1h0m1-25h0m0 22h0m0 1h0m2-23h0m0 19h0m2-19h0m0 13h0m0 0h0m1-11h0m0 2h0m0 0h0m0 6h0m0 2h0m0 0h0m1-8h0m0 1h0m0 2h0" stroke="#297b8e"/>
<path d="M2175 738h0m0 1h0m0 2h0m1 0h0m0 1h0m1-6h0m0 0h0m0 2h0m0 2h0m0 0h0m0 2h0m0 0h0m1-8h0m0 6h0m0 1h0m1-8h0m0 7h0m0 2h0m1-13h0m0 2h0m2-5h0m0 15h0m2-17h0m0 0h0m2-3h0m1 0h0m1-3h0m1-1h0m0 20h0m3-25h0m0 1h0m1-1h0m0 22h0m1-23h0m1-3h0m0 26h0m1-27h0m1 24h0m1-26h0m1-2h0m2 26h0m0 0h0m2-30h0m0 29h0m1-31h0m0 30h0m0 0h0m4-34h0m0 0h0m2 28h0m0 0h0m1-31h0m0 1h0m0 30h0m4-34h0m1-1h0m0 29h0m2 0h0m2-34h0m1 31h0m5-6h0m4-32h0m0 1h0m0 0h0m0 23h0m1 0h0m0 0h0m1-2h0m1-1h0m1-5h0m1-15h0m0 1h0m0 13h0m1-11h0m0 1h0m0 2h0m0 2h0m0 1h0m0 1h0m1-8h0m0 1h0m0 0h0m0 1h0m0 0h0m0 1h0m0 0h0m0 0h0m0 3h0m0 1h0" stroke="#26828d"/>
<path d="M2178 737h0m0 1h0m1 0h0m1-6h0m0 1h0m0 2h0m0 0h0m0 1h0m0 2h0m0 1h0m1-9h0m0 2h0m0 1h0m0 1h0m0 1h0m0 2h0m0 1h0m0 0h0m1-9h0m0 1h0m0 7h0m1-9h0m0 0h0m0 1h0m1-3h0m0 0h0m0 1h0m0 1h0m0 9h0m0 1h0m1-14h0m0 0h0m0 12h0m0 1h0m1-14h0m0 14h0m3-19h0m0 18h0m1-19h0m2-2h0m0 19h0m0 0h0m2-23h0m0 1h0m2-3h0m1-1h0m0 23h0m0 0h0m2-27h0m1 25h0m3-29h0m4-4h0m0 0h0m0 27h0m2-1h0m2-30h0m2 26h0m1-30h0m0 28h0m0 1h0m1-30h0m2 27h0m2-31h0m2 28h0m5-34h0m0 0h0m0 1h0m1-2h0m1 0h0m0 1h0m1 22h0m0 1h0m1-24h0m0 21h0m1-21h0m0 1h0m0 20h0m0 0h0m1-20h0m0 16h0m0 2h0m1-18h0m0 14h0m0 1h0m0 0h0m1-15h0m0 0h0m0 0h0m0 0h0m0 1h0m0 10h0m0 1h0m0 0h0m0 1h0m1-13h0m0 9h0m0 1h0m0 1h0m1-10h0m0 2h0m0 1h0m0 0h0m0 1h0" stroke="#24898d"/>
<path d="M2182 732h0m0 1h0m0 1h0m1-4h0m0 1h0m0 1h0m0 1h0m0 2h0m0 0h0m1-5h0m0 0h0m0 0h0m0 1h0m0 1h0m0 4h0m1-8h0m0 5h0m0 0h0m0 1h0m0 0h0m0 0h0m1-1h0m0 1h0m0 1h0m0 0h0m1-12h0m0 1h0m0 11h0m0 0h0m1-15h0m0 2h0m1 12h0m1 0h0m1-17h0m1-2h0m0 17h0m0 1h0m0 0h0m0 0h0m1-19h0m1 18h0m1-21h0m0 0h0m0 21h0m1-23h0m1 20h0m0 1h0m1-23h0m0 1h0m2-4h0m0 0h0m1-1h0m1-1h0m0 24h0m1-1h0m0 1h0m2-28h0m0 26h0m1-27h0m0 1h0m1 24h0m0 0h0m1-27h0m0 27h0m0 0h0m1-2h0m1 0h0m1-1h0m1-2h0m1 0h0m1-28h0m2-3h0m0 1h0m0 27h0m8-35h0m0 0h0m2-1h0m0 0h0m0 1h0m0 24h0m0 0h0m1-26h0m0 1h0m0 24h0m1-25h0m0 0h0m1 21h0m2-21h0m0 0h0m0 17h0m0 1h0m1-17h0m0 15h0m1-16h0m0 1h0m0 1h0m0 10h0m0 1h0m0 2h0m1-14h0m0 1h0m0 0h0m0 1h0m0 0h0m0 2h0m0 0h0m0 1h0m0 0h0m0 3h0m0 0h0m0 0h0m0 0h0m0 1h0m0 0h0m0 0h0m0 0h0m0 1h0m1-3h0" stroke="#21908c"/>
<path d="M2185 728h0m0 2h0m0 0h0m0 0h0m0 1h0m0 1h0m1-4h0m0 3h0m1-6h0m0 2h0m0 2h0m0 0h0m0 3h0m0 1h0m1-9h0m0 2h0m0 4h0m0 1h0m0 0h0m1-9h0m0 9h0m0 1h0m0 1h0m1-1h0m0 0h0m1-15h0m0 1h0m0 1h0m0 12h0m0 0h0m0 0h0m0 1h0m1-16h0m0 14h0m0 0h0m0 1h0m1-16h0m0 15h0m0 0h0m0 1h0m0 0h0m1-18h0m1 0h0m0 0h0m1-2h0m0 17h0m0 2h0m1-21h0m0 1h0m0 0h0m0 19h0m1-1h0m1-20h0m1-3h0m1 21h0m0 0h0m1-22h0m1 21h0m1-25h0m0 1h0m5 18h0m1 0h0m0 0h0m4-29h0m0 0h0m2 24h0m4-4h0m1-27h0m2-3h0m2-1h0m1 23h0m0 1h0m2-25h0m0 21h0m0 1h0m1-21h0m2 1h0m1 9h0m1-9h0m0 0h0m0 3h0m0 3h0m0 1h0m0 1h0m1-6h0m0 1h0m0 0h0m0 0h0" stroke="#21978a"/>
<path d="M2187 728h0m1-3h0m0 2h0m0 0h0m0 2h0m1-5h0m0 0h0m0 0h0m0 2h0m0 0h0m0 1h0m0 0h0m0 0h0m0 2h0m0 1h0m0 0h0m0 0h0m1-9h0m0 2h0m0 2h0m0 1h0m0 1h0m0 1h0m0 0h0m0 1h0m0 0h0m0 1h0m0 1h0m0 0h0m1-11h0m0 1h0m0 0h0m0 0h0m0 8h0m0 0h0m0 0h0m0 1h0m1-11h0m0 0h0m0 1h0m0 8h0m0 1h0m0 1h0m1 0h0m1-15h0m0 0h0m0 14h0m0 0h0m2-17h0m0 0h0m0 16h0m0 0h0m1-17h0m0 16h0m0 0h0m2-18h0m0 18h0m0 0h0m1-2h0m0 1h0m1-21h0m0 19h0m0 1h0m1 0h0m2-24h0m0 1h0m1-1h0m0 22h0m2-24h0m1-2h0m0 22h0m0 0h0m0 0h0m0 0h0m1-23h0m0 22h0m1-23h0m1-1h0m0 0h0m1 22h0m2-25h0m0 23h0m0 0h0m2-25h0m0 23h0m1-24h0m1-1h0m1-1h0m0 0h0m1 22h0m0 0h0m1-24h0m0 24h0m1-2h0m0 1h0m1-26h0m0 24h0m1 0h0m1-1h0m1-23h0m1-1h0m0 0h0m1 0h0m0 18h0m1-18h0m0 16h0m1-16h0m0 14h0m1-13h0m0 1h0m0 0h0m0 8h0m1-9h0m0 1h0m0 1h0m0 2h0m0 1h0m0 0h0m0 1h0m0 1h0m1-6h0m0 3h0" stroke="#229e88"/>
<path d="M2190 725h0m1-1h0m0 1h0m0 1h0m0 1h0m0 0h0m1-7h0m0 1h0m0 0h0m0 0h0m0 0h0m0 0h0m0 1h0m0 1h0m0 2h0m0 1h0m0 1h0m1-8h0m0 1h0m0 5h0m0 1h0m0 0h0m1-10h0m0 2h0m0 8h0m0 0h0m0 2h0m1-13h0m0 0h0m0 1h0m0 10h0m1-12h0m0 1h0m0 11h0m1-13h0m2-4h0m0 16h0m1-18h0m0 0h0m0 1h0m1-1h0m0 0h0m0 17h0m1-19h0m1 17h0m1 0h0m0 0h0m2-22h0m1-1h0m0 0h0m2 19h0m2-23h0m0 0h0m0 21h0m1-23h0m0 1h0m1-1h0m0 21h0m1-22h0m0 21h0m1-22h0m0 0h0m2 19h0m1-23h0m0 22h0m0 0h0m1-23h0m1 22h0m0 0h0m2-2h0m1-24h0m2-1h0m0 0h0m0 20h0m0 1h0m0 1h0m1-22h0m0 19h0m1-19h0m0 19h0m1-19h0m0 0h0m0 14h0m0 1h0m0 2h0m1-17h0m0 1h0m0 11h0m1-10h0m0 9h0m0 0h0m0 1h0m1-8h0m0 1h0m0 1h0m0 0h0m0 1h0m0 0h0m0 1h0m0 0h0m0 0h0m0 1h0m1-5h0" stroke="#22a585"/>
<path d="M2192 724h0m1-3h0m0 0h0m0 1h0m0 0h0m0 0h0m0 2h0m0 0h0m0 1h0m1-7h0m0 1h0m0 1h0m0 0h0m0 0h0m0 0h0m0 0h0m0 1h0m0 1h0m0 3h0m1-8h0m0 1h0m0 0h0m0 1h0m0 0h0m0 2h0m0 0h0m0 4h0m0 0h0m1-2h0m0 1h0m0 1h0m1-11h0m0 0h0m0 0h0m0 10h0m0 0h0m0 1h0m1-13h0m1-1h0m0 0h0m0 12h0m0 0h0m0 0h0m1-13h0m0 13h0m1-15h0m0 0h0m0 0h0m0 14h0m0 0h0m0 1h0m1-16h0m0 15h0m0 0h0m0 0h0m0 0h0m1-18h0m0 1h0m0 0h0m0 17h0m0 0h0m1-18h0m0 17h0m0 0h0m1-18h0m0 17h0m0 0h0m1-19h0m0 18h0m0 0h0m1-19h0m1-1h0m0 0h0m0 18h0m1-1h0m1-20h0m0 2h0m0 17h0m1-19h0m0 0h0m0 18h0m0 1h0m1-20h0m0 19h0m1-20h0m0 19h0m1-20h0m0 19h0m2-22h0m1 20h0m2-23h0m0 1h0m0 0h0m2-2h0m0 20h0m1-22h0m0 0h0m3-2h0m0 0h0m0 1h0m1-1h0m0 0h0m1 17h0m1-17h0m0 1h0m0 12h0m1-13h0m0 1h0m0 8h0m0 0h0m0 1h0m1-9h0m0 0h0m0 1h0m0 1h0m0 0h0m0 0h0m0 1h0m0 0h0m0 3h0m0 0h0m0 0h0m1-3h0m0 2h0" stroke="#2eae7d"/>
<path d="M2195 719h0m0 0h0m0 1h0m0 1h0m0 1h0m1-4h0m0 2h0m0 1h0m0 1h0m0 0h0m0 0h0m1-7h0m0 1h0m0 0h0m0 0h0m0 0h0m0 2h0m0 1h0m0 0h0m0 1h0m0 0h0m0 0h0m0 1h0m0 0h0m0 0h0m1-8h0m0 2h0m0 1h0m0 5h0m0 0h0m0 1h0m1-10h0m0 0h0m0 2h0m0 7h0m0 0h0m0 0h0m0 1h0m0 0h0m1-11h0m0 9h0m1-11h0m0 0h0m0 0h0m0 1h0m0 0h0m0 11h0m0 0h0m0 1h0m1-15h0m0 1h0m0 12h0m0 0h0m0 1h0m0 0h0m1-15h0m1-1h0m1-1h0m0 15h0m1-1h0m1-17h0m0 1h0m0 15h0m0 1h0m2-19h0m0 16h0m0 1h0m0 0h0m1-2h0m1-17h0m0 16h0m1 0h0m1-19h0m0 0h0m0 17h0m0 1h0m1-18h0m0 0h0m0 0h0m0 1h0m0 17h0m1-19h0m0 0h0m0 17h0m1-19h0m0 0h0m0 0h0m0 18h0m0 1h0m0 0h0m1-19h0m0 17h0m0 1h0m1-20h0m0 0h0m0 1h0m0 17h0m0 0h0m1 0h0m2-21h0m0 0h0m0 0h0m0 18h0m1-18h0m0 18h0m2-20h0m1 0h0m0 0h0m0 15h0m0 1h0m1-16h0m0 13h0m0 2h0m0 0h0m1-16h0m0 1h0m0 11h0m1-11h0m0 1h0m0 0h0m0 0h0m0 0h0m0 8h0m0 1h0m0 1h0m1-11h0m0 1h0m0 0h0m0 1h0m0 0h0m0 0h0m0 2h0m0 2h0m0 0h0m0 1h0m1-3h0m0 1h0" stroke="#46b96f"/>
<path d="M2198 716h0m0 0h0m0 1h0m0 1h0m0 0h0m0 1h0m0 0h0m0 0h0m1-5h0m0 0h0m0 0h0m0 3h0m0 0h0m0 0h0m0 0h0m0 1h0m0 0h0m0 2h0m1-9h0m0 2h0m0 1h0m0 0h0m0 0h0m0 0h0m0 1h0m0 0h0m0 2h0m0 1h0m0 1h0m1-8h0m0 0h0m0 0h0m0 1h0m0 1h0m0 5h0m0 1h0m0 1h0m1-11h0m0 1h0m0 0h0m0 0h0m0 8h0m0 2h0m1-13h0m0 1h0m0 0h0m0 1h0m0 9h0m0 1h0m1-13h0m0 0h0m0 1h0m0 0h0m0 11h0m1-13h0m0 0h0m0 13h0m0 0h0m1-14h0m0 0h0m0 1h0m0 11h0m1-14h0m0 14h0m0 0h0m0 0h0m0 1h0m1-15h0m0 13h0m1-1h0m1-15h0m0 0h0m0 14h0m1-15h0m0 14h0m0 0h0m0 1h0m0 0h0m1-16h0m0 14h0m2-1h0m1-1h0m0 0h0m1-16h0m0 16h0m1-18h0m0 0h0m0 1h0m0 15h0m1 0h0m1-18h0m0 1h0m0 0h0m0 15h0m1-1h0m0 1h0m0 0h0m0 0h0m1-1h0m0 0h0m1-18h0m0 1h0m0 16h0m0 0h0m2-1h0m1-18h0m0 0h0m0 1h0m0 14h0m0 0h0m1-14h0m0 0h0m0 1h0m0 10h0m1-11h0m0 1h0m0 0h0m0 0h0m0 1h0m0 7h0m0 0h0m0 0h0m0 1h0m0 1h0m1-10h0m0 0h0m0 0h0m0 2h0m0 1h0m0 0h0" stroke="#5ec461"/>
<path d="M2200 715h0m0 2h0m0 1h0m1-5h0m0 0h0m0 1h0m0 0h0m0 1h0m0 1h0m0 1h0m1-7h0m0 1h0m0 1h0m0 0h0m0 1h0m0 0h0m0 0h0m0 0h0m0 1h0m0 0h0m0 2h0m0 1h0m0 1h0m0 0h0m1-9h0m0 6h0m0 0h0m0 1h0m0 1h0m0 0h0m0 1h0m1-10h0m0 1h0m0 7h0m0 0h0m0 0h0m0 0h0m1-9h0m0 9h0m0 0h0m0 0h0m0 1h0m0 0h0m1-2h0m0 0h0m0 1h0m1-13h0m0 1h0m0 0h0m0 10h0m0 1h0m0 0h0m1-12h0m0 0h0m0 11h0m0 0h0m0 0h0m1-13h0m0 1h0m0 1h0m0 10h0m0 0h0m0 1h0m1-14h0m0 0h0m0 1h0m0 10h0m0 1h0m1-13h0m0 1h0m0 11h0m1-14h0m0 13h0m1-13h0m0 1h0m0 0h0m0 11h0m0 0h0m0 1h0m0 0h0m0 0h0m1-14h0m0 13h0m1-14h0m0 13h0m0 0h0m1-15h0m0 14h0m0 0h0m1-14h0m1-2h0m0 0h0m0 1h0m0 0h0m0 0h0m1-2h0m0 15h0m1-15h0m0 14h0m0 0h0m1-16h0m0 0h0m0 0h0m0 1h0m0 14h0m1-16h0m0 1h0m0 14h0m0 0h0m0 0h0m1-16h0m0 15h0m0 0h0m0 1h0m1-17h0m0 0h0m0 1h0m0 13h0m0 0h0m0 0h0m0 1h0m0 0h0m0 0h0m1-14h0m0 0h0m0 0h0m0 10h0m0 0h0m0 1h0m0 0h0m0 2h0m1-5h0m0 2h0m1-9h0m0 0h0m0 0h0m0 2h0m0 1h0m0 2h0" stroke="#77cf53"/>
<path d="M2202 714h0m1-4h0m0 2h0m0 1h0m0 0h0m0 0h0m0 1h0m0 0h0m0 1h0m1-5h0m0 0h0m0 0h0m0 1h0m0 0h0m0 0h0m0 1h0m0 0h0m0 0h0m0 1h0m0 2h0m1-8h0m0 1h0m0 0h0m0 1h0m0 1h0m0 0h0m0 1h0m0 0h0m0 2h0m0 1h0m0 1h0m1-8h0m0 1h0m0 0h0m0 1h0m0 0h0m0 1h0m0 1h0m0 0h0m0 1h0m0 1h0m0 0h0m0 1h0m1-8h0m0 1h0m0 0h0m0 1h0m0 3h0m0 1h0m0 1h0m0 1h0m1-10h0m0 1h0m0 5h0m0 1h0m0 0h0m0 1h0m0 0h0m0 1h0m1-10h0m0 2h0m0 5h0m0 0h0m0 0h0m0 0h0m0 0h0m0 1h0m0 1h0m1-10h0m0 0h0m0 1h0m0 0h0m0 0h0m0 8h0m1-9h0m0 0h0m0 7h0m0 1h0m0 0h0m1-10h0m0 0h0m0 1h0m0 0h0m0 7h0m0 1h0m1-10h0m0 1h0m0 7h0m0 1h0m1-11h0m0 2h0m0 0h0m0 8h0m0 1h0m1-12h0m0 0h0m0 0h0m0 1h0m0 9h0m1-11h0m0 0h0m0 0h0m0 0h0m0 1h0m0 0h0m0 10h0m2-2h0m0 0h0m0 1h0m1-13h0m0 1h0m0 0h0m0 11h0m1-14h0m0 0h0m0 1h0m0 1h0m0 0h0m0 10h0m0 0h0m0 1h0m0 0h0m1-13h0m0 0h0m0 11h0m0 0h0m1-12h0m0 0h0m0 0h0m0 11h0m1-13h0m0 1h0m0 0h0m0 12h0m0 0h0m1-13h0m0 1h0m0 10h0m0 0h0m0 0h0m0 1h0m1-11h0m0 1h0m0 6h0m0 1h0m0 0h0m1-8h0m0 1h0m0 0h0m0 1h0m0 0h0m0 0h0m0 1h0m0 1h0m0 1h0m0 1h0m1-4h0" stroke="#9cd746"/>
<path d="M2207 709h0m0 1h0m0 0h0m0 0h0m1-3h0m0 1h0m0 0h0m0 1h0m0 0h0m0 1h0m0 0h0m1-5h0m0 2h0m0 1h0m1-4h0m0 1h0m0 0h0m0 0h0m0 0h0m0 1h0m0 0h0m0 0h0m0 1h0m0 0h0m0 1h0m0 1h0m0 0h0m1-6h0m0 1h0m0 0h0m0 1h0m0 0h0m0 0h0m0 0h0m0 1h0m0 2h0m1-7h0m0 1h0m0 0h0m0 0h0m0 1h0m0 0h0m0 1h0m0 0h0m0 0h0m0 0h0m0 0h0m0 1h0m0 1h0m0 1h0m0 1h0m1-7h0m0 1h0m0 1h0m0 0h0m0 0h0m0 0h0m0 0h0m0 1h0m0 1h0m0 1h0m0 0h0m0 0h0m0 0h0m0 1h0m1-7h0m0 0h0m0 1h0m0 1h0m0 1h0m0 0h0m0 1h0m0 1h0m0 0h0m0 0h0m0 1h0m0 0h0m0 0h0m0 0h0m1-9h0m0 1h0m0 0h0m0 1h0m0 0h0m0 1h0m0 0h0m0 1h0m0 1h0m0 1h0m0 0h0m0 0h0m0 2h0m1-7h0m0 5h0m1-8h0m0 1h0m0 0h0m0 1h0m0 5h0m0 1h0m1-9h0m0 1h0m0 0h0m0 0h0m0 0h0m0 1h0m0 6h0m0 0h0m1-8h0m0 7h0m1-8h0m0 7h0m0 0h0m0 1h0m1-10h0m0 0h0m0 1h0m0 7h0m0 0h0m0 1h0m0 1h0m1-12h0m0 2h0m0 0h0m1 7h0m0 0h0m0 0h0m0 1h0m1-11h0m0 1h0m0 1h0m0 0h0m0 0h0m0 1h0m0 4h0m0 0h0m0 2h0m0 0h0m1-8h0m0 3h0m0 2h0m0 0h0m0 1h0" stroke="#c3dd39"/>
<path d="M2215 701h0m1-2h0m0 3h0m1-5h0m0 1h0m0 1h0m0 1h0m0 0h0m0 1h0m0 0h0m0 0h0m0 0h0m1-3h0m0 1h0m0 0h0m0 0h0m0 0h0m0 0h0m0 0h0m0 1h0m0 0h0m1-5h0m0 1h0m0 0h0m0 1h0m0 0h0m0 1h0m0 2h0m1-5h0m0 1h0m1-4h0m0 1h0m0 0h0m0 3h0m0 0h0m0 0h0m0 1h0m0 0h0m0 1h0m0 1h0m1-7h0m0 0h0m0 1h0m0 0h0m0 1h0m0 0h0m0 0h0m0 1h0m0 0h0m0 0h0m0 0h0m0 1h0m0 0h0m0 0h0m0 1h0m0 0h0m1-7h0m0 0h0m0 1h0m0 0h0m0 0h0m0 1h0m0 0h0m0 0h0m0 1h0m0 0h0m0 0h0m0 0h0m0 1h0m0 0h0m0 0h0m0 3h0m0 1h0m1-8h0m0 1h0m0 1h0m0 2h0m0 1h0" stroke="#eae42c"/>
</g>
<line x1="867.4" y1="316.7" x2="867.4" y2="595.8" stroke="#666666" stroke-width="1.2"/>
<line x1="866.8" y1="595.8" x2="1147.3" y2="595.8" stroke="#666666" stroke-width="1.2"/>
<line x1="862.2" y1="337.4" x2="867.4" y2="337.4" stroke="#666666" stroke-width="1.2"/>
<text x="857.4" y="341.7" text-anchor="end" font-size="13.3" textLength="28.2" lengthAdjust="spacingAndGlyphs">20.0</text>
<line x1="862.2" y1="370.5" x2="867.4" y2="370.5" stroke="#666666" stroke-width="1.2"/>
<text x="857.4" y="374.8" text-anchor="end" font-size="13.3" textLength="24.6" lengthAdjust="spacingAndGlyphs">17.5</text>
<line x1="862.2" y1="403.6" x2="867.4" y2="403.6" stroke="#666666" stroke-width="1.2"/>
<text x="857.4" y="407.9" text-anchor="end" font-size="13.3" textLength="24.6" lengthAdjust="spacingAndGlyphs">15.0</text>
<line x1="862.2" y1="436.8" x2="867.4" y2="436.8" stroke="#666666" stroke-width="1.2"/>
<text x="857.4" y="441.1" text-anchor="end" font-size="13.3" textLength="24.6" lengthAdjust="spacingAndGlyphs">12.5</text>
<line x1="862.2" y1="469.9" x2="867.4" y2="469.9" stroke="#666666" stroke-width="1.2"/>
<text x="857.4" y="474.2" text-anchor="end" font-size="13.3" textLength="24.6" lengthAdjust="spacingAndGlyphs">10.0</text>
<line x1="862.2" y1="503.0" x2="867.4" y2="503.0" stroke="#666666" stroke-width="1.2"/>
<text x="857.4" y="507.3" text-anchor="end" font-size="13.3" textLength="20.3" lengthAdjust="spacingAndGlyphs">7.5</text>
<line x1="862.2" y1="536.1" x2="867.4" y2="536.1" stroke="#666666" stroke-width="1.2"/>
<text x="857.4" y="540.4" text-anchor="end" font-size="13.3" textLength="20.3" lengthAdjust="spacingAndGlyphs">5.0</text>
<line x1="862.2" y1="569.3" x2="867.4" y2="569.3" stroke="#666666" stroke-width="1.2"/>
<text x="857.4" y="573.6" text-anchor="end" font-size="13.3" textLength="20.3" lengthAdjust="spacingAndGlyphs">2.5</text>
<line x1="918.3" y1="595.8" x2="918.3" y2="600.8" stroke="#666666" stroke-width="1.2"/>
<text x="918.3" y="616.8" text-anchor="middle" font-size="13.3" textLength="8.8" lengthAdjust="spacingAndGlyphs">5</text>
<line x1="986.4" y1="595.8" x2="986.4" y2="600.8" stroke="#666666" stroke-width="1.2"/>
<text x="986.4" y="616.8" text-anchor="middle" font-size="13.3" textLength="13.1" lengthAdjust="spacingAndGlyphs">10</text>
<line x1="1054.5" y1="595.8" x2="1054.5" y2="600.8" stroke="#666666" stroke-width="1.2"/>
<text x="1054.5" y="616.8" text-anchor="middle" font-size="13.3" textLength="13.1" lengthAdjust="spacingAndGlyphs">15</text>
<line x1="1122.6" y1="595.8" x2="1122.6" y2="600.8" stroke="#666666" stroke-width="1.2"/>
<text x="1122.6" y="616.8" text-anchor="middle" font-size="13.3" textLength="16.7" lengthAdjust="spacingAndGlyphs">20</text>
<text x="1007.3" y="639.4" text-anchor="middle" font-size="15.3" textLength="143.1" lengthAdjust="spacingAndGlyphs">Retention time (min)</text>
<text x="817.0" y="456.8" text-anchor="middle" font-size="15.3" textLength="213.1" lengthAdjust="spacingAndGlyphs" transform="rotate(-90 817.0 456.8)">Predicted retention time (min)</text>
<text x="872.5" y="334.2" font-size="15" fill="#2e2e2e"><tspan font-style="italic">R</tspan><tspan dy="-6" font-size="10">2</tspan><tspan dy="6"> = 0.99</tspan></text>
<text x="1142.0" y="580.7" text-anchor="end" font-size="15.3" textLength="155.1" lengthAdjust="spacingAndGlyphs">After transfer learning</text>
<text x="135.3" y="680.7" fill="#1a1a1a" font-weight="bold" font-size="22.2" stroke="#1a1a1a" stroke-width="0.35">f</text>
<text x="84.4" y="716.7" text-anchor="middle" font-size="15.3" textLength="62.6" lengthAdjust="spacingAndGlyphs">Dimethyl</text>
<circle cx="84.4" cy="749.4" r="10.8" fill="#e2e2e2" stroke="#cfcfcf" stroke-width="0.8"/>
<circle cx="90" cy="770" r="10.8" fill="#e2e2e2" stroke="#cfcfcf" stroke-width="0.8"/>
<circle cx="94.1" cy="790.6" r="10.8" fill="#e2e2e2" stroke="#cfcfcf" stroke-width="0.8"/>
<circle cx="95.2" cy="811.2" r="10.8" fill="#e2e2e2" stroke="#cfcfcf" stroke-width="0.8"/>
<circle cx="94.5" cy="833" r="10.8" fill="#e2e2e2" stroke="#cfcfcf" stroke-width="0.8"/>
<circle cx="93" cy="854.4" r="10.8" fill="#e2e2e2" stroke="#cfcfcf" stroke-width="0.8"/>
<circle cx="90" cy="876.8" r="10.8" fill="#e2e2e2" stroke="#cfcfcf" stroke-width="0.8"/>
<circle cx="89.2" cy="897.5" r="10.8" fill="#e2e2e2" stroke="#cfcfcf" stroke-width="0.8"/>
<circle cx="93.7" cy="918.8" r="10.8" fill="#e2e2e2" stroke="#cfcfcf" stroke-width="0.8"/>
<text x="84.4" y="753.0" text-anchor="middle" fill="#333" font-size="10">E</text>
<text x="90.0" y="773.6" text-anchor="middle" fill="#333" font-size="10">M</text>
<text x="94.1" y="794.2" text-anchor="middle" fill="#333" font-size="10">P</text>
<text x="95.2" y="814.8" text-anchor="middle" fill="#333" font-size="10">E</text>
<text x="94.5" y="836.6" text-anchor="middle" fill="#333" font-size="10">P</text>
<text x="93.0" y="858.0" text-anchor="middle" fill="#333" font-size="10">T</text>
<text x="90.0" y="880.4" text-anchor="middle" fill="#333" font-size="10">D</text>
<text x="89.2" y="901.1" text-anchor="middle" fill="#333" font-size="10">E</text>
<text x="93.7" y="922.4" text-anchor="middle" fill="#333" font-size="10">K</text>
<circle cx="61.9" cy="748.2" r="10.8" fill="#15b1c1"/>
<text x="61.9" y="750.0" text-anchor="middle" fill="#d8f4f7" font-size="5">DiMet</text>
<circle cx="72.4" cy="924.5" r="10.8" fill="#15b1c1"/>
<text x="72.4" y="926.3" text-anchor="middle" fill="#d8f4f7" font-size="5">DiMet</text>
<circle cx="110.6" cy="761.7" r="10.8" fill="#1c1a1b"/>
<text x="110.6" y="763.5" text-anchor="middle" fill="#ddd" font-size="5">Ox</text>
<line x1="220.6" y1="713.7" x2="220.6" y2="909.6" stroke="#666666" stroke-width="1.2"/>
<line x1="220.0" y1="909.6" x2="416.8" y2="909.6" stroke="#666666" stroke-width="1.2"/>
<line x1="215.6" y1="716.4" x2="220.6" y2="716.4" stroke="#666666" stroke-width="1.2"/>
<text x="208.6" y="720.7" text-anchor="end" font-size="13.3" textLength="51.5" lengthAdjust="spacingAndGlyphs">100,000</text>
<line x1="215.6" y1="755.0" x2="220.6" y2="755.0" stroke="#666666" stroke-width="1.2"/>
<text x="208.6" y="759.3" text-anchor="end" font-size="13.3" textLength="44.4" lengthAdjust="spacingAndGlyphs">80,000</text>
<line x1="215.6" y1="793.7" x2="220.6" y2="793.7" stroke="#666666" stroke-width="1.2"/>
<text x="208.6" y="798.0" text-anchor="end" font-size="13.3" textLength="44.4" lengthAdjust="spacingAndGlyphs">60,000</text>
<line x1="215.6" y1="832.3" x2="220.6" y2="832.3" stroke="#666666" stroke-width="1.2"/>
<text x="208.6" y="836.6" text-anchor="end" font-size="13.3" textLength="44.4" lengthAdjust="spacingAndGlyphs">40,000</text>
<line x1="215.6" y1="871.0" x2="220.6" y2="871.0" stroke="#666666" stroke-width="1.2"/>
<text x="208.6" y="875.3" text-anchor="end" font-size="13.3" textLength="44.4" lengthAdjust="spacingAndGlyphs">20,000</text>
<line x1="215.6" y1="909.6" x2="220.6" y2="909.6" stroke="#666666" stroke-width="1.2"/>
<text x="208.6" y="913.9" text-anchor="end" font-size="13.3" textLength="8.8" lengthAdjust="spacingAndGlyphs">0</text>
<rect x="225.1" y="783.6" width="40.0" height="126.0" fill="#009ba6" stroke="#105a60" stroke-width="1"/>
<line x1="245.1" y1="909.6" x2="245.1" y2="914.2" stroke="#666666" stroke-width="1.2"/>
<text x="250.1" y="777.0" fill="#1a1a1a" font-weight="bold" font-size="13.7" textLength="42.1" lengthAdjust="spacingAndGlyphs" transform="rotate(-90 250.1 777.0)" stroke="#1a1a1a" stroke-width="0.25">65,215</text>
<text x="244.2" y="932.0" text-anchor="middle" font-size="14.7" textLength="48.3" lengthAdjust="spacingAndGlyphs">Default</text>
<rect x="274.1" y="760.8" width="40.3" height="148.8" fill="#009ba6" stroke="#105a60" stroke-width="1"/>
<line x1="294.2" y1="909.6" x2="294.2" y2="914.2" stroke="#666666" stroke-width="1.2"/>
<text x="299.2" y="754.2" fill="#1a1a1a" font-weight="bold" font-size="13.7" textLength="44.1" lengthAdjust="spacingAndGlyphs" transform="rotate(-90 299.2 754.2)" stroke="#1a1a1a" stroke-width="0.25">77,024</text>
<text x="294.6" y="932.0" text-anchor="middle" font-size="14.7" textLength="17.2" lengthAdjust="spacingAndGlyphs">RT</text>
<rect x="323.2" y="750.4" width="40.4" height="159.2" fill="#009ba6" stroke="#105a60" stroke-width="1"/>
<line x1="343.4" y1="909.6" x2="343.4" y2="914.2" stroke="#666666" stroke-width="1.2"/>
<text x="348.4" y="743.8" fill="#1a1a1a" font-weight="bold" font-size="13.7" textLength="44.1" lengthAdjust="spacingAndGlyphs" transform="rotate(-90 348.4 743.8)" stroke="#1a1a1a" stroke-width="0.25">82,379</text>
<text x="345.3" y="932.0" text-anchor="middle" font-size="14.7" textLength="28.4" lengthAdjust="spacingAndGlyphs">MS2</text>
<rect x="372.2" y="723.2" width="40.6" height="186.4" fill="#009ba6" stroke="#105a60" stroke-width="1"/>
<line x1="392.5" y1="909.6" x2="392.5" y2="914.2" stroke="#666666" stroke-width="1.2"/>
<text x="397.5" y="716.6" fill="#1a1a1a" font-weight="bold" font-size="13.7" textLength="44.1" lengthAdjust="spacingAndGlyphs" transform="rotate(-90 397.5 716.6)" stroke="#1a1a1a" stroke-width="0.25">96,457</text>
<text x="396.0" y="932.0" text-anchor="middle" font-size="14.7" textLength="56.9" lengthAdjust="spacingAndGlyphs">RT+ MS2</text>
<text x="149.0" y="809.4" text-anchor="middle" font-size="15.3" textLength="123.4" lengthAdjust="spacingAndGlyphs" transform="rotate(-90 149.0 809.4)">Unique precursor</text>
<text x="445.2" y="680.7" fill="#1a1a1a" font-weight="bold" font-size="22.2" stroke="#1a1a1a" stroke-width="0.35">g</text>
<line x1="514.6" y1="713.4" x2="514.6" y2="910.2" stroke="#666666" stroke-width="1.2"/>
<line x1="514.0" y1="910.2" x2="711.8" y2="910.2" stroke="#666666" stroke-width="1.2"/>
<line x1="509.6" y1="715.1" x2="514.6" y2="715.1" stroke="#666666" stroke-width="1.2"/>
<text x="504.3" y="719.4" text-anchor="end" font-size="13.3" textLength="35.1" lengthAdjust="spacingAndGlyphs">1,000</text>
<line x1="509.6" y1="753.7" x2="514.6" y2="753.7" stroke="#666666" stroke-width="1.2"/>
<text x="504.3" y="758.0" text-anchor="end" font-size="13.3" textLength="24.6" lengthAdjust="spacingAndGlyphs">800</text>
<line x1="509.6" y1="792.3" x2="514.6" y2="792.3" stroke="#666666" stroke-width="1.2"/>
<text x="504.3" y="796.6" text-anchor="end" font-size="13.3" textLength="24.6" lengthAdjust="spacingAndGlyphs">600</text>
<line x1="509.6" y1="830.9" x2="514.6" y2="830.9" stroke="#666666" stroke-width="1.2"/>
<text x="504.3" y="835.2" text-anchor="end" font-size="13.3" textLength="24.6" lengthAdjust="spacingAndGlyphs">400</text>
<line x1="509.6" y1="869.5" x2="514.6" y2="869.5" stroke="#666666" stroke-width="1.2"/>
<text x="504.3" y="873.8" text-anchor="end" font-size="13.3" textLength="24.6" lengthAdjust="spacingAndGlyphs">200</text>
<line x1="509.6" y1="908.1" x2="514.6" y2="908.1" stroke="#666666" stroke-width="1.2"/>
<text x="504.3" y="912.4" text-anchor="end" font-size="13.3" textLength="8.8" lengthAdjust="spacingAndGlyphs">0</text>
<path d="M525.50 746.80C525.74 746.91 525.85 747.24 525.85 747.50C525.96 755.00 525.84 762.50 525.85 770.00C525.86 777.20 525.72 784.40 525.90 791.60C525.97 794.41 526.36 797.20 526.60 800.00C526.89 803.33 527.30 806.66 527.50 810.00C527.74 814.06 527.88 818.13 527.90 822.20C527.94 830.37 527.81 838.53 527.70 846.70C527.58 855.57 527.39 864.43 527.20 873.30C527.06 880.10 526.94 886.90 526.70 893.70C526.57 897.47 526.43 901.24 526.10 905.00C525.99 906.22 525.92 907.49 525.40 908.60C525.26 908.90 524.54 908.90 524.40 908.60C523.88 907.49 523.81 906.22 523.70 905.00C523.37 901.24 523.23 897.47 523.10 893.70C522.86 886.90 522.74 880.10 522.60 873.30C522.41 864.43 522.22 855.57 522.10 846.70C521.99 838.53 521.86 830.37 521.90 822.20C521.92 818.13 522.06 814.06 522.30 810.00C522.50 806.66 522.91 803.33 523.20 800.00C523.44 797.20 523.83 794.41 523.90 791.60C524.08 784.40 523.94 777.20 523.95 770.00C523.96 762.50 523.84 755.00 523.95 747.50C523.95 747.24 524.06 746.91 524.30 746.80C524.66 746.64 525.14 746.64 525.50 746.80Z" fill="#009ba6" stroke="#0e5d63" stroke-width="0.9"/>
<path d="M599.40 714.80C599.63 714.91 599.70 715.25 599.70 715.50C599.80 737.00 599.68 758.50 599.70 780.00C599.71 797.47 599.58 814.93 599.80 832.40C599.88 839.24 600.30 846.07 600.60 852.90C600.90 859.70 601.27 866.50 601.60 873.30C601.87 878.73 602.27 884.16 602.40 889.60C602.50 893.67 602.58 897.74 602.30 901.80C602.18 903.57 601.88 905.36 601.20 907.00C600.88 907.78 600.13 908.36 599.40 908.80C599.06 909.01 598.54 909.01 598.20 908.80C597.47 908.36 596.72 907.78 596.40 907.00C595.72 905.36 595.42 903.57 595.30 901.80C595.02 897.74 595.10 893.67 595.20 889.60C595.33 884.16 595.73 878.73 596.00 873.30C596.33 866.50 596.70 859.70 597.00 852.90C597.30 846.07 597.72 839.24 597.80 832.40C598.02 814.93 597.89 797.47 597.90 780.00C597.92 758.50 597.80 737.00 597.90 715.50C597.90 715.25 597.97 714.91 598.20 714.80C598.56 714.63 599.04 714.63 599.40 714.80Z" fill="#009ba6" stroke="#0e5d63" stroke-width="0.9"/>
<path d="M673.10 885.50C673.33 885.61 673.38 885.95 673.40 886.20C673.58 888.46 673.36 890.76 673.70 893.00C673.90 894.29 674.51 895.49 675.00 896.70C675.38 897.66 675.74 898.64 676.30 899.50C676.75 900.19 677.30 900.87 678.00 901.30C679.40 902.16 680.94 902.80 682.50 903.30C685.12 904.14 687.81 904.71 690.50 905.30C693.15 905.88 695.84 906.28 698.50 906.80C699.77 907.05 701.12 907.07 702.30 907.60C702.55 907.71 702.37 908.34 702.10 908.40C700.60 908.74 699.04 908.69 697.50 908.70C680.83 908.79 664.17 908.79 647.50 908.70C645.96 908.69 644.40 908.74 642.90 908.40C642.63 908.34 642.45 907.71 642.70 907.60C643.88 907.07 645.23 907.05 646.50 906.80C649.16 906.28 651.85 905.88 654.50 905.30C657.19 904.71 659.88 904.14 662.50 903.30C664.06 902.80 665.60 902.16 667.00 901.30C667.70 900.87 668.25 900.19 668.70 899.50C669.26 898.64 669.62 897.66 670.00 896.70C670.49 895.49 671.10 894.29 671.30 893.00C671.64 890.76 671.42 888.46 671.60 886.20C671.62 885.95 671.67 885.61 671.90 885.50C672.26 885.33 672.74 885.33 673.10 885.50Z" fill="#009ba6" stroke="#0e5d63" stroke-width="0.9"/>
<circle cx="524.9" cy="846.6" r="3" fill="#0b3d42"/>
<circle cx="598.8" cy="882" r="3" fill="#0b3d42"/>
<circle cx="672.5" cy="906" r="3" fill="#0b3d42"/>
<text x="532.2" y="850.5" fill="#1c5c66" font-size="13.2" textLength="41.0" lengthAdjust="spacingAndGlyphs">317.4 s</text>
<text x="605.9" y="886.4" fill="#1c5c66" font-size="13.2" textLength="41.0" lengthAdjust="spacingAndGlyphs">135.2 s</text>
<text x="680.3" y="900.3" fill="#1c5c66" font-size="13.2" textLength="34.6" lengthAdjust="spacingAndGlyphs">10.6 s</text>
<line x1="525.2" y1="910.2" x2="525.2" y2="915.2" stroke="#666666" stroke-width="1.2"/>
<line x1="598.8" y1="910.2" x2="598.8" y2="915.2" stroke="#666666" stroke-width="1.2"/>
<line x1="672.5" y1="910.2" x2="672.5" y2="915.2" stroke="#666666" stroke-width="1.2"/>
<text x="525.3" y="931.8" text-anchor="middle" font-size="14.7" textLength="47.9" lengthAdjust="spacingAndGlyphs">Default</text>
<text x="598.7" y="931.8" text-anchor="middle" font-size="14.7" textLength="72.3" lengthAdjust="spacingAndGlyphs">Calibration</text>
<text x="674.2" y="931.8" text-anchor="middle" font-size="14.7" textLength="54.1" lengthAdjust="spacingAndGlyphs">Transfer</text>
<text x="675.6" y="948.3" text-anchor="middle" font-size="14.7" textLength="54.8" lengthAdjust="spacingAndGlyphs">learning</text>
<text x="458.6" y="807.7" text-anchor="middle" font-size="15.3" textLength="193.1" lengthAdjust="spacingAndGlyphs" transform="rotate(-90 458.6 807.7)">Retention time deviation (s)</text>
<text x="729.3" y="680.7" fill="#1a1a1a" font-weight="bold" font-size="22.2" stroke="#1a1a1a" stroke-width="0.35">h</text>
<line x1="788.8" y1="715.2" x2="788.8" y2="910.0" stroke="#666666" stroke-width="1.2"/>
<line x1="788.2" y1="910.0" x2="906.3" y2="910.0" stroke="#666666" stroke-width="1.2"/>
<line x1="783.8" y1="728.9" x2="788.8" y2="728.9" stroke="#666666" stroke-width="1.2"/>
<text x="778.2" y="733.2" text-anchor="end" font-size="13.3" textLength="16.7" lengthAdjust="spacingAndGlyphs">1.0</text>
<line x1="783.8" y1="772.6" x2="788.8" y2="772.6" stroke="#666666" stroke-width="1.2"/>
<text x="778.2" y="776.9" text-anchor="end" font-size="13.3" textLength="20.3" lengthAdjust="spacingAndGlyphs">0.5</text>
<line x1="783.8" y1="816.4" x2="788.8" y2="816.4" stroke="#666666" stroke-width="1.2"/>
<text x="778.2" y="820.7" text-anchor="end" font-size="13.3" textLength="8.8" lengthAdjust="spacingAndGlyphs">0</text>
<line x1="783.8" y1="860.1" x2="788.8" y2="860.1" stroke="#666666" stroke-width="1.2"/>
<text x="778.2" y="864.4" text-anchor="end" font-size="13.3" textLength="28.3" lengthAdjust="spacingAndGlyphs">−0.5</text>
<line x1="783.8" y1="903.9" x2="788.8" y2="903.9" stroke="#666666" stroke-width="1.2"/>
<text x="778.2" y="908.2" text-anchor="end" font-size="13.3" textLength="26.4" lengthAdjust="spacingAndGlyphs">−1.0</text>
<path d="M802.60 723.00C802.95 723.40 802.95 724.00 803.10 724.50C803.25 725.00 803.18 725.59 803.50 726.00C803.93 726.55 804.65 726.78 805.20 727.20C806.38 728.11 807.78 728.83 808.70 730.00C809.66 731.22 810.38 732.68 810.70 734.20C811.10 736.09 810.84 738.07 810.80 740.00C810.71 744.17 810.62 748.34 810.30 752.50C810.05 755.68 809.49 758.83 809.10 762.00C808.66 765.57 808.08 769.12 807.80 772.70C807.28 779.42 807.03 786.16 806.70 792.90C806.38 799.63 806.17 806.37 805.85 813.10C805.53 819.87 805.18 826.63 804.80 833.40C804.43 840.13 803.88 846.86 803.60 853.60C803.32 860.33 803.20 867.07 803.10 873.80C802.98 881.87 803.10 889.93 802.95 898.00C802.93 899.04 802.96 900.13 802.60 901.10C802.51 901.35 801.89 901.35 801.80 901.10C801.44 900.13 801.47 899.04 801.45 898.00C801.30 889.93 801.42 881.87 801.30 873.80C801.20 867.07 801.08 860.33 800.80 853.60C800.52 846.86 799.97 840.13 799.60 833.40C799.22 826.63 798.87 819.87 798.55 813.10C798.23 806.37 798.02 799.63 797.70 792.90C797.37 786.16 797.12 779.42 796.60 772.70C796.32 769.12 795.74 765.57 795.30 762.00C794.91 758.83 794.35 755.68 794.10 752.50C793.78 748.34 793.69 744.17 793.60 740.00C793.56 738.07 793.30 736.09 793.70 734.20C794.02 732.68 794.74 731.22 795.70 730.00C796.62 728.83 798.02 728.11 799.20 727.20C799.75 726.78 800.47 726.55 800.90 726.00C801.22 725.59 801.15 725.00 801.30 724.50C801.45 724.00 801.45 723.40 801.80 723.00C801.97 722.80 802.43 722.80 802.60 723.00Z" fill="#009ba6" stroke="#0e5d63" stroke-width="0.9"/>
<path d="M873.10 724.30C873.61 724.36 874.11 724.46 874.60 724.60C875.48 724.86 876.31 725.30 877.20 725.50C879.85 726.10 882.55 726.44 885.20 727.00C888.55 727.71 891.87 728.54 895.20 729.30C897.10 729.74 899.07 729.94 900.90 730.60C901.28 730.74 901.72 731.21 901.60 731.60C901.41 732.19 900.78 732.59 900.20 732.80C897.23 733.90 894.05 734.36 891.10 735.50C888.67 736.44 886.30 737.60 884.10 739.00C882.71 739.89 881.18 740.84 880.40 742.30C878.70 745.47 877.45 748.95 876.85 752.50C875.73 759.16 875.60 765.95 875.30 772.70C874.71 786.16 874.48 799.63 874.20 813.10C873.92 826.60 873.76 840.10 873.60 853.60C873.48 863.40 873.53 873.20 873.35 883.00C873.33 884.11 873.36 885.26 873.00 886.30C872.91 886.55 872.29 886.55 872.20 886.30C871.84 885.26 871.87 884.11 871.85 883.00C871.67 873.20 871.72 863.40 871.60 853.60C871.44 840.10 871.28 826.60 871.00 813.10C870.72 799.63 870.49 786.16 869.90 772.70C869.60 765.95 869.47 759.16 868.35 752.50C867.75 748.95 866.50 745.47 864.80 742.30C864.02 740.84 862.49 739.89 861.10 739.00C858.90 737.60 856.53 736.44 854.10 735.50C851.15 734.36 847.97 733.90 845.00 732.80C844.42 732.59 843.79 732.19 843.60 731.60C843.48 731.21 843.92 730.74 844.30 730.60C846.13 729.94 848.10 729.74 850.00 729.30C853.33 728.54 856.65 727.71 860.00 727.00C862.65 726.44 865.35 726.10 868.00 725.50C868.89 725.30 869.72 724.86 870.60 724.60C871.09 724.46 871.59 724.36 872.10 724.30C872.43 724.26 872.77 724.26 873.10 724.30Z" fill="#009ba6" stroke="#0e5d63" stroke-width="0.9"/>
<circle cx="802.2" cy="769.6" r="3" fill="#0b3d42"/>
<circle cx="872.6" cy="741.3" r="3" fill="#0b3d42"/>
<text x="812.3" y="772.7" fill="#1c5c66" font-size="13.2" textLength="26.6" lengthAdjust="spacingAndGlyphs">0.53</text>
<text x="880.5" y="762.2" fill="#1c5c66" font-size="13.2" textLength="26.8" lengthAdjust="spacingAndGlyphs">0.85</text>
<line x1="802.2" y1="910.0" x2="802.2" y2="915.0" stroke="#666666" stroke-width="1.2"/>
<line x1="872.6" y1="910.0" x2="872.6" y2="915.0" stroke="#666666" stroke-width="1.2"/>
<text x="802.3" y="932.0" text-anchor="middle" font-size="14.7" textLength="47.9" lengthAdjust="spacingAndGlyphs">Default</text>
<text x="871.0" y="932.0" text-anchor="middle" font-size="14.7" textLength="54.5" lengthAdjust="spacingAndGlyphs">Transfer</text>
<text x="872.7" y="948.3" text-anchor="middle" font-size="14.7" textLength="54.8" lengthAdjust="spacingAndGlyphs">learning</text>
<text x="742.6" y="812.1" text-anchor="middle" font-size="15.3" textLength="140.1" lengthAdjust="spacingAndGlyphs" transform="rotate(-90 742.6 812.1)">Spectral correlation</text>
<text x="923.5" y="680.7" fill="#1a1a1a" font-weight="bold" font-size="22.2" stroke="#1a1a1a" stroke-width="0.35">i</text>
<line x1="1003.5" y1="715.1" x2="1003.5" y2="910.3" stroke="#666666" stroke-width="1.2"/>
<line x1="1002.9" y1="910.3" x2="1200.0" y2="910.3" stroke="#666666" stroke-width="1.2"/>
<line x1="998.5" y1="753.1" x2="1003.5" y2="753.1" stroke="#666666" stroke-width="1.2"/>
<text x="993.2" y="757.4" text-anchor="end" font-size="13.3" textLength="46.2" lengthAdjust="spacingAndGlyphs">80,000</text>
<line x1="998.5" y1="792.4" x2="1003.5" y2="792.4" stroke="#666666" stroke-width="1.2"/>
<text x="993.2" y="796.7" text-anchor="end" font-size="13.3" textLength="46.2" lengthAdjust="spacingAndGlyphs">60,000</text>
<line x1="998.5" y1="831.6" x2="1003.5" y2="831.6" stroke="#666666" stroke-width="1.2"/>
<text x="993.2" y="835.9" text-anchor="end" font-size="13.3" textLength="46.2" lengthAdjust="spacingAndGlyphs">40,000</text>
<line x1="998.5" y1="870.9" x2="1003.5" y2="870.9" stroke="#666666" stroke-width="1.2"/>
<text x="993.2" y="875.2" text-anchor="end" font-size="13.3" textLength="46.2" lengthAdjust="spacingAndGlyphs">20,000</text>
<line x1="998.5" y1="910.2" x2="1003.5" y2="910.2" stroke="#666666" stroke-width="1.2"/>
<text x="993.2" y="914.5" text-anchor="end" font-size="13.3" textLength="8.8" lengthAdjust="spacingAndGlyphs">0</text>
<rect x="1007.5" y="724.4" width="40.3" height="185.9" fill="#009ba6" stroke="#105a60" stroke-width="1"/>
<line x1="1027.7" y1="910.3" x2="1027.7" y2="915.3" stroke="#666666" stroke-width="1.2"/>
<text x="1032.9" y="716.9" fill="#1a1a1a" font-weight="bold" font-size="14.3" textLength="47.1" lengthAdjust="spacingAndGlyphs" transform="rotate(-90 1032.9 716.9)" stroke="#1a1a1a" stroke-width="0.25">94,608</text>
<rect x="1057" y="797.6" width="39.4" height="112.7" fill="#009ba6" stroke="#105a60" stroke-width="1"/>
<line x1="1076.7" y1="910.3" x2="1076.7" y2="915.3" stroke="#666666" stroke-width="1.2"/>
<text x="1081.9" y="790.1" fill="#1a1a1a" font-weight="bold" font-size="14.3" textLength="47.1" lengthAdjust="spacingAndGlyphs" transform="rotate(-90 1081.9 790.1)" stroke="#1a1a1a" stroke-width="0.25">57,332</text>
<rect x="1105.7" y="883.6" width="40.1" height="26.7" fill="#009ba6" stroke="#105a60" stroke-width="1"/>
<line x1="1125.8" y1="910.3" x2="1125.8" y2="915.3" stroke="#666666" stroke-width="1.2"/>
<text x="1131.0" y="876.1" fill="#1a1a1a" font-weight="bold" font-size="14.3" textLength="45.0" lengthAdjust="spacingAndGlyphs" transform="rotate(-90 1131.0 876.1)" stroke="#1a1a1a" stroke-width="0.25">13,548</text>
<rect x="1154.7" y="906.6" width="40.1" height="3.7" fill="#009ba6" stroke="#105a60" stroke-width="1"/>
<line x1="1174.8" y1="910.3" x2="1174.8" y2="915.3" stroke="#666666" stroke-width="1.2"/>
<text x="1180.0" y="899.1" fill="#1a1a1a" font-weight="bold" font-size="14.3" textLength="36.6" lengthAdjust="spacingAndGlyphs" transform="rotate(-90 1180.0 899.1)" stroke="#1a1a1a" stroke-width="0.25">1,849</text>
<text x="969.0" y="988.5" font-size="13.3" transform="rotate(-45 969.0 988.5)">Dimethyl@Any</text>
<text x="996.0" y="985.0" font-size="13.3" transform="rotate(-45 996.0 985.0)">N terminus</text>
<text x="1030.5" y="979.5" font-size="13.3" transform="rotate(-45 1030.5 979.5)">Dimethyl@K</text>
<text x="1076.5" y="983.5" font-size="13.3" transform="rotate(-45 1076.5 983.5)">Oxidation@M</text>
<text x="1116.0" y="990.0" font-size="13.3" transform="rotate(-45 1116.0 990.0)">Acetyl@Protein</text>
<text x="1145.0" y="983.0" font-size="13.3" transform="rotate(-45 1145.0 983.0)">N terminus</text>
<text x="936.5" y="812.9" text-anchor="middle" font-size="15.3" textLength="122.4" lengthAdjust="spacingAndGlyphs" transform="rotate(-90 936.5 812.9)">Unique precursor</text>
</svg></body></html>
